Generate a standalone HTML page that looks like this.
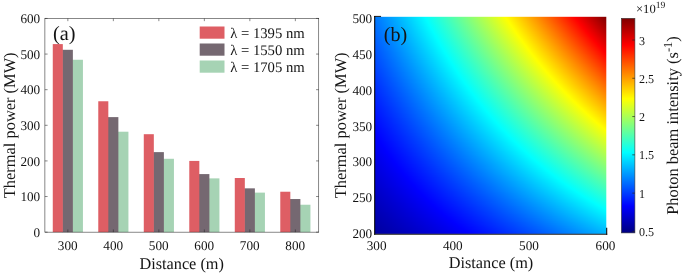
<!DOCTYPE html>
<html><head><meta charset="utf-8"><title>fig</title>
<style>html,body{margin:0;padding:0;background:#fff}svg{display:block}text{font-family:"Liberation Serif",serif;fill:#141414;text-rendering:geometricPrecision}#left,#right{will-change:transform}</style></head><body>
<svg width="685" height="275" viewBox="0 0 685 275">
<rect width="685" height="275" fill="#fff"/>
<g id="left">
<rect x="72.28" y="59.77" width="10.65" height="172.38" fill="#a6d3b4"/>
<rect x="62.22" y="49.79" width="10.65" height="182.36" fill="#756871"/>
<rect x="52.77" y="44.09" width="10.05" height="188.06" fill="#de5e64"/>
<rect x="117.78" y="131.71" width="10.65" height="100.44" fill="#a6d3b4"/>
<rect x="107.72" y="117.11" width="10.65" height="115.04" fill="#756871"/>
<rect x="98.27" y="101.26" width="10.05" height="130.89" fill="#de5e64"/>
<rect x="163.28" y="158.78" width="10.65" height="73.37" fill="#a6d3b4"/>
<rect x="153.23" y="152.12" width="10.65" height="80.03" fill="#756871"/>
<rect x="143.78" y="134.20" width="10.05" height="97.95" fill="#de5e64"/>
<rect x="208.78" y="178.37" width="10.65" height="53.78" fill="#a6d3b4"/>
<rect x="198.73" y="174.09" width="10.65" height="58.06" fill="#756871"/>
<rect x="189.28" y="160.92" width="10.05" height="71.23" fill="#de5e64"/>
<rect x="254.28" y="192.62" width="10.65" height="39.53" fill="#a6d3b4"/>
<rect x="244.23" y="188.34" width="10.65" height="43.81" fill="#756871"/>
<rect x="234.78" y="178.01" width="10.05" height="54.14" fill="#de5e64"/>
<rect x="299.78" y="204.73" width="10.65" height="27.42" fill="#a6d3b4"/>
<rect x="289.73" y="199.03" width="10.65" height="33.12" fill="#756871"/>
<rect x="280.28" y="191.73" width="10.05" height="40.42" fill="#de5e64"/>
<rect x="44.90" y="18.45" width="273.85" height="213.70" fill="none" stroke="#262626" stroke-width="0.55"/>
<path d="M67.85 232.15v-2.70M67.85 18.45v2.70M113.35 232.15v-2.70M113.35 18.45v2.70M158.85 232.15v-2.70M158.85 18.45v2.70M204.35 232.15v-2.70M204.35 18.45v2.70M249.85 232.15v-2.70M249.85 18.45v2.70M295.35 232.15v-2.70M295.35 18.45v2.70M44.90 232.15h2.70M318.75 232.15h-2.70M44.90 196.53h2.70M318.75 196.53h-2.70M44.90 160.92h2.70M318.75 160.92h-2.70M44.90 125.30h2.70M318.75 125.30h-2.70M44.90 89.68h2.70M318.75 89.68h-2.70M44.90 54.07h2.70M318.75 54.07h-2.70M44.90 18.45h2.70M318.75 18.45h-2.70" stroke="#262626" stroke-width="0.55" fill="none"/>
<text x="40.2" y="236.85" font-size="13.2" text-anchor="end">0</text>
<text x="40.2" y="201.23" font-size="13.2" text-anchor="end">100</text>
<text x="40.2" y="165.62" font-size="13.2" text-anchor="end">200</text>
<text x="40.2" y="130.00" font-size="13.2" text-anchor="end">300</text>
<text x="40.2" y="94.38" font-size="13.2" text-anchor="end">400</text>
<text x="40.2" y="58.77" font-size="13.2" text-anchor="end">500</text>
<text x="40.2" y="23.15" font-size="13.2" text-anchor="end">600</text>
<text x="67.75" y="249.9" font-size="13.2" text-anchor="middle">300</text>
<text x="113.25" y="249.9" font-size="13.2" text-anchor="middle">400</text>
<text x="158.75" y="249.9" font-size="13.2" text-anchor="middle">500</text>
<text x="204.25" y="249.9" font-size="13.2" text-anchor="middle">600</text>
<text x="249.75" y="249.9" font-size="13.2" text-anchor="middle">700</text>
<text x="295.25" y="249.9" font-size="13.2" text-anchor="middle">800</text>
<text x="181.65" y="268.5" font-size="16.3" text-anchor="middle">Distance (m)</text>
<text transform="translate(14.7 125.3) rotate(-90)" font-size="16.42" text-anchor="middle">Thermal power (MW)</text>
<text x="53" y="39.8" font-size="20.3">(a)</text>
<rect x="199.7" y="26.50" width="24.8" height="12.2" fill="#de5e64"/>
<text x="230.2" y="37.70" font-size="14.7">λ = 1395 nm</text>
<rect x="199.7" y="43.50" width="24.8" height="12.2" fill="#756871"/>
<text x="230.2" y="54.70" font-size="14.7">λ = 1550 nm</text>
<rect x="199.7" y="60.50" width="24.8" height="12.2" fill="#a6d3b4"/>
<text x="230.2" y="71.70" font-size="14.7">λ = 1705 nm</text>
</g>
<g id="right">
<defs>
<linearGradient id="g0"><stop offset="0" stop-color="#07f"/><stop offset=".05" stop-color="#0094ff"/><stop offset=".1" stop-color="#00b3ff"/><stop offset=".15" stop-color="#00d2ff"/><stop offset=".2" stop-color="#00f3ff"/><stop offset=".218" stop-color="#0ff"/><stop offset=".25" stop-color="#16ffe9"/><stop offset=".3" stop-color="#38ffc7"/><stop offset=".35" stop-color="#5cffa3"/><stop offset=".4" stop-color="#80ff7f"/><stop offset=".45" stop-color="#a6ff59"/><stop offset=".5" stop-color="#cf3"/><stop offset=".55" stop-color="#f3ff0c"/><stop offset=".565" stop-color="#ff0"/><stop offset=".6" stop-color="#ffe200"/><stop offset=".65" stop-color="#ffb900"/><stop offset=".7" stop-color="#ff8f00"/><stop offset=".75" stop-color="#ff6400"/><stop offset=".8" stop-color="#ff3800"/><stop offset=".85" stop-color="#ff0c00"/><stop offset=".863" stop-color="#f00"/><stop offset=".9" stop-color="#d00"/><stop offset=".95" stop-color="#ae0000"/><stop offset="1" stop-color="#800000"/></linearGradient>
<linearGradient id="g1"><stop offset="0" stop-color="#0076ff"/><stop offset=".05" stop-color="#0094ff"/><stop offset=".1" stop-color="#00b2ff"/><stop offset=".15" stop-color="#00d2ff"/><stop offset=".2" stop-color="#00f2ff"/><stop offset=".219" stop-color="#0ff"/><stop offset=".25" stop-color="#15ffea"/><stop offset=".3" stop-color="#37ffc8"/><stop offset=".35" stop-color="#5bffa4"/><stop offset=".4" stop-color="#7fff80"/><stop offset=".45" stop-color="#a4ff5b"/><stop offset=".5" stop-color="#cbff34"/><stop offset=".55" stop-color="#f2ff0d"/><stop offset=".566" stop-color="#ff0"/><stop offset=".6" stop-color="#ffe400"/><stop offset=".65" stop-color="#fb0"/><stop offset=".7" stop-color="#ff9100"/><stop offset=".75" stop-color="#f60"/><stop offset=".8" stop-color="#ff3a00"/><stop offset=".85" stop-color="#ff0d00"/><stop offset=".865" stop-color="#f00"/><stop offset=".9" stop-color="#df0000"/><stop offset=".95" stop-color="#b00000"/><stop offset="1" stop-color="#810000"/></linearGradient>
<linearGradient id="g2"><stop offset="0" stop-color="#0075ff"/><stop offset=".05" stop-color="#0093ff"/><stop offset=".1" stop-color="#00b1ff"/><stop offset=".15" stop-color="#00d0ff"/><stop offset=".2" stop-color="#00f1ff"/><stop offset=".221" stop-color="#0ff"/><stop offset=".25" stop-color="#13ffec"/><stop offset=".3" stop-color="#36ffc9"/><stop offset=".35" stop-color="#59ffa6"/><stop offset=".4" stop-color="#7dff82"/><stop offset=".45" stop-color="#a2ff5d"/><stop offset=".5" stop-color="#c9ff36"/><stop offset=".55" stop-color="#f0ff0f"/><stop offset=".569" stop-color="#ff0"/><stop offset=".6" stop-color="#ffe600"/><stop offset=".65" stop-color="#ffbd00"/><stop offset=".7" stop-color="#ff9300"/><stop offset=".75" stop-color="#ff6900"/><stop offset=".8" stop-color="#ff3d00"/><stop offset=".85" stop-color="#ff1000"/><stop offset=".868" stop-color="#f00"/><stop offset=".9" stop-color="#e20000"/><stop offset=".95" stop-color="#b40000"/><stop offset="1" stop-color="#840000"/></linearGradient>
<linearGradient id="g3"><stop offset="0" stop-color="#0074ff"/><stop offset=".05" stop-color="#0091ff"/><stop offset=".1" stop-color="#00b0ff"/><stop offset=".15" stop-color="#00cfff"/><stop offset=".2" stop-color="#00efff"/><stop offset=".224" stop-color="#0ff"/><stop offset=".25" stop-color="#12ffed"/><stop offset=".3" stop-color="#34ffcb"/><stop offset=".35" stop-color="#57ffa8"/><stop offset=".4" stop-color="#7bff84"/><stop offset=".45" stop-color="#a0ff5f"/><stop offset=".5" stop-color="#c7ff38"/><stop offset=".55" stop-color="#ef1"/><stop offset=".572" stop-color="#ff0"/><stop offset=".6" stop-color="#ffe900"/><stop offset=".65" stop-color="#ffc000"/><stop offset=".7" stop-color="#ff9600"/><stop offset=".75" stop-color="#ff6b00"/><stop offset=".8" stop-color="#ff4000"/><stop offset=".85" stop-color="#ff1300"/><stop offset=".871" stop-color="#f00"/><stop offset=".9" stop-color="#e50000"/><stop offset=".95" stop-color="#b70000"/><stop offset="1" stop-color="#800"/></linearGradient>
<linearGradient id="g4"><stop offset="0" stop-color="#0073ff"/><stop offset=".05" stop-color="#0090ff"/><stop offset=".1" stop-color="#00afff"/><stop offset=".15" stop-color="#00ceff"/><stop offset=".2" stop-color="#0ef"/><stop offset=".226" stop-color="#0ff"/><stop offset=".25" stop-color="#10ffef"/><stop offset=".3" stop-color="#32ffcd"/><stop offset=".35" stop-color="#5fa"/><stop offset=".4" stop-color="#79ff86"/><stop offset=".45" stop-color="#9fff60"/><stop offset=".5" stop-color="#c4ff3b"/><stop offset=".55" stop-color="#ebff14"/><stop offset=".575" stop-color="#ff0"/><stop offset=".6" stop-color="#ffeb00"/><stop offset=".65" stop-color="#ffc200"/><stop offset=".7" stop-color="#f90"/><stop offset=".75" stop-color="#ff6e00"/><stop offset=".8" stop-color="#ff4300"/><stop offset=".85" stop-color="#ff1600"/><stop offset=".875" stop-color="#f00"/><stop offset=".9" stop-color="#e80000"/><stop offset=".95" stop-color="#ba0000"/><stop offset="1" stop-color="#8b0000"/></linearGradient>
<linearGradient id="g5"><stop offset="0" stop-color="#0072ff"/><stop offset=".05" stop-color="#008fff"/><stop offset=".1" stop-color="#00adff"/><stop offset=".15" stop-color="#0cf"/><stop offset=".2" stop-color="#00ecff"/><stop offset=".228" stop-color="#0ff"/><stop offset=".25" stop-color="#0ffff0"/><stop offset=".3" stop-color="#31ffce"/><stop offset=".35" stop-color="#54ffab"/><stop offset=".4" stop-color="#78ff87"/><stop offset=".45" stop-color="#9dff62"/><stop offset=".5" stop-color="#c2ff3d"/><stop offset=".55" stop-color="#e9ff16"/><stop offset=".578" stop-color="#ff0"/><stop offset=".6" stop-color="#ffed00"/><stop offset=".65" stop-color="#ffc500"/><stop offset=".7" stop-color="#ff9b00"/><stop offset=".75" stop-color="#ff7100"/><stop offset=".8" stop-color="#ff4500"/><stop offset=".85" stop-color="#ff1900"/><stop offset=".878" stop-color="#f00"/><stop offset=".9" stop-color="#eb0000"/><stop offset=".95" stop-color="#bd0000"/><stop offset="1" stop-color="#8f0000"/></linearGradient>
<linearGradient id="g6"><stop offset="0" stop-color="#0071ff"/><stop offset=".05" stop-color="#008eff"/><stop offset=".1" stop-color="#00acff"/><stop offset=".15" stop-color="#00cbff"/><stop offset=".2" stop-color="#00ebff"/><stop offset=".23" stop-color="#0ff"/><stop offset=".25" stop-color="#0dfff2"/><stop offset=".3" stop-color="#2fffd0"/><stop offset=".35" stop-color="#52ffad"/><stop offset=".4" stop-color="#76ff89"/><stop offset=".45" stop-color="#9bff64"/><stop offset=".5" stop-color="#c0ff3f"/><stop offset=".55" stop-color="#e7ff18"/><stop offset=".581" stop-color="#ff0"/><stop offset=".6" stop-color="#fff000"/><stop offset=".65" stop-color="#ffc700"/><stop offset=".7" stop-color="#ff9e00"/><stop offset=".75" stop-color="#ff7300"/><stop offset=".8" stop-color="#ff4800"/><stop offset=".85" stop-color="#ff1c00"/><stop offset=".882" stop-color="#f00"/><stop offset=".9" stop-color="#e00"/><stop offset=".95" stop-color="#c10000"/><stop offset="1" stop-color="#920000"/></linearGradient>
<linearGradient id="g7"><stop offset="0" stop-color="#0070ff"/><stop offset=".05" stop-color="#008dff"/><stop offset=".1" stop-color="#00abff"/><stop offset=".15" stop-color="#00caff"/><stop offset=".2" stop-color="#00eaff"/><stop offset=".233" stop-color="#0ff"/><stop offset=".25" stop-color="#0cfff3"/><stop offset=".3" stop-color="#2dffd2"/><stop offset=".35" stop-color="#50ffaf"/><stop offset=".4" stop-color="#74ff8b"/><stop offset=".45" stop-color="#9f6"/><stop offset=".5" stop-color="#beff41"/><stop offset=".55" stop-color="#e5ff1a"/><stop offset=".583" stop-color="#ff0"/><stop offset=".6" stop-color="#fff200"/><stop offset=".65" stop-color="#ffca00"/><stop offset=".7" stop-color="#ffa000"/><stop offset=".75" stop-color="#ff7600"/><stop offset=".8" stop-color="#ff4b00"/><stop offset=".85" stop-color="#ff1f00"/><stop offset=".885" stop-color="#f00"/><stop offset=".9" stop-color="#f20000"/><stop offset=".95" stop-color="#c40000"/><stop offset="1" stop-color="#960000"/></linearGradient>
<linearGradient id="g8"><stop offset="0" stop-color="#006fff"/><stop offset=".05" stop-color="#008cff"/><stop offset=".1" stop-color="#0af"/><stop offset=".15" stop-color="#00c8ff"/><stop offset=".2" stop-color="#00e8ff"/><stop offset=".235" stop-color="#0ff"/><stop offset=".25" stop-color="#0afff5"/><stop offset=".3" stop-color="#2cffd3"/><stop offset=".35" stop-color="#4effb1"/><stop offset=".4" stop-color="#72ff8d"/><stop offset=".45" stop-color="#97ff68"/><stop offset=".5" stop-color="#bcff43"/><stop offset=".55" stop-color="#e2ff1d"/><stop offset=".586" stop-color="#ff0"/><stop offset=".6" stop-color="#fff400"/><stop offset=".65" stop-color="#fc0"/><stop offset=".7" stop-color="#ffa300"/><stop offset=".75" stop-color="#ff7900"/><stop offset=".8" stop-color="#ff4e00"/><stop offset=".85" stop-color="#f20"/><stop offset=".889" stop-color="#f00"/><stop offset=".9" stop-color="#f50000"/><stop offset=".95" stop-color="#c70000"/><stop offset="1" stop-color="#900"/></linearGradient>
<linearGradient id="g9"><stop offset="0" stop-color="#006eff"/><stop offset=".05" stop-color="#008bff"/><stop offset=".1" stop-color="#00a8ff"/><stop offset=".15" stop-color="#00c7ff"/><stop offset=".2" stop-color="#00e7ff"/><stop offset=".237" stop-color="#0ff"/><stop offset=".25" stop-color="#08fff7"/><stop offset=".3" stop-color="#2affd5"/><stop offset=".35" stop-color="#4dffb2"/><stop offset=".4" stop-color="#70ff8f"/><stop offset=".45" stop-color="#95ff6a"/><stop offset=".5" stop-color="#baff45"/><stop offset=".55" stop-color="#e0ff1f"/><stop offset=".589" stop-color="#ff0"/><stop offset=".6" stop-color="#fff700"/><stop offset=".65" stop-color="#ffce00"/><stop offset=".7" stop-color="#ffa600"/><stop offset=".75" stop-color="#ff7c00"/><stop offset=".8" stop-color="#ff5100"/><stop offset=".85" stop-color="#ff2500"/><stop offset=".892" stop-color="#f00"/><stop offset=".9" stop-color="#f80000"/><stop offset=".95" stop-color="#cb0000"/><stop offset="1" stop-color="#9c0000"/></linearGradient>
<linearGradient id="g10"><stop offset="0" stop-color="#006dff"/><stop offset=".05" stop-color="#008aff"/><stop offset=".1" stop-color="#00a7ff"/><stop offset=".15" stop-color="#00c6ff"/><stop offset=".2" stop-color="#00e5ff"/><stop offset=".239" stop-color="#0ff"/><stop offset=".25" stop-color="#07fff8"/><stop offset=".3" stop-color="#28ffd7"/><stop offset=".35" stop-color="#4bffb4"/><stop offset=".4" stop-color="#6eff91"/><stop offset=".45" stop-color="#93ff6c"/><stop offset=".5" stop-color="#b8ff47"/><stop offset=".55" stop-color="#deff21"/><stop offset=".592" stop-color="#ff0"/><stop offset=".6" stop-color="#fff900"/><stop offset=".65" stop-color="#ffd100"/><stop offset=".7" stop-color="#ffa800"/><stop offset=".75" stop-color="#ff7e00"/><stop offset=".8" stop-color="#ff5400"/><stop offset=".85" stop-color="#ff2800"/><stop offset=".896" stop-color="#f00"/><stop offset=".9" stop-color="#fb0000"/><stop offset=".95" stop-color="#ce0000"/><stop offset="1" stop-color="#a00000"/></linearGradient>
<linearGradient id="g11"><stop offset="0" stop-color="#006cff"/><stop offset=".05" stop-color="#08f"/><stop offset=".1" stop-color="#00a6ff"/><stop offset=".15" stop-color="#00c4ff"/><stop offset=".2" stop-color="#00e4ff"/><stop offset=".242" stop-color="#0ff"/><stop offset=".25" stop-color="#05fffa"/><stop offset=".3" stop-color="#27ffd8"/><stop offset=".35" stop-color="#49ffb6"/><stop offset=".4" stop-color="#6cff93"/><stop offset=".45" stop-color="#91ff6e"/><stop offset=".5" stop-color="#b6ff49"/><stop offset=".55" stop-color="#dcff23"/><stop offset=".595" stop-color="#ff0"/><stop offset=".6" stop-color="#fffb00"/><stop offset=".65" stop-color="#ffd300"/><stop offset=".7" stop-color="#ffab00"/><stop offset=".75" stop-color="#ff8100"/><stop offset=".8" stop-color="#ff5700"/><stop offset=".85" stop-color="#ff2b00"/><stop offset=".899" stop-color="#f00"/><stop offset=".9" stop-color="#fe0000"/><stop offset=".95" stop-color="#d10000"/><stop offset="1" stop-color="#a30000"/></linearGradient>
<linearGradient id="g12"><stop offset="0" stop-color="#006bff"/><stop offset=".05" stop-color="#0087ff"/><stop offset=".1" stop-color="#00a5ff"/><stop offset=".15" stop-color="#00c3ff"/><stop offset=".2" stop-color="#00e3ff"/><stop offset=".244" stop-color="#0ff"/><stop offset=".25" stop-color="#04fffb"/><stop offset=".3" stop-color="#25ffda"/><stop offset=".35" stop-color="#47ffb8"/><stop offset=".4" stop-color="#6bff94"/><stop offset=".45" stop-color="#8fff70"/><stop offset=".5" stop-color="#b4ff4b"/><stop offset=".55" stop-color="#daff25"/><stop offset=".598" stop-color="#ff0"/><stop offset=".6" stop-color="#fffe00"/><stop offset=".65" stop-color="#ffd600"/><stop offset=".7" stop-color="#ffad00"/><stop offset=".75" stop-color="#ff8400"/><stop offset=".8" stop-color="#ff5a00"/><stop offset=".85" stop-color="#ff2e00"/><stop offset=".9" stop-color="#ff0200"/><stop offset=".903" stop-color="#f00"/><stop offset=".95" stop-color="#d40000"/><stop offset="1" stop-color="#a70000"/></linearGradient>
<linearGradient id="g13"><stop offset="0" stop-color="#006aff"/><stop offset=".05" stop-color="#0086ff"/><stop offset=".1" stop-color="#00a3ff"/><stop offset=".15" stop-color="#00c2ff"/><stop offset=".2" stop-color="#00e1ff"/><stop offset=".246" stop-color="#0ff"/><stop offset=".25" stop-color="#02fffd"/><stop offset=".3" stop-color="#24ffdb"/><stop offset=".35" stop-color="#46ffb9"/><stop offset=".4" stop-color="#69ff96"/><stop offset=".45" stop-color="#8dff72"/><stop offset=".5" stop-color="#b2ff4d"/><stop offset=".55" stop-color="#d7ff28"/><stop offset=".6" stop-color="#feff01"/><stop offset=".601" stop-color="#ff0"/><stop offset=".65" stop-color="#ffd800"/><stop offset=".7" stop-color="#ffb000"/><stop offset=".75" stop-color="#ff8700"/><stop offset=".8" stop-color="#ff5c00"/><stop offset=".85" stop-color="#ff3100"/><stop offset=".9" stop-color="#ff0500"/><stop offset=".906" stop-color="#f00"/><stop offset=".95" stop-color="#d80000"/><stop offset="1" stop-color="#a00"/></linearGradient>
<linearGradient id="g14"><stop offset="0" stop-color="#0069ff"/><stop offset=".05" stop-color="#0085ff"/><stop offset=".1" stop-color="#00a2ff"/><stop offset=".15" stop-color="#00c0ff"/><stop offset=".2" stop-color="#00e0ff"/><stop offset=".249" stop-color="#0ff"/><stop offset=".25" stop-color="#01fffe"/><stop offset=".3" stop-color="#2fd"/><stop offset=".35" stop-color="#4fb"/><stop offset=".4" stop-color="#67ff98"/><stop offset=".45" stop-color="#8bff74"/><stop offset=".5" stop-color="#b0ff4f"/><stop offset=".55" stop-color="#d5ff2a"/><stop offset=".6" stop-color="#fcff03"/><stop offset=".604" stop-color="#ff0"/><stop offset=".65" stop-color="#ffdb00"/><stop offset=".7" stop-color="#ffb200"/><stop offset=".75" stop-color="#ff8900"/><stop offset=".8" stop-color="#ff5f00"/><stop offset=".85" stop-color="#ff3400"/><stop offset=".9" stop-color="#ff0900"/><stop offset=".91" stop-color="#f00"/><stop offset=".95" stop-color="#db0000"/><stop offset="1" stop-color="#ae0000"/></linearGradient>
<linearGradient id="g15"><stop offset="0" stop-color="#0068ff"/><stop offset=".05" stop-color="#0084ff"/><stop offset=".1" stop-color="#00a1ff"/><stop offset=".15" stop-color="#00bfff"/><stop offset=".2" stop-color="#00deff"/><stop offset=".25" stop-color="#00feff"/><stop offset=".251" stop-color="#0ff"/><stop offset=".3" stop-color="#20ffdf"/><stop offset=".35" stop-color="#42ffbd"/><stop offset=".4" stop-color="#65ff9a"/><stop offset=".45" stop-color="#89ff76"/><stop offset=".5" stop-color="#adff52"/><stop offset=".55" stop-color="#d3ff2c"/><stop offset=".6" stop-color="#f9ff06"/><stop offset=".607" stop-color="#ff0"/><stop offset=".65" stop-color="#fd0"/><stop offset=".7" stop-color="#ffb500"/><stop offset=".75" stop-color="#ff8c00"/><stop offset=".8" stop-color="#ff6200"/><stop offset=".85" stop-color="#ff3700"/><stop offset=".9" stop-color="#ff0c00"/><stop offset=".913" stop-color="#f00"/><stop offset=".95" stop-color="#de0000"/><stop offset="1" stop-color="#b10000"/></linearGradient>
<linearGradient id="g16"><stop offset="0" stop-color="#0067ff"/><stop offset=".05" stop-color="#0083ff"/><stop offset=".1" stop-color="#00a0ff"/><stop offset=".15" stop-color="#00beff"/><stop offset=".2" stop-color="#0df"/><stop offset=".25" stop-color="#00fdff"/><stop offset=".253" stop-color="#0ff"/><stop offset=".3" stop-color="#1fffe0"/><stop offset=".35" stop-color="#40ffbf"/><stop offset=".4" stop-color="#63ff9c"/><stop offset=".45" stop-color="#87ff78"/><stop offset=".5" stop-color="#abff54"/><stop offset=".55" stop-color="#d1ff2e"/><stop offset=".6" stop-color="#f7ff08"/><stop offset=".61" stop-color="#ff0"/><stop offset=".65" stop-color="#ffe000"/><stop offset=".7" stop-color="#ffb800"/><stop offset=".75" stop-color="#ff8f00"/><stop offset=".8" stop-color="#ff6500"/><stop offset=".85" stop-color="#ff3a00"/><stop offset=".9" stop-color="#ff0f00"/><stop offset=".917" stop-color="#f00"/><stop offset=".95" stop-color="#e20000"/><stop offset="1" stop-color="#b40000"/></linearGradient>
<linearGradient id="g17"><stop offset="0" stop-color="#06f"/><stop offset=".05" stop-color="#0082ff"/><stop offset=".1" stop-color="#009fff"/><stop offset=".15" stop-color="#00bdff"/><stop offset=".2" stop-color="#00dbff"/><stop offset=".25" stop-color="#00fbff"/><stop offset=".256" stop-color="#0ff"/><stop offset=".3" stop-color="#1dffe2"/><stop offset=".35" stop-color="#3fffc0"/><stop offset=".4" stop-color="#61ff9e"/><stop offset=".45" stop-color="#85ff7a"/><stop offset=".5" stop-color="#a9ff56"/><stop offset=".55" stop-color="#cfff30"/><stop offset=".6" stop-color="#f5ff0a"/><stop offset=".613" stop-color="#ff0"/><stop offset=".65" stop-color="#ffe200"/><stop offset=".7" stop-color="#ffba00"/><stop offset=".75" stop-color="#ff9100"/><stop offset=".8" stop-color="#ff6800"/><stop offset=".85" stop-color="#ff3d00"/><stop offset=".9" stop-color="#ff1200"/><stop offset=".92" stop-color="#f00"/><stop offset=".95" stop-color="#e50000"/><stop offset="1" stop-color="#b80000"/></linearGradient>
<linearGradient id="g18"><stop offset="0" stop-color="#0065ff"/><stop offset=".05" stop-color="#0081ff"/><stop offset=".1" stop-color="#009dff"/><stop offset=".15" stop-color="#0bf"/><stop offset=".2" stop-color="#00daff"/><stop offset=".25" stop-color="#00faff"/><stop offset=".258" stop-color="#0ff"/><stop offset=".3" stop-color="#1bffe4"/><stop offset=".35" stop-color="#3dffc2"/><stop offset=".4" stop-color="#60ff9f"/><stop offset=".45" stop-color="#83ff7c"/><stop offset=".5" stop-color="#a7ff58"/><stop offset=".55" stop-color="#cf3"/><stop offset=".6" stop-color="#f2ff0d"/><stop offset=".616" stop-color="#ff0"/><stop offset=".65" stop-color="#ffe500"/><stop offset=".7" stop-color="#ffbd00"/><stop offset=".75" stop-color="#ff9400"/><stop offset=".8" stop-color="#ff6b00"/><stop offset=".85" stop-color="#ff4000"/><stop offset=".9" stop-color="#ff1500"/><stop offset=".924" stop-color="#f00"/><stop offset=".95" stop-color="#e80000"/><stop offset="1" stop-color="#b00"/></linearGradient>
<linearGradient id="g19"><stop offset="0" stop-color="#0064ff"/><stop offset=".05" stop-color="#007fff"/><stop offset=".1" stop-color="#009cff"/><stop offset=".15" stop-color="#00baff"/><stop offset=".2" stop-color="#00d9ff"/><stop offset=".25" stop-color="#00f8ff"/><stop offset=".261" stop-color="#0ff"/><stop offset=".3" stop-color="#1affe5"/><stop offset=".35" stop-color="#3bffc4"/><stop offset=".4" stop-color="#5effa1"/><stop offset=".45" stop-color="#81ff7e"/><stop offset=".5" stop-color="#a5ff5a"/><stop offset=".55" stop-color="#caff35"/><stop offset=".6" stop-color="#f0ff0f"/><stop offset=".619" stop-color="#ff0"/><stop offset=".65" stop-color="#ffe700"/><stop offset=".7" stop-color="#ffbf00"/><stop offset=".75" stop-color="#ff9700"/><stop offset=".8" stop-color="#ff6d00"/><stop offset=".85" stop-color="#ff4300"/><stop offset=".9" stop-color="#ff1800"/><stop offset=".928" stop-color="#f00"/><stop offset=".95" stop-color="#eb0000"/><stop offset="1" stop-color="#bf0000"/></linearGradient>
<linearGradient id="g20"><stop offset="0" stop-color="#0063ff"/><stop offset=".05" stop-color="#007eff"/><stop offset=".1" stop-color="#009bff"/><stop offset=".15" stop-color="#00b9ff"/><stop offset=".2" stop-color="#00d7ff"/><stop offset=".25" stop-color="#00f7ff"/><stop offset=".263" stop-color="#0ff"/><stop offset=".3" stop-color="#18ffe7"/><stop offset=".35" stop-color="#3affc5"/><stop offset=".4" stop-color="#5cffa3"/><stop offset=".45" stop-color="#7fff80"/><stop offset=".5" stop-color="#a3ff5c"/><stop offset=".55" stop-color="#c8ff37"/><stop offset=".6" stop-color="#ef1"/><stop offset=".622" stop-color="#ff0"/><stop offset=".65" stop-color="#ffea00"/><stop offset=".7" stop-color="#ffc200"/><stop offset=".75" stop-color="#ff9a00"/><stop offset=".8" stop-color="#ff7000"/><stop offset=".85" stop-color="#ff4600"/><stop offset=".9" stop-color="#ff1b00"/><stop offset=".931" stop-color="#f00"/><stop offset=".95" stop-color="#ef0000"/><stop offset="1" stop-color="#c20000"/></linearGradient>
<linearGradient id="g21"><stop offset="0" stop-color="#0061ff"/><stop offset=".05" stop-color="#007dff"/><stop offset=".1" stop-color="#009aff"/><stop offset=".15" stop-color="#00b7ff"/><stop offset=".2" stop-color="#00d6ff"/><stop offset=".25" stop-color="#00f5ff"/><stop offset=".265" stop-color="#0ff"/><stop offset=".3" stop-color="#17ffe8"/><stop offset=".35" stop-color="#38ffc7"/><stop offset=".4" stop-color="#5affa5"/><stop offset=".45" stop-color="#7dff82"/><stop offset=".5" stop-color="#a1ff5e"/><stop offset=".55" stop-color="#c6ff39"/><stop offset=".6" stop-color="#ebff14"/><stop offset=".625" stop-color="#ff0"/><stop offset=".65" stop-color="#ffec00"/><stop offset=".7" stop-color="#ffc500"/><stop offset=".75" stop-color="#ff9c00"/><stop offset=".8" stop-color="#ff7300"/><stop offset=".85" stop-color="#ff4900"/><stop offset=".9" stop-color="#ff1f00"/><stop offset=".935" stop-color="#f00"/><stop offset=".95" stop-color="#f20000"/><stop offset="1" stop-color="#c60000"/></linearGradient>
<linearGradient id="g22"><stop offset="0" stop-color="#0060ff"/><stop offset=".05" stop-color="#007cff"/><stop offset=".1" stop-color="#09f"/><stop offset=".15" stop-color="#00b6ff"/><stop offset=".2" stop-color="#00d4ff"/><stop offset=".25" stop-color="#00f4ff"/><stop offset=".268" stop-color="#0ff"/><stop offset=".3" stop-color="#15ffea"/><stop offset=".35" stop-color="#36ffc9"/><stop offset=".4" stop-color="#58ffa7"/><stop offset=".45" stop-color="#7bff84"/><stop offset=".5" stop-color="#9fff60"/><stop offset=".55" stop-color="#c4ff3b"/><stop offset=".6" stop-color="#e9ff16"/><stop offset=".629" stop-color="#ff0"/><stop offset=".65" stop-color="#fe0"/><stop offset=".7" stop-color="#ffc700"/><stop offset=".75" stop-color="#ff9f00"/><stop offset=".8" stop-color="#ff7600"/><stop offset=".85" stop-color="#ff4c00"/><stop offset=".9" stop-color="#f20"/><stop offset=".939" stop-color="#f00"/><stop offset=".95" stop-color="#f50000"/><stop offset="1" stop-color="#c90000"/></linearGradient>
<linearGradient id="g23"><stop offset="0" stop-color="#005fff"/><stop offset=".05" stop-color="#007bff"/><stop offset=".1" stop-color="#0097ff"/><stop offset=".15" stop-color="#00b5ff"/><stop offset=".2" stop-color="#00d3ff"/><stop offset=".25" stop-color="#00f2ff"/><stop offset=".27" stop-color="#0ff"/><stop offset=".3" stop-color="#13ffec"/><stop offset=".35" stop-color="#34ffcb"/><stop offset=".4" stop-color="#56ffa9"/><stop offset=".45" stop-color="#79ff86"/><stop offset=".5" stop-color="#9dff62"/><stop offset=".55" stop-color="#c1ff3e"/><stop offset=".6" stop-color="#e7ff18"/><stop offset=".632" stop-color="#ff0"/><stop offset=".65" stop-color="#fff100"/><stop offset=".7" stop-color="#ffca00"/><stop offset=".75" stop-color="#ffa200"/><stop offset=".8" stop-color="#ff7900"/><stop offset=".85" stop-color="#ff4f00"/><stop offset=".9" stop-color="#ff2500"/><stop offset=".943" stop-color="#f00"/><stop offset=".95" stop-color="#f80000"/><stop offset="1" stop-color="#c00"/></linearGradient>
<linearGradient id="g24"><stop offset="0" stop-color="#005eff"/><stop offset=".05" stop-color="#007aff"/><stop offset=".1" stop-color="#0096ff"/><stop offset=".15" stop-color="#00b3ff"/><stop offset=".2" stop-color="#00d2ff"/><stop offset=".25" stop-color="#00f1ff"/><stop offset=".273" stop-color="#0ff"/><stop offset=".3" stop-color="#12ffed"/><stop offset=".35" stop-color="#3fc"/><stop offset=".4" stop-color="#54ffab"/><stop offset=".45" stop-color="#7f8"/><stop offset=".5" stop-color="#9bff64"/><stop offset=".55" stop-color="#bfff40"/><stop offset=".6" stop-color="#e5ff1a"/><stop offset=".635" stop-color="#ff0"/><stop offset=".65" stop-color="#fff300"/><stop offset=".7" stop-color="#fc0"/><stop offset=".75" stop-color="#ffa400"/><stop offset=".8" stop-color="#ff7c00"/><stop offset=".85" stop-color="#ff5200"/><stop offset=".9" stop-color="#ff2800"/><stop offset=".946" stop-color="#f00"/><stop offset=".95" stop-color="#fc0000"/><stop offset="1" stop-color="#d00000"/></linearGradient>
<linearGradient id="g25"><stop offset="0" stop-color="#005dff"/><stop offset=".05" stop-color="#0079ff"/><stop offset=".1" stop-color="#0095ff"/><stop offset=".15" stop-color="#00b2ff"/><stop offset=".2" stop-color="#00d0ff"/><stop offset=".25" stop-color="#00efff"/><stop offset=".275" stop-color="#0ff"/><stop offset=".3" stop-color="#10ffef"/><stop offset=".35" stop-color="#31ffce"/><stop offset=".4" stop-color="#53ffac"/><stop offset=".45" stop-color="#75ff8a"/><stop offset=".5" stop-color="#9f6"/><stop offset=".55" stop-color="#bdff42"/><stop offset=".6" stop-color="#e2ff1d"/><stop offset=".638" stop-color="#ff0"/><stop offset=".65" stop-color="#fff600"/><stop offset=".7" stop-color="#ffcf00"/><stop offset=".75" stop-color="#ffa700"/><stop offset=".8" stop-color="#ff7f00"/><stop offset=".85" stop-color="#f50"/><stop offset=".9" stop-color="#ff2b00"/><stop offset=".95" stop-color="#f00"/><stop offset="1" stop-color="#d30000"/></linearGradient>
<linearGradient id="g26"><stop offset="0" stop-color="#005cff"/><stop offset=".05" stop-color="#0078ff"/><stop offset=".1" stop-color="#0094ff"/><stop offset=".15" stop-color="#00b1ff"/><stop offset=".2" stop-color="#00cfff"/><stop offset=".25" stop-color="#0ef"/><stop offset=".278" stop-color="#0ff"/><stop offset=".3" stop-color="#0efff1"/><stop offset=".35" stop-color="#2fffd0"/><stop offset=".4" stop-color="#51ffae"/><stop offset=".45" stop-color="#73ff8c"/><stop offset=".5" stop-color="#97ff68"/><stop offset=".55" stop-color="#bf4"/><stop offset=".6" stop-color="#e0ff1f"/><stop offset=".641" stop-color="#ff0"/><stop offset=".65" stop-color="#fff800"/><stop offset=".7" stop-color="#ffd100"/><stop offset=".75" stop-color="#fa0"/><stop offset=".8" stop-color="#ff8100"/><stop offset=".85" stop-color="#ff5800"/><stop offset=".9" stop-color="#ff2e00"/><stop offset=".95" stop-color="#ff0300"/><stop offset=".954" stop-color="#f00"/><stop offset="1" stop-color="#d70000"/></linearGradient>
<linearGradient id="g27"><stop offset="0" stop-color="#005bff"/><stop offset=".05" stop-color="#0076ff"/><stop offset=".1" stop-color="#0092ff"/><stop offset=".15" stop-color="#00afff"/><stop offset=".2" stop-color="#00cdff"/><stop offset=".25" stop-color="#00ecff"/><stop offset=".28" stop-color="#0ff"/><stop offset=".3" stop-color="#0dfff2"/><stop offset=".35" stop-color="#2dffd2"/><stop offset=".4" stop-color="#4fffb0"/><stop offset=".45" stop-color="#71ff8e"/><stop offset=".5" stop-color="#95ff6a"/><stop offset=".55" stop-color="#b9ff46"/><stop offset=".6" stop-color="#deff21"/><stop offset=".644" stop-color="#ff0"/><stop offset=".65" stop-color="#fffb00"/><stop offset=".7" stop-color="#ffd400"/><stop offset=".75" stop-color="#ffad00"/><stop offset=".8" stop-color="#ff8400"/><stop offset=".85" stop-color="#ff5b00"/><stop offset=".9" stop-color="#ff3100"/><stop offset=".95" stop-color="#ff0700"/><stop offset=".958" stop-color="#f00"/><stop offset="1" stop-color="#da0000"/></linearGradient>
<linearGradient id="g28"><stop offset="0" stop-color="#005aff"/><stop offset=".05" stop-color="#0075ff"/><stop offset=".1" stop-color="#0091ff"/><stop offset=".15" stop-color="#00aeff"/><stop offset=".2" stop-color="#0cf"/><stop offset=".25" stop-color="#00ebff"/><stop offset=".282" stop-color="#0ff"/><stop offset=".3" stop-color="#0bfff4"/><stop offset=".35" stop-color="#2cffd3"/><stop offset=".4" stop-color="#4dffb2"/><stop offset=".45" stop-color="#6fff90"/><stop offset=".5" stop-color="#92ff6d"/><stop offset=".55" stop-color="#b6ff49"/><stop offset=".6" stop-color="#dbff24"/><stop offset=".648" stop-color="#ff0"/><stop offset=".65" stop-color="#fffd00"/><stop offset=".7" stop-color="#ffd700"/><stop offset=".75" stop-color="#ffaf00"/><stop offset=".8" stop-color="#ff8700"/><stop offset=".85" stop-color="#ff5e00"/><stop offset=".9" stop-color="#ff3400"/><stop offset=".95" stop-color="#ff0a00"/><stop offset=".961" stop-color="#f00"/><stop offset="1" stop-color="#d00"/></linearGradient>
<linearGradient id="g29"><stop offset="0" stop-color="#0059ff"/><stop offset=".05" stop-color="#0074ff"/><stop offset=".1" stop-color="#0090ff"/><stop offset=".15" stop-color="#00adff"/><stop offset=".2" stop-color="#00caff"/><stop offset=".25" stop-color="#00e9ff"/><stop offset=".285" stop-color="#0ff"/><stop offset=".3" stop-color="#0afff5"/><stop offset=".35" stop-color="#2affd5"/><stop offset=".4" stop-color="#4bffb4"/><stop offset=".45" stop-color="#6dff92"/><stop offset=".5" stop-color="#90ff6f"/><stop offset=".55" stop-color="#b4ff4b"/><stop offset=".6" stop-color="#d9ff26"/><stop offset=".65" stop-color="#feff01"/><stop offset=".651" stop-color="#ff0"/><stop offset=".7" stop-color="#ffd900"/><stop offset=".75" stop-color="#ffb200"/><stop offset=".8" stop-color="#ff8a00"/><stop offset=".85" stop-color="#ff6100"/><stop offset=".9" stop-color="#ff3700"/><stop offset=".95" stop-color="#ff0d00"/><stop offset=".965" stop-color="#f00"/><stop offset="1" stop-color="#e10000"/></linearGradient>
<linearGradient id="g30"><stop offset="0" stop-color="#0058ff"/><stop offset=".05" stop-color="#0073ff"/><stop offset=".1" stop-color="#008fff"/><stop offset=".15" stop-color="#00abff"/><stop offset=".2" stop-color="#00c9ff"/><stop offset=".25" stop-color="#00e8ff"/><stop offset=".287" stop-color="#0ff"/><stop offset=".3" stop-color="#08fff7"/><stop offset=".35" stop-color="#28ffd7"/><stop offset=".4" stop-color="#49ffb6"/><stop offset=".45" stop-color="#6bff94"/><stop offset=".5" stop-color="#8eff71"/><stop offset=".55" stop-color="#b2ff4d"/><stop offset=".6" stop-color="#d7ff28"/><stop offset=".65" stop-color="#fcff03"/><stop offset=".654" stop-color="#ff0"/><stop offset=".7" stop-color="#ffdc00"/><stop offset=".75" stop-color="#ffb500"/><stop offset=".8" stop-color="#ff8d00"/><stop offset=".85" stop-color="#ff6400"/><stop offset=".9" stop-color="#ff3b00"/><stop offset=".95" stop-color="#ff1000"/><stop offset=".969" stop-color="#f00"/><stop offset="1" stop-color="#e40000"/></linearGradient>
<linearGradient id="g31"><stop offset="0" stop-color="#0057ff"/><stop offset=".05" stop-color="#0072ff"/><stop offset=".1" stop-color="#008eff"/><stop offset=".15" stop-color="#0af"/><stop offset=".2" stop-color="#00c8ff"/><stop offset=".25" stop-color="#00e6ff"/><stop offset=".29" stop-color="#0ff"/><stop offset=".3" stop-color="#06fff9"/><stop offset=".35" stop-color="#26ffd9"/><stop offset=".4" stop-color="#48ffb7"/><stop offset=".45" stop-color="#69ff96"/><stop offset=".5" stop-color="#8cff73"/><stop offset=".55" stop-color="#b0ff4f"/><stop offset=".6" stop-color="#d4ff2b"/><stop offset=".65" stop-color="#faff05"/><stop offset=".657" stop-color="#ff0"/><stop offset=".7" stop-color="#ffde00"/><stop offset=".75" stop-color="#ffb700"/><stop offset=".8" stop-color="#ff9000"/><stop offset=".85" stop-color="#ff6700"/><stop offset=".9" stop-color="#ff3e00"/><stop offset=".95" stop-color="#ff1400"/><stop offset=".973" stop-color="#f00"/><stop offset="1" stop-color="#e80000"/></linearGradient>
<linearGradient id="g32"><stop offset="0" stop-color="#0056ff"/><stop offset=".05" stop-color="#0071ff"/><stop offset=".1" stop-color="#008cff"/><stop offset=".15" stop-color="#00a9ff"/><stop offset=".2" stop-color="#00c6ff"/><stop offset=".25" stop-color="#00e5ff"/><stop offset=".293" stop-color="#0ff"/><stop offset=".3" stop-color="#05fffa"/><stop offset=".35" stop-color="#25ffda"/><stop offset=".4" stop-color="#46ffb9"/><stop offset=".45" stop-color="#67ff98"/><stop offset=".5" stop-color="#8aff75"/><stop offset=".55" stop-color="#aeff51"/><stop offset=".6" stop-color="#d2ff2d"/><stop offset=".65" stop-color="#f7ff08"/><stop offset=".66" stop-color="#ff0"/><stop offset=".7" stop-color="#ffe100"/><stop offset=".75" stop-color="#ffba00"/><stop offset=".8" stop-color="#ff9200"/><stop offset=".85" stop-color="#ff6a00"/><stop offset=".9" stop-color="#ff4100"/><stop offset=".95" stop-color="#ff1700"/><stop offset=".977" stop-color="#f00"/><stop offset="1" stop-color="#eb0000"/></linearGradient>
<linearGradient id="g33"><stop offset="0" stop-color="#05f"/><stop offset=".05" stop-color="#0070ff"/><stop offset=".1" stop-color="#008bff"/><stop offset=".15" stop-color="#00a8ff"/><stop offset=".2" stop-color="#00c5ff"/><stop offset=".25" stop-color="#00e3ff"/><stop offset=".295" stop-color="#0ff"/><stop offset=".3" stop-color="#03fffc"/><stop offset=".35" stop-color="#23ffdc"/><stop offset=".4" stop-color="#4fb"/><stop offset=".45" stop-color="#6f9"/><stop offset=".5" stop-color="#8f7"/><stop offset=".55" stop-color="#abff54"/><stop offset=".6" stop-color="#d0ff2f"/><stop offset=".65" stop-color="#f5ff0a"/><stop offset=".664" stop-color="#ff0"/><stop offset=".7" stop-color="#ffe300"/><stop offset=".75" stop-color="#ffbd00"/><stop offset=".8" stop-color="#ff9500"/><stop offset=".85" stop-color="#ff6d00"/><stop offset=".9" stop-color="#f40"/><stop offset=".95" stop-color="#ff1a00"/><stop offset=".981" stop-color="#f00"/><stop offset="1" stop-color="#e00"/></linearGradient>
<linearGradient id="g34"><stop offset="0" stop-color="#0054ff"/><stop offset=".05" stop-color="#006fff"/><stop offset=".1" stop-color="#008aff"/><stop offset=".15" stop-color="#00a6ff"/><stop offset=".2" stop-color="#00c3ff"/><stop offset=".25" stop-color="#00e1ff"/><stop offset=".298" stop-color="#0ff"/><stop offset=".3" stop-color="#01fffe"/><stop offset=".35" stop-color="#21ffde"/><stop offset=".4" stop-color="#42ffbd"/><stop offset=".45" stop-color="#64ff9b"/><stop offset=".5" stop-color="#86ff79"/><stop offset=".55" stop-color="#a9ff56"/><stop offset=".6" stop-color="#cdff32"/><stop offset=".65" stop-color="#f2ff0d"/><stop offset=".667" stop-color="#ff0"/><stop offset=".7" stop-color="#ffe600"/><stop offset=".75" stop-color="#ffbf00"/><stop offset=".8" stop-color="#ff9800"/><stop offset=".85" stop-color="#ff7000"/><stop offset=".9" stop-color="#ff4700"/><stop offset=".95" stop-color="#ff1d00"/><stop offset=".985" stop-color="#f00"/><stop offset="1" stop-color="#f20000"/></linearGradient>
<linearGradient id="g35"><stop offset="0" stop-color="#0053ff"/><stop offset=".05" stop-color="#006dff"/><stop offset=".1" stop-color="#0089ff"/><stop offset=".15" stop-color="#00a5ff"/><stop offset=".2" stop-color="#00c2ff"/><stop offset=".25" stop-color="#00e0ff"/><stop offset=".3" stop-color="#0ff"/><stop offset=".35" stop-color="#20ffdf"/><stop offset=".4" stop-color="#40ffbf"/><stop offset=".45" stop-color="#62ff9d"/><stop offset=".5" stop-color="#84ff7b"/><stop offset=".55" stop-color="#a7ff58"/><stop offset=".6" stop-color="#cbff34"/><stop offset=".65" stop-color="#f0ff0f"/><stop offset=".67" stop-color="#ff0"/><stop offset=".7" stop-color="#ffe900"/><stop offset=".75" stop-color="#ffc200"/><stop offset=".8" stop-color="#ff9b00"/><stop offset=".85" stop-color="#ff7300"/><stop offset=".9" stop-color="#ff4a00"/><stop offset=".95" stop-color="#ff2100"/><stop offset=".989" stop-color="#f00"/><stop offset="1" stop-color="#f50000"/></linearGradient>
<linearGradient id="g36"><stop offset="0" stop-color="#0052ff"/><stop offset=".05" stop-color="#006cff"/><stop offset=".1" stop-color="#0087ff"/><stop offset=".15" stop-color="#00a4ff"/><stop offset=".2" stop-color="#00c1ff"/><stop offset=".25" stop-color="#00deff"/><stop offset=".3" stop-color="#00fdff"/><stop offset=".303" stop-color="#0ff"/><stop offset=".35" stop-color="#1effe1"/><stop offset=".4" stop-color="#3effc1"/><stop offset=".45" stop-color="#60ff9f"/><stop offset=".5" stop-color="#82ff7d"/><stop offset=".55" stop-color="#a5ff5a"/><stop offset=".6" stop-color="#c9ff36"/><stop offset=".65" stop-color="#edff12"/><stop offset=".674" stop-color="#ff0"/><stop offset=".7" stop-color="#ffeb00"/><stop offset=".75" stop-color="#ffc500"/><stop offset=".8" stop-color="#ff9e00"/><stop offset=".85" stop-color="#ff7600"/><stop offset=".9" stop-color="#ff4d00"/><stop offset=".95" stop-color="#ff2400"/><stop offset=".993" stop-color="#f00"/><stop offset="1" stop-color="#f90000"/></linearGradient>
<linearGradient id="g37"><stop offset="0" stop-color="#0051ff"/><stop offset=".05" stop-color="#006bff"/><stop offset=".1" stop-color="#0086ff"/><stop offset=".15" stop-color="#00a2ff"/><stop offset=".2" stop-color="#00bfff"/><stop offset=".25" stop-color="#0df"/><stop offset=".3" stop-color="#00fcff"/><stop offset=".305" stop-color="#0ff"/><stop offset=".35" stop-color="#1cffe3"/><stop offset=".4" stop-color="#3cffc3"/><stop offset=".45" stop-color="#5effa1"/><stop offset=".5" stop-color="#80ff7f"/><stop offset=".55" stop-color="#a3ff5c"/><stop offset=".6" stop-color="#c6ff39"/><stop offset=".65" stop-color="#ebff14"/><stop offset=".677" stop-color="#ff0"/><stop offset=".7" stop-color="#fe0"/><stop offset=".75" stop-color="#ffc800"/><stop offset=".8" stop-color="#ffa100"/><stop offset=".85" stop-color="#ff7900"/><stop offset=".9" stop-color="#ff5000"/><stop offset=".95" stop-color="#ff2700"/><stop offset=".997" stop-color="#f00"/><stop offset="1" stop-color="#fc0000"/></linearGradient>
<linearGradient id="g38"><stop offset="0" stop-color="#0050ff"/><stop offset=".05" stop-color="#006aff"/><stop offset=".1" stop-color="#0085ff"/><stop offset=".15" stop-color="#00a1ff"/><stop offset=".2" stop-color="#00beff"/><stop offset=".25" stop-color="#00dbff"/><stop offset=".3" stop-color="#00faff"/><stop offset=".308" stop-color="#0ff"/><stop offset=".35" stop-color="#1affe5"/><stop offset=".4" stop-color="#3bffc4"/><stop offset=".45" stop-color="#5cffa3"/><stop offset=".5" stop-color="#7eff81"/><stop offset=".55" stop-color="#a0ff5f"/><stop offset=".6" stop-color="#c4ff3b"/><stop offset=".65" stop-color="#e8ff17"/><stop offset=".68" stop-color="#ff0"/><stop offset=".7" stop-color="#fff000"/><stop offset=".75" stop-color="#ffca00"/><stop offset=".8" stop-color="#ffa300"/><stop offset=".85" stop-color="#ff7c00"/><stop offset=".9" stop-color="#ff5400"/><stop offset=".95" stop-color="#ff2a00"/><stop offset="1" stop-color="#f00"/></linearGradient>
<linearGradient id="g39"><stop offset="0" stop-color="#004fff"/><stop offset=".05" stop-color="#0069ff"/><stop offset=".1" stop-color="#0084ff"/><stop offset=".15" stop-color="#00a0ff"/><stop offset=".2" stop-color="#00bcff"/><stop offset=".25" stop-color="#00daff"/><stop offset=".3" stop-color="#00f8ff"/><stop offset=".311" stop-color="#0ff"/><stop offset=".35" stop-color="#19ffe6"/><stop offset=".4" stop-color="#39ffc6"/><stop offset=".45" stop-color="#5affa5"/><stop offset=".5" stop-color="#7cff83"/><stop offset=".55" stop-color="#9eff61"/><stop offset=".6" stop-color="#c2ff3d"/><stop offset=".65" stop-color="#e6ff19"/><stop offset=".684" stop-color="#ff0"/><stop offset=".7" stop-color="#fff300"/><stop offset=".75" stop-color="#ffcd00"/><stop offset=".8" stop-color="#ffa600"/><stop offset=".85" stop-color="#ff7f00"/><stop offset=".9" stop-color="#ff5700"/><stop offset=".95" stop-color="#ff2e00"/><stop offset="1" stop-color="#ff0400"/></linearGradient>
<linearGradient id="g40"><stop offset="0" stop-color="#004eff"/><stop offset=".05" stop-color="#0068ff"/><stop offset=".1" stop-color="#0083ff"/><stop offset=".15" stop-color="#009eff"/><stop offset=".2" stop-color="#0bf"/><stop offset=".25" stop-color="#00d8ff"/><stop offset=".3" stop-color="#00f7ff"/><stop offset=".313" stop-color="#0ff"/><stop offset=".35" stop-color="#17ffe8"/><stop offset=".4" stop-color="#37ffc8"/><stop offset=".45" stop-color="#58ffa7"/><stop offset=".5" stop-color="#7aff85"/><stop offset=".55" stop-color="#9cff63"/><stop offset=".6" stop-color="#bfff40"/><stop offset=".65" stop-color="#e4ff1b"/><stop offset=".687" stop-color="#ff0"/><stop offset=".7" stop-color="#fff500"/><stop offset=".75" stop-color="#ffd000"/><stop offset=".8" stop-color="#ffa900"/><stop offset=".85" stop-color="#ff8200"/><stop offset=".9" stop-color="#ff5a00"/><stop offset=".95" stop-color="#ff3100"/><stop offset="1" stop-color="#ff0700"/></linearGradient>
<linearGradient id="g41"><stop offset="0" stop-color="#004dff"/><stop offset=".05" stop-color="#0067ff"/><stop offset=".1" stop-color="#0081ff"/><stop offset=".15" stop-color="#009dff"/><stop offset=".2" stop-color="#00baff"/><stop offset=".25" stop-color="#00d7ff"/><stop offset=".3" stop-color="#00f5ff"/><stop offset=".316" stop-color="#0ff"/><stop offset=".35" stop-color="#15ffea"/><stop offset=".4" stop-color="#35ffca"/><stop offset=".45" stop-color="#56ffa9"/><stop offset=".5" stop-color="#78ff87"/><stop offset=".55" stop-color="#9aff65"/><stop offset=".6" stop-color="#bdff42"/><stop offset=".65" stop-color="#e1ff1e"/><stop offset=".691" stop-color="#ff0"/><stop offset=".7" stop-color="#fff800"/><stop offset=".75" stop-color="#ffd200"/><stop offset=".8" stop-color="#ffac00"/><stop offset=".85" stop-color="#ff8500"/><stop offset=".9" stop-color="#ff5d00"/><stop offset=".95" stop-color="#ff3400"/><stop offset="1" stop-color="#ff0b00"/></linearGradient>
<linearGradient id="g42"><stop offset="0" stop-color="#004cff"/><stop offset=".05" stop-color="#06f"/><stop offset=".1" stop-color="#0080ff"/><stop offset=".15" stop-color="#009cff"/><stop offset=".2" stop-color="#00b8ff"/><stop offset=".25" stop-color="#00d5ff"/><stop offset=".3" stop-color="#00f4ff"/><stop offset=".319" stop-color="#0ff"/><stop offset=".35" stop-color="#14ffeb"/><stop offset=".4" stop-color="#3fc"/><stop offset=".45" stop-color="#54ffab"/><stop offset=".5" stop-color="#75ff8a"/><stop offset=".55" stop-color="#98ff67"/><stop offset=".6" stop-color="#bf4"/><stop offset=".65" stop-color="#dfff20"/><stop offset=".694" stop-color="#ff0"/><stop offset=".7" stop-color="#fffb00"/><stop offset=".75" stop-color="#ffd500"/><stop offset=".8" stop-color="#ffaf00"/><stop offset=".85" stop-color="#f80"/><stop offset=".9" stop-color="#ff6000"/><stop offset=".95" stop-color="#ff3700"/><stop offset="1" stop-color="#ff0e00"/></linearGradient>
<linearGradient id="g43"><stop offset="0" stop-color="#004bff"/><stop offset=".05" stop-color="#0064ff"/><stop offset=".1" stop-color="#007fff"/><stop offset=".15" stop-color="#009aff"/><stop offset=".2" stop-color="#00b7ff"/><stop offset=".25" stop-color="#00d4ff"/><stop offset=".3" stop-color="#00f2ff"/><stop offset=".321" stop-color="#0ff"/><stop offset=".35" stop-color="#12ffed"/><stop offset=".4" stop-color="#31ffce"/><stop offset=".45" stop-color="#52ffad"/><stop offset=".5" stop-color="#73ff8c"/><stop offset=".55" stop-color="#96ff69"/><stop offset=".6" stop-color="#b9ff46"/><stop offset=".65" stop-color="#dcff23"/><stop offset=".697" stop-color="#ff0"/><stop offset=".7" stop-color="#fffd00"/><stop offset=".75" stop-color="#ffd800"/><stop offset=".8" stop-color="#ffb200"/><stop offset=".85" stop-color="#ff8b00"/><stop offset=".9" stop-color="#ff6300"/><stop offset=".95" stop-color="#ff3b00"/><stop offset="1" stop-color="#f10"/></linearGradient>
<linearGradient id="g44"><stop offset="0" stop-color="#004aff"/><stop offset=".05" stop-color="#0063ff"/><stop offset=".1" stop-color="#007eff"/><stop offset=".15" stop-color="#09f"/><stop offset=".2" stop-color="#00b5ff"/><stop offset=".25" stop-color="#00d2ff"/><stop offset=".3" stop-color="#00f0ff"/><stop offset=".324" stop-color="#0ff"/><stop offset=".35" stop-color="#10ffef"/><stop offset=".4" stop-color="#30ffcf"/><stop offset=".45" stop-color="#50ffaf"/><stop offset=".5" stop-color="#71ff8e"/><stop offset=".55" stop-color="#93ff6c"/><stop offset=".6" stop-color="#b6ff49"/><stop offset=".65" stop-color="#daff25"/><stop offset=".7" stop-color="#feff01"/><stop offset=".701" stop-color="#ff0"/><stop offset=".75" stop-color="#ffda00"/><stop offset=".8" stop-color="#ffb400"/><stop offset=".85" stop-color="#ff8e00"/><stop offset=".9" stop-color="#f60"/><stop offset=".95" stop-color="#ff3e00"/><stop offset="1" stop-color="#ff1500"/></linearGradient>
<linearGradient id="g45"><stop offset="0" stop-color="#0049ff"/><stop offset=".05" stop-color="#0062ff"/><stop offset=".1" stop-color="#007dff"/><stop offset=".15" stop-color="#0098ff"/><stop offset=".2" stop-color="#00b4ff"/><stop offset=".25" stop-color="#00d1ff"/><stop offset=".3" stop-color="#00efff"/><stop offset=".327" stop-color="#0ff"/><stop offset=".35" stop-color="#0efff1"/><stop offset=".4" stop-color="#2effd1"/><stop offset=".45" stop-color="#4effb1"/><stop offset=".5" stop-color="#6fff90"/><stop offset=".55" stop-color="#91ff6e"/><stop offset=".6" stop-color="#b4ff4b"/><stop offset=".65" stop-color="#d7ff28"/><stop offset=".7" stop-color="#fcff03"/><stop offset=".704" stop-color="#ff0"/><stop offset=".75" stop-color="#fd0"/><stop offset=".8" stop-color="#ffb700"/><stop offset=".85" stop-color="#ff9100"/><stop offset=".9" stop-color="#ff6900"/><stop offset=".95" stop-color="#ff4100"/><stop offset="1" stop-color="#ff1800"/></linearGradient>
<linearGradient id="g46"><stop offset="0" stop-color="#0048ff"/><stop offset=".05" stop-color="#0061ff"/><stop offset=".1" stop-color="#007bff"/><stop offset=".15" stop-color="#0097ff"/><stop offset=".2" stop-color="#00b3ff"/><stop offset=".25" stop-color="#00cfff"/><stop offset=".3" stop-color="#00edff"/><stop offset=".33" stop-color="#0ff"/><stop offset=".35" stop-color="#0dfff2"/><stop offset=".4" stop-color="#2cffd3"/><stop offset=".45" stop-color="#4cffb3"/><stop offset=".5" stop-color="#6dff92"/><stop offset=".55" stop-color="#8fff70"/><stop offset=".6" stop-color="#b2ff4d"/><stop offset=".65" stop-color="#d5ff2a"/><stop offset=".7" stop-color="#f9ff06"/><stop offset=".708" stop-color="#ff0"/><stop offset=".75" stop-color="#ffe000"/><stop offset=".8" stop-color="#ffba00"/><stop offset=".85" stop-color="#ff9400"/><stop offset=".9" stop-color="#ff6c00"/><stop offset=".95" stop-color="#f40"/><stop offset="1" stop-color="#ff1c00"/></linearGradient>
<linearGradient id="g47"><stop offset="0" stop-color="#0047ff"/><stop offset=".05" stop-color="#0060ff"/><stop offset=".1" stop-color="#007aff"/><stop offset=".15" stop-color="#0095ff"/><stop offset=".2" stop-color="#00b1ff"/><stop offset=".25" stop-color="#00ceff"/><stop offset=".3" stop-color="#00ebff"/><stop offset=".332" stop-color="#0ff"/><stop offset=".35" stop-color="#0bfff4"/><stop offset=".4" stop-color="#2affd5"/><stop offset=".45" stop-color="#4affb5"/><stop offset=".5" stop-color="#6bff94"/><stop offset=".55" stop-color="#8dff72"/><stop offset=".6" stop-color="#afff50"/><stop offset=".65" stop-color="#d3ff2c"/><stop offset=".7" stop-color="#f7ff08"/><stop offset=".711" stop-color="#ff0"/><stop offset=".75" stop-color="#ffe300"/><stop offset=".8" stop-color="#ffbd00"/><stop offset=".85" stop-color="#ff9700"/><stop offset=".9" stop-color="#ff6f00"/><stop offset=".95" stop-color="#ff4800"/><stop offset="1" stop-color="#ff1f00"/></linearGradient>
<linearGradient id="g48"><stop offset="0" stop-color="#0046ff"/><stop offset=".05" stop-color="#005fff"/><stop offset=".1" stop-color="#0079ff"/><stop offset=".15" stop-color="#0094ff"/><stop offset=".2" stop-color="#00b0ff"/><stop offset=".25" stop-color="#0cf"/><stop offset=".3" stop-color="#00eaff"/><stop offset=".335" stop-color="#0ff"/><stop offset=".35" stop-color="#09fff6"/><stop offset=".4" stop-color="#28ffd7"/><stop offset=".45" stop-color="#48ffb7"/><stop offset=".5" stop-color="#69ff96"/><stop offset=".55" stop-color="#8bff74"/><stop offset=".6" stop-color="#adff52"/><stop offset=".65" stop-color="#d0ff2f"/><stop offset=".7" stop-color="#f4ff0b"/><stop offset=".715" stop-color="#ff0"/><stop offset=".75" stop-color="#ffe500"/><stop offset=".8" stop-color="#ffc000"/><stop offset=".85" stop-color="#ff9a00"/><stop offset=".9" stop-color="#ff7300"/><stop offset=".95" stop-color="#ff4b00"/><stop offset="1" stop-color="#f20"/></linearGradient>
<linearGradient id="g49"><stop offset="0" stop-color="#0045ff"/><stop offset=".05" stop-color="#005eff"/><stop offset=".1" stop-color="#0078ff"/><stop offset=".15" stop-color="#0093ff"/><stop offset=".2" stop-color="#00aeff"/><stop offset=".25" stop-color="#00cbff"/><stop offset=".3" stop-color="#00e8ff"/><stop offset=".338" stop-color="#0ff"/><stop offset=".35" stop-color="#07fff8"/><stop offset=".4" stop-color="#27ffd8"/><stop offset=".45" stop-color="#46ffb9"/><stop offset=".5" stop-color="#67ff98"/><stop offset=".55" stop-color="#8f7"/><stop offset=".6" stop-color="#abff54"/><stop offset=".65" stop-color="#ceff31"/><stop offset=".7" stop-color="#f2ff0d"/><stop offset=".719" stop-color="#ff0"/><stop offset=".75" stop-color="#ffe800"/><stop offset=".8" stop-color="#ffc300"/><stop offset=".85" stop-color="#ff9c00"/><stop offset=".9" stop-color="#ff7600"/><stop offset=".95" stop-color="#ff4e00"/><stop offset="1" stop-color="#ff2600"/></linearGradient>
<linearGradient id="g50"><stop offset="0" stop-color="#04f"/><stop offset=".05" stop-color="#005dff"/><stop offset=".1" stop-color="#07f"/><stop offset=".15" stop-color="#0091ff"/><stop offset=".2" stop-color="#00adff"/><stop offset=".25" stop-color="#00c9ff"/><stop offset=".3" stop-color="#00e7ff"/><stop offset=".341" stop-color="#0ff"/><stop offset=".35" stop-color="#06fff9"/><stop offset=".4" stop-color="#25ffda"/><stop offset=".45" stop-color="#4fb"/><stop offset=".5" stop-color="#65ff9a"/><stop offset=".55" stop-color="#86ff79"/><stop offset=".6" stop-color="#a8ff57"/><stop offset=".65" stop-color="#cbff34"/><stop offset=".7" stop-color="#efff10"/><stop offset=".722" stop-color="#ff0"/><stop offset=".75" stop-color="#ffeb00"/><stop offset=".8" stop-color="#ffc500"/><stop offset=".85" stop-color="#ff9f00"/><stop offset=".9" stop-color="#ff7900"/><stop offset=".95" stop-color="#ff5100"/><stop offset="1" stop-color="#ff2900"/></linearGradient>
<linearGradient id="g51"><stop offset="0" stop-color="#0043ff"/><stop offset=".05" stop-color="#005cff"/><stop offset=".1" stop-color="#0075ff"/><stop offset=".15" stop-color="#0090ff"/><stop offset=".2" stop-color="#00abff"/><stop offset=".25" stop-color="#00c8ff"/><stop offset=".3" stop-color="#00e5ff"/><stop offset=".343" stop-color="#0ff"/><stop offset=".35" stop-color="#04fffb"/><stop offset=".4" stop-color="#23ffdc"/><stop offset=".45" stop-color="#42ffbd"/><stop offset=".5" stop-color="#63ff9c"/><stop offset=".55" stop-color="#84ff7b"/><stop offset=".6" stop-color="#a6ff59"/><stop offset=".65" stop-color="#c9ff36"/><stop offset=".7" stop-color="#ecff13"/><stop offset=".726" stop-color="#ff0"/><stop offset=".75" stop-color="#ffed00"/><stop offset=".8" stop-color="#ffc800"/><stop offset=".85" stop-color="#ffa200"/><stop offset=".9" stop-color="#ff7c00"/><stop offset=".95" stop-color="#f50"/><stop offset="1" stop-color="#ff2c00"/></linearGradient>
<linearGradient id="g52"><stop offset="0" stop-color="#0042ff"/><stop offset=".05" stop-color="#005aff"/><stop offset=".1" stop-color="#0074ff"/><stop offset=".15" stop-color="#008fff"/><stop offset=".2" stop-color="#0af"/><stop offset=".25" stop-color="#00c6ff"/><stop offset=".3" stop-color="#00e3ff"/><stop offset=".346" stop-color="#0ff"/><stop offset=".35" stop-color="#02fffd"/><stop offset=".4" stop-color="#21ffde"/><stop offset=".45" stop-color="#41ffbe"/><stop offset=".5" stop-color="#61ff9e"/><stop offset=".55" stop-color="#82ff7d"/><stop offset=".6" stop-color="#a4ff5b"/><stop offset=".65" stop-color="#c6ff39"/><stop offset=".7" stop-color="#eaff15"/><stop offset=".729" stop-color="#ff0"/><stop offset=".75" stop-color="#fff000"/><stop offset=".8" stop-color="#ffcb00"/><stop offset=".85" stop-color="#ffa500"/><stop offset=".9" stop-color="#ff7f00"/><stop offset=".95" stop-color="#ff5800"/><stop offset="1" stop-color="#ff3000"/></linearGradient>
<linearGradient id="g53"><stop offset="0" stop-color="#0041ff"/><stop offset=".05" stop-color="#0059ff"/><stop offset=".1" stop-color="#0073ff"/><stop offset=".15" stop-color="#008dff"/><stop offset=".2" stop-color="#00a9ff"/><stop offset=".25" stop-color="#00c5ff"/><stop offset=".3" stop-color="#00e2ff"/><stop offset=".349" stop-color="#0ff"/><stop offset=".35" stop-color="#01fffe"/><stop offset=".4" stop-color="#1fffe0"/><stop offset=".45" stop-color="#3fffc0"/><stop offset=".5" stop-color="#5fffa0"/><stop offset=".55" stop-color="#80ff7f"/><stop offset=".6" stop-color="#a2ff5d"/><stop offset=".65" stop-color="#c4ff3b"/><stop offset=".7" stop-color="#e7ff18"/><stop offset=".733" stop-color="#ff0"/><stop offset=".75" stop-color="#fff300"/><stop offset=".8" stop-color="#ffce00"/><stop offset=".85" stop-color="#ffa800"/><stop offset=".9" stop-color="#ff8200"/><stop offset=".95" stop-color="#ff5b00"/><stop offset="1" stop-color="#f30"/></linearGradient>
<linearGradient id="g54"><stop offset="0" stop-color="#0040ff"/><stop offset=".05" stop-color="#0058ff"/><stop offset=".1" stop-color="#0072ff"/><stop offset=".15" stop-color="#008cff"/><stop offset=".2" stop-color="#00a7ff"/><stop offset=".25" stop-color="#00c3ff"/><stop offset=".3" stop-color="#00e0ff"/><stop offset=".35" stop-color="#00feff"/><stop offset=".352" stop-color="#0ff"/><stop offset=".4" stop-color="#1dffe2"/><stop offset=".45" stop-color="#3dffc2"/><stop offset=".5" stop-color="#5dffa2"/><stop offset=".55" stop-color="#7eff81"/><stop offset=".6" stop-color="#9fff60"/><stop offset=".65" stop-color="#c2ff3d"/><stop offset=".7" stop-color="#e5ff1a"/><stop offset=".737" stop-color="#ff0"/><stop offset=".75" stop-color="#fff500"/><stop offset=".8" stop-color="#ffd100"/><stop offset=".85" stop-color="#ffab00"/><stop offset=".9" stop-color="#ff8500"/><stop offset=".95" stop-color="#ff5e00"/><stop offset="1" stop-color="#ff3700"/></linearGradient>
<linearGradient id="g55"><stop offset="0" stop-color="#003fff"/><stop offset=".05" stop-color="#0057ff"/><stop offset=".1" stop-color="#0071ff"/><stop offset=".15" stop-color="#008bff"/><stop offset=".2" stop-color="#00a6ff"/><stop offset=".25" stop-color="#00c2ff"/><stop offset=".3" stop-color="#00dfff"/><stop offset=".35" stop-color="#00fcff"/><stop offset=".355" stop-color="#0ff"/><stop offset=".4" stop-color="#1cffe3"/><stop offset=".45" stop-color="#3bffc4"/><stop offset=".5" stop-color="#5bffa4"/><stop offset=".55" stop-color="#7bff84"/><stop offset=".6" stop-color="#9dff62"/><stop offset=".65" stop-color="#bfff40"/><stop offset=".7" stop-color="#e2ff1d"/><stop offset=".74" stop-color="#ff0"/><stop offset=".75" stop-color="#fff800"/><stop offset=".8" stop-color="#ffd300"/><stop offset=".85" stop-color="#ffae00"/><stop offset=".9" stop-color="#f80"/><stop offset=".95" stop-color="#ff6100"/><stop offset="1" stop-color="#ff3a00"/></linearGradient>
<linearGradient id="g56"><stop offset="0" stop-color="#003eff"/><stop offset=".05" stop-color="#0056ff"/><stop offset=".1" stop-color="#006fff"/><stop offset=".15" stop-color="#0089ff"/><stop offset=".2" stop-color="#00a5ff"/><stop offset=".25" stop-color="#00c0ff"/><stop offset=".3" stop-color="#0df"/><stop offset=".35" stop-color="#00faff"/><stop offset=".358" stop-color="#0ff"/><stop offset=".4" stop-color="#1affe5"/><stop offset=".45" stop-color="#39ffc6"/><stop offset=".5" stop-color="#59ffa6"/><stop offset=".55" stop-color="#79ff86"/><stop offset=".6" stop-color="#9bff64"/><stop offset=".65" stop-color="#bdff42"/><stop offset=".7" stop-color="#e0ff1f"/><stop offset=".744" stop-color="#ff0"/><stop offset=".75" stop-color="#fffb00"/><stop offset=".8" stop-color="#ffd600"/><stop offset=".85" stop-color="#ffb100"/><stop offset=".9" stop-color="#ff8b00"/><stop offset=".95" stop-color="#ff6500"/><stop offset="1" stop-color="#ff3d00"/></linearGradient>
<linearGradient id="g57"><stop offset="0" stop-color="#003cff"/><stop offset=".05" stop-color="#05f"/><stop offset=".1" stop-color="#006eff"/><stop offset=".15" stop-color="#08f"/><stop offset=".2" stop-color="#00a3ff"/><stop offset=".25" stop-color="#00bfff"/><stop offset=".3" stop-color="#00dbff"/><stop offset=".35" stop-color="#00f9ff"/><stop offset=".36" stop-color="#0ff"/><stop offset=".4" stop-color="#18ffe7"/><stop offset=".45" stop-color="#37ffc8"/><stop offset=".5" stop-color="#57ffa8"/><stop offset=".55" stop-color="#7f8"/><stop offset=".6" stop-color="#98ff67"/><stop offset=".65" stop-color="#baff45"/><stop offset=".7" stop-color="#df2"/><stop offset=".748" stop-color="#ff0"/><stop offset=".75" stop-color="#fffd00"/><stop offset=".8" stop-color="#ffd900"/><stop offset=".85" stop-color="#ffb400"/><stop offset=".9" stop-color="#ff8e00"/><stop offset=".95" stop-color="#ff6800"/><stop offset="1" stop-color="#ff4100"/></linearGradient>
<linearGradient id="g58"><stop offset="0" stop-color="#003bff"/><stop offset=".05" stop-color="#0054ff"/><stop offset=".1" stop-color="#006dff"/><stop offset=".15" stop-color="#0087ff"/><stop offset=".2" stop-color="#00a2ff"/><stop offset=".25" stop-color="#00bdff"/><stop offset=".3" stop-color="#00daff"/><stop offset=".35" stop-color="#00f7ff"/><stop offset=".363" stop-color="#0ff"/><stop offset=".4" stop-color="#16ffe9"/><stop offset=".45" stop-color="#35ffca"/><stop offset=".5" stop-color="#5fa"/><stop offset=".55" stop-color="#75ff8a"/><stop offset=".6" stop-color="#96ff69"/><stop offset=".65" stop-color="#b8ff47"/><stop offset=".7" stop-color="#dbff24"/><stop offset=".75" stop-color="#feff01"/><stop offset=".751" stop-color="#ff0"/><stop offset=".8" stop-color="#ffdc00"/><stop offset=".85" stop-color="#ffb700"/><stop offset=".9" stop-color="#ff9100"/><stop offset=".95" stop-color="#ff6b00"/><stop offset="1" stop-color="#f40"/></linearGradient>
<linearGradient id="g59"><stop offset="0" stop-color="#003aff"/><stop offset=".05" stop-color="#0053ff"/><stop offset=".1" stop-color="#006cff"/><stop offset=".15" stop-color="#0086ff"/><stop offset=".2" stop-color="#00a0ff"/><stop offset=".25" stop-color="#00bcff"/><stop offset=".3" stop-color="#00d8ff"/><stop offset=".35" stop-color="#00f5ff"/><stop offset=".366" stop-color="#0ff"/><stop offset=".4" stop-color="#14ffeb"/><stop offset=".45" stop-color="#3fc"/><stop offset=".5" stop-color="#52ffad"/><stop offset=".55" stop-color="#73ff8c"/><stop offset=".6" stop-color="#94ff6b"/><stop offset=".65" stop-color="#b6ff49"/><stop offset=".7" stop-color="#d8ff27"/><stop offset=".75" stop-color="#fbff04"/><stop offset=".755" stop-color="#ff0"/><stop offset=".8" stop-color="#ffdf00"/><stop offset=".85" stop-color="#ffba00"/><stop offset=".9" stop-color="#ff9500"/><stop offset=".95" stop-color="#ff6e00"/><stop offset="1" stop-color="#ff4700"/></linearGradient>
<linearGradient id="g60"><stop offset="0" stop-color="#0039ff"/><stop offset=".05" stop-color="#0052ff"/><stop offset=".1" stop-color="#006bff"/><stop offset=".15" stop-color="#0084ff"/><stop offset=".2" stop-color="#009fff"/><stop offset=".25" stop-color="#00baff"/><stop offset=".3" stop-color="#00d7ff"/><stop offset=".35" stop-color="#00f4ff"/><stop offset=".369" stop-color="#0ff"/><stop offset=".4" stop-color="#12ffed"/><stop offset=".45" stop-color="#31ffce"/><stop offset=".5" stop-color="#50ffaf"/><stop offset=".55" stop-color="#71ff8e"/><stop offset=".6" stop-color="#91ff6e"/><stop offset=".65" stop-color="#b3ff4c"/><stop offset=".7" stop-color="#d5ff2a"/><stop offset=".75" stop-color="#f9ff06"/><stop offset=".759" stop-color="#ff0"/><stop offset=".8" stop-color="#ffe200"/><stop offset=".85" stop-color="#ffbd00"/><stop offset=".9" stop-color="#ff9800"/><stop offset=".95" stop-color="#ff7200"/><stop offset="1" stop-color="#ff4b00"/></linearGradient>
<linearGradient id="g61"><stop offset="0" stop-color="#0038ff"/><stop offset=".05" stop-color="#0050ff"/><stop offset=".1" stop-color="#0069ff"/><stop offset=".15" stop-color="#0083ff"/><stop offset=".2" stop-color="#009eff"/><stop offset=".25" stop-color="#00b9ff"/><stop offset=".3" stop-color="#00d5ff"/><stop offset=".35" stop-color="#00f2ff"/><stop offset=".372" stop-color="#0ff"/><stop offset=".4" stop-color="#1fe"/><stop offset=".45" stop-color="#2fffd0"/><stop offset=".5" stop-color="#4effb1"/><stop offset=".55" stop-color="#6eff91"/><stop offset=".6" stop-color="#8fff70"/><stop offset=".65" stop-color="#b1ff4e"/><stop offset=".7" stop-color="#d3ff2c"/><stop offset=".75" stop-color="#f6ff09"/><stop offset=".763" stop-color="#ff0"/><stop offset=".8" stop-color="#ffe400"/><stop offset=".85" stop-color="#ffc000"/><stop offset=".9" stop-color="#ff9b00"/><stop offset=".95" stop-color="#ff7500"/><stop offset="1" stop-color="#ff4e00"/></linearGradient>
<linearGradient id="g62"><stop offset="0" stop-color="#0037ff"/><stop offset=".05" stop-color="#004fff"/><stop offset=".1" stop-color="#0068ff"/><stop offset=".15" stop-color="#0082ff"/><stop offset=".2" stop-color="#009cff"/><stop offset=".25" stop-color="#00b7ff"/><stop offset=".3" stop-color="#00d3ff"/><stop offset=".35" stop-color="#00f0ff"/><stop offset=".375" stop-color="#0ff"/><stop offset=".4" stop-color="#0ffff0"/><stop offset=".45" stop-color="#2dffd2"/><stop offset=".5" stop-color="#4cffb3"/><stop offset=".55" stop-color="#6cff93"/><stop offset=".6" stop-color="#8dff72"/><stop offset=".65" stop-color="#aeff51"/><stop offset=".7" stop-color="#d0ff2f"/><stop offset=".75" stop-color="#f3ff0c"/><stop offset=".767" stop-color="#ff0"/><stop offset=".8" stop-color="#ffe700"/><stop offset=".85" stop-color="#ffc300"/><stop offset=".9" stop-color="#ff9e00"/><stop offset=".95" stop-color="#ff7800"/><stop offset="1" stop-color="#ff5200"/></linearGradient>
<linearGradient id="g63"><stop offset="0" stop-color="#0036ff"/><stop offset=".05" stop-color="#004eff"/><stop offset=".1" stop-color="#0067ff"/><stop offset=".15" stop-color="#0080ff"/><stop offset=".2" stop-color="#009bff"/><stop offset=".25" stop-color="#00b6ff"/><stop offset=".3" stop-color="#00d2ff"/><stop offset=".35" stop-color="#0ef"/><stop offset=".378" stop-color="#0ff"/><stop offset=".4" stop-color="#0dfff2"/><stop offset=".45" stop-color="#2bffd4"/><stop offset=".5" stop-color="#4affb5"/><stop offset=".55" stop-color="#6aff95"/><stop offset=".6" stop-color="#8bff74"/><stop offset=".65" stop-color="#acff53"/><stop offset=".7" stop-color="#ceff31"/><stop offset=".75" stop-color="#f1ff0e"/><stop offset=".77" stop-color="#ff0"/><stop offset=".8" stop-color="#ffea00"/><stop offset=".85" stop-color="#ffc600"/><stop offset=".9" stop-color="#ffa100"/><stop offset=".95" stop-color="#ff7b00"/><stop offset="1" stop-color="#f50"/></linearGradient>
<linearGradient id="g64"><stop offset="0" stop-color="#0035ff"/><stop offset=".05" stop-color="#004dff"/><stop offset=".1" stop-color="#06f"/><stop offset=".15" stop-color="#007fff"/><stop offset=".2" stop-color="#09f"/><stop offset=".25" stop-color="#00b4ff"/><stop offset=".3" stop-color="#00d0ff"/><stop offset=".35" stop-color="#00edff"/><stop offset=".381" stop-color="#0ff"/><stop offset=".4" stop-color="#0bfff4"/><stop offset=".45" stop-color="#29ffd6"/><stop offset=".5" stop-color="#48ffb7"/><stop offset=".55" stop-color="#68ff97"/><stop offset=".6" stop-color="#8f7"/><stop offset=".65" stop-color="#a9ff56"/><stop offset=".7" stop-color="#cbff34"/><stop offset=".75" stop-color="#ef1"/><stop offset=".774" stop-color="#ff0"/><stop offset=".8" stop-color="#ffed00"/><stop offset=".85" stop-color="#ffc900"/><stop offset=".9" stop-color="#ffa400"/><stop offset=".95" stop-color="#ff7e00"/><stop offset="1" stop-color="#ff5800"/></linearGradient>
<linearGradient id="g65"><stop offset="0" stop-color="#0034ff"/><stop offset=".05" stop-color="#004cff"/><stop offset=".1" stop-color="#0065ff"/><stop offset=".15" stop-color="#007eff"/><stop offset=".2" stop-color="#0098ff"/><stop offset=".25" stop-color="#00b3ff"/><stop offset=".3" stop-color="#00cfff"/><stop offset=".35" stop-color="#00ebff"/><stop offset=".384" stop-color="#0ff"/><stop offset=".4" stop-color="#09fff6"/><stop offset=".45" stop-color="#27ffd8"/><stop offset=".5" stop-color="#46ffb9"/><stop offset=".55" stop-color="#6f9"/><stop offset=".6" stop-color="#86ff79"/><stop offset=".65" stop-color="#a7ff58"/><stop offset=".7" stop-color="#c9ff36"/><stop offset=".75" stop-color="#ebff14"/><stop offset=".778" stop-color="#ff0"/><stop offset=".8" stop-color="#fff000"/><stop offset=".85" stop-color="#fc0"/><stop offset=".9" stop-color="#ffa700"/><stop offset=".95" stop-color="#ff8200"/><stop offset="1" stop-color="#ff5c00"/></linearGradient>
<linearGradient id="g66"><stop offset="0" stop-color="#03f"/><stop offset=".05" stop-color="#004bff"/><stop offset=".1" stop-color="#0063ff"/><stop offset=".15" stop-color="#007dff"/><stop offset=".2" stop-color="#0097ff"/><stop offset=".25" stop-color="#00b1ff"/><stop offset=".3" stop-color="#00cdff"/><stop offset=".35" stop-color="#00e9ff"/><stop offset=".387" stop-color="#0ff"/><stop offset=".4" stop-color="#08fff7"/><stop offset=".45" stop-color="#25ffda"/><stop offset=".5" stop-color="#4fb"/><stop offset=".55" stop-color="#64ff9b"/><stop offset=".6" stop-color="#84ff7b"/><stop offset=".65" stop-color="#a5ff5a"/><stop offset=".7" stop-color="#c6ff39"/><stop offset=".75" stop-color="#e9ff16"/><stop offset=".782" stop-color="#ff0"/><stop offset=".8" stop-color="#fff200"/><stop offset=".85" stop-color="#ffcf00"/><stop offset=".9" stop-color="#fa0"/><stop offset=".95" stop-color="#ff8500"/><stop offset="1" stop-color="#ff5f00"/></linearGradient>
<linearGradient id="g67"><stop offset="0" stop-color="#0032ff"/><stop offset=".05" stop-color="#004aff"/><stop offset=".1" stop-color="#0062ff"/><stop offset=".15" stop-color="#007bff"/><stop offset=".2" stop-color="#0095ff"/><stop offset=".25" stop-color="#00b0ff"/><stop offset=".3" stop-color="#00cbff"/><stop offset=".35" stop-color="#00e8ff"/><stop offset=".39" stop-color="#0ff"/><stop offset=".4" stop-color="#06fff9"/><stop offset=".45" stop-color="#24ffdb"/><stop offset=".5" stop-color="#42ffbd"/><stop offset=".55" stop-color="#61ff9e"/><stop offset=".6" stop-color="#81ff7e"/><stop offset=".65" stop-color="#a2ff5d"/><stop offset=".7" stop-color="#c4ff3b"/><stop offset=".75" stop-color="#e6ff19"/><stop offset=".786" stop-color="#ff0"/><stop offset=".8" stop-color="#fff500"/><stop offset=".85" stop-color="#ffd100"/><stop offset=".9" stop-color="#ffad00"/><stop offset=".95" stop-color="#f80"/><stop offset="1" stop-color="#ff6200"/></linearGradient>
<linearGradient id="g68"><stop offset="0" stop-color="#0031ff"/><stop offset=".05" stop-color="#0049ff"/><stop offset=".1" stop-color="#0061ff"/><stop offset=".15" stop-color="#007aff"/><stop offset=".2" stop-color="#0094ff"/><stop offset=".25" stop-color="#00aeff"/><stop offset=".3" stop-color="#00caff"/><stop offset=".35" stop-color="#00e6ff"/><stop offset=".393" stop-color="#0ff"/><stop offset=".4" stop-color="#04fffb"/><stop offset=".45" stop-color="#2fd"/><stop offset=".5" stop-color="#40ffbf"/><stop offset=".55" stop-color="#5fffa0"/><stop offset=".6" stop-color="#7fff80"/><stop offset=".65" stop-color="#a0ff5f"/><stop offset=".7" stop-color="#c1ff3e"/><stop offset=".75" stop-color="#e3ff1c"/><stop offset=".79" stop-color="#ff0"/><stop offset=".8" stop-color="#fff800"/><stop offset=".85" stop-color="#ffd400"/><stop offset=".9" stop-color="#ffb000"/><stop offset=".95" stop-color="#ff8b00"/><stop offset="1" stop-color="#f60"/></linearGradient>
<linearGradient id="g69"><stop offset="0" stop-color="#0030ff"/><stop offset=".05" stop-color="#0048ff"/><stop offset=".1" stop-color="#0060ff"/><stop offset=".15" stop-color="#0079ff"/><stop offset=".2" stop-color="#0092ff"/><stop offset=".25" stop-color="#00adff"/><stop offset=".3" stop-color="#00c8ff"/><stop offset=".35" stop-color="#00e4ff"/><stop offset=".396" stop-color="#0ff"/><stop offset=".4" stop-color="#02fffd"/><stop offset=".45" stop-color="#20ffdf"/><stop offset=".5" stop-color="#3effc1"/><stop offset=".55" stop-color="#5dffa2"/><stop offset=".6" stop-color="#7dff82"/><stop offset=".65" stop-color="#9dff62"/><stop offset=".7" stop-color="#bfff40"/><stop offset=".75" stop-color="#e1ff1e"/><stop offset=".794" stop-color="#ff0"/><stop offset=".8" stop-color="#fffb00"/><stop offset=".85" stop-color="#ffd700"/><stop offset=".9" stop-color="#ffb300"/><stop offset=".95" stop-color="#ff8f00"/><stop offset="1" stop-color="#ff6900"/></linearGradient>
<linearGradient id="g70"><stop offset="0" stop-color="#002fff"/><stop offset=".05" stop-color="#0046ff"/><stop offset=".1" stop-color="#005fff"/><stop offset=".15" stop-color="#07f"/><stop offset=".2" stop-color="#0091ff"/><stop offset=".25" stop-color="#00abff"/><stop offset=".3" stop-color="#00c7ff"/><stop offset=".35" stop-color="#00e3ff"/><stop offset=".4" stop-color="#0ff"/><stop offset=".45" stop-color="#1effe1"/><stop offset=".5" stop-color="#3cffc3"/><stop offset=".55" stop-color="#5bffa4"/><stop offset=".6" stop-color="#7bff84"/><stop offset=".65" stop-color="#9bff64"/><stop offset=".7" stop-color="#bcff43"/><stop offset=".75" stop-color="#deff21"/><stop offset=".798" stop-color="#ff0"/><stop offset=".8" stop-color="#fffe00"/><stop offset=".85" stop-color="#ffda00"/><stop offset=".9" stop-color="#ffb600"/><stop offset=".95" stop-color="#ff9200"/><stop offset="1" stop-color="#ff6c00"/></linearGradient>
<linearGradient id="g71"><stop offset="0" stop-color="#002eff"/><stop offset=".05" stop-color="#0045ff"/><stop offset=".1" stop-color="#005dff"/><stop offset=".15" stop-color="#0076ff"/><stop offset=".2" stop-color="#0090ff"/><stop offset=".25" stop-color="#0af"/><stop offset=".3" stop-color="#00c5ff"/><stop offset=".35" stop-color="#00e1ff"/><stop offset=".4" stop-color="#00fdff"/><stop offset=".403" stop-color="#0ff"/><stop offset=".45" stop-color="#1cffe3"/><stop offset=".5" stop-color="#3affc5"/><stop offset=".55" stop-color="#59ffa6"/><stop offset=".6" stop-color="#78ff87"/><stop offset=".65" stop-color="#9f6"/><stop offset=".7" stop-color="#baff45"/><stop offset=".75" stop-color="#dbff24"/><stop offset=".8" stop-color="#feff01"/><stop offset=".802" stop-color="#ff0"/><stop offset=".85" stop-color="#fd0"/><stop offset=".9" stop-color="#ffb900"/><stop offset=".95" stop-color="#ff9500"/><stop offset="1" stop-color="#ff7000"/></linearGradient>
<linearGradient id="g72"><stop offset="0" stop-color="#002dff"/><stop offset=".05" stop-color="#04f"/><stop offset=".1" stop-color="#005cff"/><stop offset=".15" stop-color="#0075ff"/><stop offset=".2" stop-color="#008eff"/><stop offset=".25" stop-color="#00a8ff"/><stop offset=".3" stop-color="#00c3ff"/><stop offset=".35" stop-color="#00dfff"/><stop offset=".4" stop-color="#00fcff"/><stop offset=".406" stop-color="#0ff"/><stop offset=".45" stop-color="#1affe5"/><stop offset=".5" stop-color="#38ffc7"/><stop offset=".55" stop-color="#57ffa8"/><stop offset=".6" stop-color="#76ff89"/><stop offset=".65" stop-color="#96ff69"/><stop offset=".7" stop-color="#b7ff48"/><stop offset=".75" stop-color="#d9ff26"/><stop offset=".8" stop-color="#fbff04"/><stop offset=".806" stop-color="#ff0"/><stop offset=".85" stop-color="#ffe000"/><stop offset=".9" stop-color="#ffbc00"/><stop offset=".95" stop-color="#ff9800"/><stop offset="1" stop-color="#ff7300"/></linearGradient>
<linearGradient id="g73"><stop offset="0" stop-color="#002cff"/><stop offset=".05" stop-color="#0043ff"/><stop offset=".1" stop-color="#005bff"/><stop offset=".15" stop-color="#0073ff"/><stop offset=".2" stop-color="#008dff"/><stop offset=".25" stop-color="#00a7ff"/><stop offset=".3" stop-color="#00c2ff"/><stop offset=".35" stop-color="#0df"/><stop offset=".4" stop-color="#00faff"/><stop offset=".409" stop-color="#0ff"/><stop offset=".45" stop-color="#18ffe7"/><stop offset=".5" stop-color="#36ffc9"/><stop offset=".55" stop-color="#54ffab"/><stop offset=".6" stop-color="#74ff8b"/><stop offset=".65" stop-color="#94ff6b"/><stop offset=".7" stop-color="#b4ff4b"/><stop offset=".75" stop-color="#d6ff29"/><stop offset=".8" stop-color="#f8ff07"/><stop offset=".81" stop-color="#ff0"/><stop offset=".85" stop-color="#ffe300"/><stop offset=".9" stop-color="#ffc000"/><stop offset=".95" stop-color="#ff9b00"/><stop offset="1" stop-color="#ff7600"/></linearGradient>
<linearGradient id="g74"><stop offset="0" stop-color="#002bff"/><stop offset=".05" stop-color="#0042ff"/><stop offset=".1" stop-color="#005aff"/><stop offset=".15" stop-color="#0072ff"/><stop offset=".2" stop-color="#008bff"/><stop offset=".25" stop-color="#00a5ff"/><stop offset=".3" stop-color="#00c0ff"/><stop offset=".35" stop-color="#00dcff"/><stop offset=".4" stop-color="#00f8ff"/><stop offset=".412" stop-color="#0ff"/><stop offset=".45" stop-color="#16ffe9"/><stop offset=".5" stop-color="#34ffcb"/><stop offset=".55" stop-color="#52ffad"/><stop offset=".6" stop-color="#71ff8e"/><stop offset=".65" stop-color="#91ff6e"/><stop offset=".7" stop-color="#b2ff4d"/><stop offset=".75" stop-color="#d3ff2c"/><stop offset=".8" stop-color="#f5ff0a"/><stop offset=".814" stop-color="#ff0"/><stop offset=".85" stop-color="#ffe600"/><stop offset=".9" stop-color="#ffc300"/><stop offset=".95" stop-color="#ff9f00"/><stop offset="1" stop-color="#ff7a00"/></linearGradient>
<linearGradient id="g75"><stop offset="0" stop-color="#002aff"/><stop offset=".05" stop-color="#0041ff"/><stop offset=".1" stop-color="#0059ff"/><stop offset=".15" stop-color="#0071ff"/><stop offset=".2" stop-color="#008aff"/><stop offset=".25" stop-color="#00a4ff"/><stop offset=".3" stop-color="#00bfff"/><stop offset=".35" stop-color="#00daff"/><stop offset=".4" stop-color="#00f6ff"/><stop offset=".415" stop-color="#0ff"/><stop offset=".45" stop-color="#14ffeb"/><stop offset=".5" stop-color="#32ffcd"/><stop offset=".55" stop-color="#50ffaf"/><stop offset=".6" stop-color="#6fff90"/><stop offset=".65" stop-color="#8fff70"/><stop offset=".7" stop-color="#afff50"/><stop offset=".75" stop-color="#d1ff2e"/><stop offset=".8" stop-color="#f2ff0d"/><stop offset=".818" stop-color="#ff0"/><stop offset=".85" stop-color="#ffe900"/><stop offset=".9" stop-color="#ffc600"/><stop offset=".95" stop-color="#ffa200"/><stop offset="1" stop-color="#ff7d00"/></linearGradient>
<linearGradient id="g76"><stop offset="0" stop-color="#0029ff"/><stop offset=".05" stop-color="#0040ff"/><stop offset=".1" stop-color="#0057ff"/><stop offset=".15" stop-color="#0070ff"/><stop offset=".2" stop-color="#0089ff"/><stop offset=".25" stop-color="#00a2ff"/><stop offset=".3" stop-color="#00bdff"/><stop offset=".35" stop-color="#00d8ff"/><stop offset=".4" stop-color="#00f4ff"/><stop offset=".419" stop-color="#0ff"/><stop offset=".45" stop-color="#12ffed"/><stop offset=".5" stop-color="#30ffcf"/><stop offset=".55" stop-color="#4effb1"/><stop offset=".6" stop-color="#6dff92"/><stop offset=".65" stop-color="#8dff72"/><stop offset=".7" stop-color="#adff52"/><stop offset=".75" stop-color="#ceff31"/><stop offset=".8" stop-color="#f0ff0f"/><stop offset=".822" stop-color="#ff0"/><stop offset=".85" stop-color="#ffec00"/><stop offset=".9" stop-color="#ffc900"/><stop offset=".95" stop-color="#ffa500"/><stop offset="1" stop-color="#ff8100"/></linearGradient>
<linearGradient id="g77"><stop offset="0" stop-color="#0028ff"/><stop offset=".05" stop-color="#003fff"/><stop offset=".1" stop-color="#0056ff"/><stop offset=".15" stop-color="#006eff"/><stop offset=".2" stop-color="#0087ff"/><stop offset=".25" stop-color="#00a1ff"/><stop offset=".3" stop-color="#0bf"/><stop offset=".35" stop-color="#00d7ff"/><stop offset=".4" stop-color="#00f3ff"/><stop offset=".422" stop-color="#0ff"/><stop offset=".45" stop-color="#10ffef"/><stop offset=".5" stop-color="#2effd1"/><stop offset=".55" stop-color="#4cffb3"/><stop offset=".6" stop-color="#6bff94"/><stop offset=".65" stop-color="#8aff75"/><stop offset=".7" stop-color="#af5"/><stop offset=".75" stop-color="#cbff34"/><stop offset=".8" stop-color="#edff12"/><stop offset=".826" stop-color="#ff0"/><stop offset=".85" stop-color="#ffef00"/><stop offset=".9" stop-color="#fc0"/><stop offset=".95" stop-color="#ffa800"/><stop offset="1" stop-color="#ff8400"/></linearGradient>
<linearGradient id="g78"><stop offset="0" stop-color="#0027ff"/><stop offset=".05" stop-color="#003eff"/><stop offset=".1" stop-color="#05f"/><stop offset=".15" stop-color="#006dff"/><stop offset=".2" stop-color="#0086ff"/><stop offset=".25" stop-color="#009fff"/><stop offset=".3" stop-color="#00baff"/><stop offset=".35" stop-color="#00d5ff"/><stop offset=".4" stop-color="#00f1ff"/><stop offset=".425" stop-color="#0ff"/><stop offset=".45" stop-color="#0efff1"/><stop offset=".5" stop-color="#2cffd3"/><stop offset=".55" stop-color="#4affb5"/><stop offset=".6" stop-color="#68ff97"/><stop offset=".65" stop-color="#8f7"/><stop offset=".7" stop-color="#a8ff57"/><stop offset=".75" stop-color="#c9ff36"/><stop offset=".8" stop-color="#eaff15"/><stop offset=".831" stop-color="#ff0"/><stop offset=".85" stop-color="#fff200"/><stop offset=".9" stop-color="#ffcf00"/><stop offset=".95" stop-color="#ffab00"/><stop offset="1" stop-color="#ff8700"/></linearGradient>
<linearGradient id="g79"><stop offset="0" stop-color="#0026ff"/><stop offset=".05" stop-color="#003dff"/><stop offset=".1" stop-color="#0054ff"/><stop offset=".15" stop-color="#006cff"/><stop offset=".2" stop-color="#0084ff"/><stop offset=".25" stop-color="#009eff"/><stop offset=".3" stop-color="#00b8ff"/><stop offset=".35" stop-color="#00d3ff"/><stop offset=".4" stop-color="#00efff"/><stop offset=".428" stop-color="#0ff"/><stop offset=".45" stop-color="#0cfff3"/><stop offset=".5" stop-color="#2affd5"/><stop offset=".55" stop-color="#47ffb8"/><stop offset=".6" stop-color="#6f9"/><stop offset=".65" stop-color="#85ff7a"/><stop offset=".7" stop-color="#a5ff5a"/><stop offset=".75" stop-color="#c6ff39"/><stop offset=".8" stop-color="#e7ff18"/><stop offset=".835" stop-color="#ff0"/><stop offset=".85" stop-color="#fff500"/><stop offset=".9" stop-color="#ffd200"/><stop offset=".95" stop-color="#ffaf00"/><stop offset="1" stop-color="#ff8b00"/></linearGradient>
<linearGradient id="g80"><stop offset="0" stop-color="#0025ff"/><stop offset=".05" stop-color="#003bff"/><stop offset=".1" stop-color="#0053ff"/><stop offset=".15" stop-color="#006aff"/><stop offset=".2" stop-color="#0083ff"/><stop offset=".25" stop-color="#009dff"/><stop offset=".3" stop-color="#00b7ff"/><stop offset=".35" stop-color="#00d2ff"/><stop offset=".4" stop-color="#00edff"/><stop offset=".432" stop-color="#0ff"/><stop offset=".45" stop-color="#0bfff4"/><stop offset=".5" stop-color="#28ffd7"/><stop offset=".55" stop-color="#45ffba"/><stop offset=".6" stop-color="#64ff9b"/><stop offset=".65" stop-color="#83ff7c"/><stop offset=".7" stop-color="#a3ff5c"/><stop offset=".75" stop-color="#c3ff3c"/><stop offset=".8" stop-color="#e5ff1a"/><stop offset=".839" stop-color="#ff0"/><stop offset=".85" stop-color="#fff800"/><stop offset=".9" stop-color="#ffd500"/><stop offset=".95" stop-color="#ffb200"/><stop offset="1" stop-color="#ff8e00"/></linearGradient>
<linearGradient id="g81"><stop offset="0" stop-color="#0024ff"/><stop offset=".05" stop-color="#003aff"/><stop offset=".1" stop-color="#0051ff"/><stop offset=".15" stop-color="#0069ff"/><stop offset=".2" stop-color="#0082ff"/><stop offset=".25" stop-color="#009bff"/><stop offset=".3" stop-color="#00b5ff"/><stop offset=".35" stop-color="#00d0ff"/><stop offset=".4" stop-color="#00ebff"/><stop offset=".435" stop-color="#0ff"/><stop offset=".45" stop-color="#09fff6"/><stop offset=".5" stop-color="#26ffd9"/><stop offset=".55" stop-color="#43ffbc"/><stop offset=".6" stop-color="#62ff9d"/><stop offset=".65" stop-color="#81ff7e"/><stop offset=".7" stop-color="#a0ff5f"/><stop offset=".75" stop-color="#c1ff3e"/><stop offset=".8" stop-color="#e2ff1d"/><stop offset=".843" stop-color="#ff0"/><stop offset=".85" stop-color="#fffa00"/><stop offset=".9" stop-color="#ffd800"/><stop offset=".95" stop-color="#ffb500"/><stop offset="1" stop-color="#ff9100"/></linearGradient>
<linearGradient id="g82"><stop offset="0" stop-color="#0023ff"/><stop offset=".05" stop-color="#0039ff"/><stop offset=".1" stop-color="#0050ff"/><stop offset=".15" stop-color="#0068ff"/><stop offset=".2" stop-color="#0080ff"/><stop offset=".25" stop-color="#009aff"/><stop offset=".3" stop-color="#00b3ff"/><stop offset=".35" stop-color="#00ceff"/><stop offset=".4" stop-color="#00eaff"/><stop offset=".438" stop-color="#0ff"/><stop offset=".45" stop-color="#07fff8"/><stop offset=".5" stop-color="#23ffdc"/><stop offset=".55" stop-color="#41ffbe"/><stop offset=".6" stop-color="#5fffa0"/><stop offset=".65" stop-color="#7eff81"/><stop offset=".7" stop-color="#9eff61"/><stop offset=".75" stop-color="#beff41"/><stop offset=".8" stop-color="#dfff20"/><stop offset=".848" stop-color="#ff0"/><stop offset=".85" stop-color="#fffd00"/><stop offset=".9" stop-color="#ffdb00"/><stop offset=".95" stop-color="#ffb800"/><stop offset="1" stop-color="#ff9500"/></linearGradient>
<linearGradient id="g83"><stop offset="0" stop-color="#02f"/><stop offset=".05" stop-color="#0038ff"/><stop offset=".1" stop-color="#004fff"/><stop offset=".15" stop-color="#0067ff"/><stop offset=".2" stop-color="#007fff"/><stop offset=".25" stop-color="#0098ff"/><stop offset=".3" stop-color="#00b2ff"/><stop offset=".35" stop-color="#0cf"/><stop offset=".4" stop-color="#00e8ff"/><stop offset=".442" stop-color="#0ff"/><stop offset=".45" stop-color="#05fffa"/><stop offset=".5" stop-color="#21ffde"/><stop offset=".55" stop-color="#3fffc0"/><stop offset=".6" stop-color="#5dffa2"/><stop offset=".65" stop-color="#7cff83"/><stop offset=".7" stop-color="#9bff64"/><stop offset=".75" stop-color="#bf4"/><stop offset=".8" stop-color="#dcff23"/><stop offset=".85" stop-color="#feff01"/><stop offset=".852" stop-color="#ff0"/><stop offset=".9" stop-color="#ffde00"/><stop offset=".95" stop-color="#fb0"/><stop offset="1" stop-color="#ff9800"/></linearGradient>
<linearGradient id="g84"><stop offset="0" stop-color="#0021ff"/><stop offset=".05" stop-color="#0037ff"/><stop offset=".1" stop-color="#004eff"/><stop offset=".15" stop-color="#0065ff"/><stop offset=".2" stop-color="#007eff"/><stop offset=".25" stop-color="#0097ff"/><stop offset=".3" stop-color="#00b0ff"/><stop offset=".35" stop-color="#00cbff"/><stop offset=".4" stop-color="#00e6ff"/><stop offset=".445" stop-color="#0ff"/><stop offset=".45" stop-color="#03fffc"/><stop offset=".5" stop-color="#1fffe0"/><stop offset=".55" stop-color="#3dffc2"/><stop offset=".6" stop-color="#5bffa4"/><stop offset=".65" stop-color="#79ff86"/><stop offset=".7" stop-color="#9f6"/><stop offset=".75" stop-color="#b9ff46"/><stop offset=".8" stop-color="#d9ff26"/><stop offset=".85" stop-color="#fbff04"/><stop offset=".856" stop-color="#ff0"/><stop offset=".9" stop-color="#ffe100"/><stop offset=".95" stop-color="#ffbf00"/><stop offset="1" stop-color="#ff9b00"/></linearGradient>
<linearGradient id="g85"><stop offset="0" stop-color="#0020ff"/><stop offset=".05" stop-color="#0036ff"/><stop offset=".1" stop-color="#004dff"/><stop offset=".15" stop-color="#0064ff"/><stop offset=".2" stop-color="#007cff"/><stop offset=".25" stop-color="#0095ff"/><stop offset=".3" stop-color="#00afff"/><stop offset=".35" stop-color="#00c9ff"/><stop offset=".4" stop-color="#00e4ff"/><stop offset=".448" stop-color="#0ff"/><stop offset=".45" stop-color="#01fffe"/><stop offset=".5" stop-color="#1dffe2"/><stop offset=".55" stop-color="#3bffc4"/><stop offset=".6" stop-color="#58ffa7"/><stop offset=".65" stop-color="#7f8"/><stop offset=".7" stop-color="#96ff69"/><stop offset=".75" stop-color="#b6ff49"/><stop offset=".8" stop-color="#d7ff28"/><stop offset=".85" stop-color="#f8ff07"/><stop offset=".861" stop-color="#ff0"/><stop offset=".9" stop-color="#ffe400"/><stop offset=".95" stop-color="#ffc200"/><stop offset="1" stop-color="#ff9f00"/></linearGradient>
<linearGradient id="g86"><stop offset="0" stop-color="#001fff"/><stop offset=".05" stop-color="#0035ff"/><stop offset=".1" stop-color="#004bff"/><stop offset=".15" stop-color="#0063ff"/><stop offset=".2" stop-color="#007bff"/><stop offset=".25" stop-color="#0094ff"/><stop offset=".3" stop-color="#00adff"/><stop offset=".35" stop-color="#00c7ff"/><stop offset=".4" stop-color="#00e2ff"/><stop offset=".45" stop-color="#00feff"/><stop offset=".452" stop-color="#0ff"/><stop offset=".5" stop-color="#1bffe4"/><stop offset=".55" stop-color="#38ffc7"/><stop offset=".6" stop-color="#56ffa9"/><stop offset=".65" stop-color="#75ff8a"/><stop offset=".7" stop-color="#94ff6b"/><stop offset=".75" stop-color="#b3ff4c"/><stop offset=".8" stop-color="#d4ff2b"/><stop offset=".85" stop-color="#f5ff0a"/><stop offset=".865" stop-color="#ff0"/><stop offset=".9" stop-color="#ffe700"/><stop offset=".95" stop-color="#ffc500"/><stop offset="1" stop-color="#ffa200"/></linearGradient>
<linearGradient id="g87"><stop offset="0" stop-color="#001eff"/><stop offset=".05" stop-color="#0034ff"/><stop offset=".1" stop-color="#004aff"/><stop offset=".15" stop-color="#0061ff"/><stop offset=".2" stop-color="#0079ff"/><stop offset=".25" stop-color="#0092ff"/><stop offset=".3" stop-color="#00acff"/><stop offset=".35" stop-color="#00c6ff"/><stop offset=".4" stop-color="#00e1ff"/><stop offset=".45" stop-color="#00fcff"/><stop offset=".455" stop-color="#0ff"/><stop offset=".5" stop-color="#19ffe6"/><stop offset=".55" stop-color="#36ffc9"/><stop offset=".6" stop-color="#54ffab"/><stop offset=".65" stop-color="#72ff8d"/><stop offset=".7" stop-color="#91ff6e"/><stop offset=".75" stop-color="#b1ff4e"/><stop offset=".8" stop-color="#d1ff2e"/><stop offset=".85" stop-color="#f2ff0d"/><stop offset=".869" stop-color="#ff0"/><stop offset=".9" stop-color="#ffea00"/><stop offset=".95" stop-color="#ffc800"/><stop offset="1" stop-color="#ffa500"/></linearGradient>
<linearGradient id="g88"><stop offset="0" stop-color="#001dff"/><stop offset=".05" stop-color="#03f"/><stop offset=".1" stop-color="#0049ff"/><stop offset=".15" stop-color="#0060ff"/><stop offset=".2" stop-color="#0078ff"/><stop offset=".25" stop-color="#0091ff"/><stop offset=".3" stop-color="#0af"/><stop offset=".35" stop-color="#00c4ff"/><stop offset=".4" stop-color="#00dfff"/><stop offset=".45" stop-color="#00faff"/><stop offset=".459" stop-color="#0ff"/><stop offset=".5" stop-color="#17ffe8"/><stop offset=".55" stop-color="#34ffcb"/><stop offset=".6" stop-color="#52ffad"/><stop offset=".65" stop-color="#70ff8f"/><stop offset=".7" stop-color="#8fff70"/><stop offset=".75" stop-color="#aeff51"/><stop offset=".8" stop-color="#ceff31"/><stop offset=".85" stop-color="#efff10"/><stop offset=".874" stop-color="#ff0"/><stop offset=".9" stop-color="#ffed00"/><stop offset=".95" stop-color="#ffcb00"/><stop offset="1" stop-color="#ffa900"/></linearGradient>
<linearGradient id="g89"><stop offset="0" stop-color="#001cff"/><stop offset=".05" stop-color="#0032ff"/><stop offset=".1" stop-color="#0048ff"/><stop offset=".15" stop-color="#005fff"/><stop offset=".2" stop-color="#07f"/><stop offset=".25" stop-color="#008fff"/><stop offset=".3" stop-color="#00a8ff"/><stop offset=".35" stop-color="#00c2ff"/><stop offset=".4" stop-color="#0df"/><stop offset=".45" stop-color="#00f8ff"/><stop offset=".462" stop-color="#0ff"/><stop offset=".5" stop-color="#15ffea"/><stop offset=".55" stop-color="#32ffcd"/><stop offset=".6" stop-color="#4fffb0"/><stop offset=".65" stop-color="#6dff92"/><stop offset=".7" stop-color="#8cff73"/><stop offset=".75" stop-color="#acff53"/><stop offset=".8" stop-color="#cf3"/><stop offset=".85" stop-color="#ecff13"/><stop offset=".878" stop-color="#ff0"/><stop offset=".9" stop-color="#fff000"/><stop offset=".95" stop-color="#ffce00"/><stop offset="1" stop-color="#ffac00"/></linearGradient>
<linearGradient id="g90"><stop offset="0" stop-color="#001bff"/><stop offset=".05" stop-color="#0030ff"/><stop offset=".1" stop-color="#0047ff"/><stop offset=".15" stop-color="#005eff"/><stop offset=".2" stop-color="#0075ff"/><stop offset=".25" stop-color="#008eff"/><stop offset=".3" stop-color="#00a7ff"/><stop offset=".35" stop-color="#00c1ff"/><stop offset=".4" stop-color="#00dbff"/><stop offset=".45" stop-color="#00f6ff"/><stop offset=".466" stop-color="#0ff"/><stop offset=".5" stop-color="#13ffec"/><stop offset=".55" stop-color="#30ffcf"/><stop offset=".6" stop-color="#4dffb2"/><stop offset=".65" stop-color="#6bff94"/><stop offset=".7" stop-color="#8aff75"/><stop offset=".75" stop-color="#a9ff56"/><stop offset=".8" stop-color="#c9ff36"/><stop offset=".85" stop-color="#e9ff16"/><stop offset=".883" stop-color="#ff0"/><stop offset=".9" stop-color="#fff300"/><stop offset=".95" stop-color="#ffd200"/><stop offset="1" stop-color="#ffaf00"/></linearGradient>
<linearGradient id="g91"><stop offset="0" stop-color="#001aff"/><stop offset=".05" stop-color="#002fff"/><stop offset=".1" stop-color="#0045ff"/><stop offset=".15" stop-color="#005cff"/><stop offset=".2" stop-color="#0074ff"/><stop offset=".25" stop-color="#008cff"/><stop offset=".3" stop-color="#00a5ff"/><stop offset=".35" stop-color="#00bfff"/><stop offset=".4" stop-color="#00d9ff"/><stop offset=".45" stop-color="#00f4ff"/><stop offset=".469" stop-color="#0ff"/><stop offset=".5" stop-color="#1fe"/><stop offset=".55" stop-color="#2effd1"/><stop offset=".6" stop-color="#4bffb4"/><stop offset=".65" stop-color="#69ff96"/><stop offset=".7" stop-color="#87ff78"/><stop offset=".75" stop-color="#a6ff59"/><stop offset=".8" stop-color="#c6ff39"/><stop offset=".85" stop-color="#e6ff19"/><stop offset=".887" stop-color="#ff0"/><stop offset=".9" stop-color="#fff700"/><stop offset=".95" stop-color="#ffd500"/><stop offset="1" stop-color="#ffb300"/></linearGradient>
<linearGradient id="g92"><stop offset="0" stop-color="#0019ff"/><stop offset=".05" stop-color="#002eff"/><stop offset=".1" stop-color="#04f"/><stop offset=".15" stop-color="#005bff"/><stop offset=".2" stop-color="#0073ff"/><stop offset=".25" stop-color="#008bff"/><stop offset=".3" stop-color="#00a4ff"/><stop offset=".35" stop-color="#00bdff"/><stop offset=".4" stop-color="#00d8ff"/><stop offset=".45" stop-color="#00f3ff"/><stop offset=".473" stop-color="#0ff"/><stop offset=".5" stop-color="#0ffff0"/><stop offset=".55" stop-color="#2cffd3"/><stop offset=".6" stop-color="#49ffb6"/><stop offset=".65" stop-color="#6f9"/><stop offset=".7" stop-color="#85ff7a"/><stop offset=".75" stop-color="#a4ff5b"/><stop offset=".8" stop-color="#c3ff3c"/><stop offset=".85" stop-color="#e4ff1b"/><stop offset=".892" stop-color="#ff0"/><stop offset=".9" stop-color="#fffa00"/><stop offset=".95" stop-color="#ffd800"/><stop offset="1" stop-color="#ffb600"/></linearGradient>
<linearGradient id="g93"><stop offset="0" stop-color="#0018ff"/><stop offset=".05" stop-color="#002dff"/><stop offset=".1" stop-color="#0043ff"/><stop offset=".15" stop-color="#005aff"/><stop offset=".2" stop-color="#0071ff"/><stop offset=".25" stop-color="#0089ff"/><stop offset=".3" stop-color="#00a2ff"/><stop offset=".35" stop-color="#00bcff"/><stop offset=".4" stop-color="#00d6ff"/><stop offset=".45" stop-color="#00f1ff"/><stop offset=".476" stop-color="#0ff"/><stop offset=".5" stop-color="#0dfff2"/><stop offset=".55" stop-color="#29ffd6"/><stop offset=".6" stop-color="#46ffb9"/><stop offset=".65" stop-color="#64ff9b"/><stop offset=".7" stop-color="#82ff7d"/><stop offset=".75" stop-color="#a1ff5e"/><stop offset=".8" stop-color="#c0ff3f"/><stop offset=".85" stop-color="#e1ff1e"/><stop offset=".896" stop-color="#ff0"/><stop offset=".9" stop-color="#fffd00"/><stop offset=".95" stop-color="#ffdb00"/><stop offset="1" stop-color="#ffb900"/></linearGradient>
<linearGradient id="g94"><stop offset="0" stop-color="#0017ff"/><stop offset=".05" stop-color="#002cff"/><stop offset=".1" stop-color="#0042ff"/><stop offset=".15" stop-color="#0058ff"/><stop offset=".2" stop-color="#0070ff"/><stop offset=".25" stop-color="#08f"/><stop offset=".3" stop-color="#00a0ff"/><stop offset=".35" stop-color="#00baff"/><stop offset=".4" stop-color="#00d4ff"/><stop offset=".45" stop-color="#00efff"/><stop offset=".48" stop-color="#0ff"/><stop offset=".5" stop-color="#0bfff4"/><stop offset=".55" stop-color="#27ffd8"/><stop offset=".6" stop-color="#4fb"/><stop offset=".65" stop-color="#61ff9e"/><stop offset=".7" stop-color="#80ff7f"/><stop offset=".75" stop-color="#9eff61"/><stop offset=".8" stop-color="#beff41"/><stop offset=".85" stop-color="#deff21"/><stop offset=".9" stop-color="#feff01"/><stop offset=".901" stop-color="#ff0"/><stop offset=".95" stop-color="#ffde00"/><stop offset="1" stop-color="#ffbc00"/></linearGradient>
<linearGradient id="g95"><stop offset="0" stop-color="#0016ff"/><stop offset=".05" stop-color="#002bff"/><stop offset=".1" stop-color="#0041ff"/><stop offset=".15" stop-color="#0057ff"/><stop offset=".2" stop-color="#006eff"/><stop offset=".25" stop-color="#0086ff"/><stop offset=".3" stop-color="#009fff"/><stop offset=".35" stop-color="#00b8ff"/><stop offset=".4" stop-color="#00d2ff"/><stop offset=".45" stop-color="#00edff"/><stop offset=".483" stop-color="#0ff"/><stop offset=".5" stop-color="#09fff6"/><stop offset=".55" stop-color="#25ffda"/><stop offset=".6" stop-color="#42ffbd"/><stop offset=".65" stop-color="#5fffa0"/><stop offset=".7" stop-color="#7dff82"/><stop offset=".75" stop-color="#9cff63"/><stop offset=".8" stop-color="#bf4"/><stop offset=".85" stop-color="#dbff24"/><stop offset=".9" stop-color="#fbff04"/><stop offset=".906" stop-color="#ff0"/><stop offset=".95" stop-color="#ffe200"/><stop offset="1" stop-color="#ffc000"/></linearGradient>
<linearGradient id="g96"><stop offset="0" stop-color="#0015ff"/><stop offset=".05" stop-color="#002aff"/><stop offset=".1" stop-color="#0040ff"/><stop offset=".15" stop-color="#0056ff"/><stop offset=".2" stop-color="#006dff"/><stop offset=".25" stop-color="#0085ff"/><stop offset=".3" stop-color="#009dff"/><stop offset=".35" stop-color="#00b7ff"/><stop offset=".4" stop-color="#00d0ff"/><stop offset=".45" stop-color="#00ebff"/><stop offset=".487" stop-color="#0ff"/><stop offset=".5" stop-color="#07fff8"/><stop offset=".55" stop-color="#23ffdc"/><stop offset=".6" stop-color="#40ffbf"/><stop offset=".65" stop-color="#5dffa2"/><stop offset=".7" stop-color="#7bff84"/><stop offset=".75" stop-color="#9f6"/><stop offset=".8" stop-color="#b8ff47"/><stop offset=".85" stop-color="#d8ff27"/><stop offset=".9" stop-color="#f8ff07"/><stop offset=".91" stop-color="#ff0"/><stop offset=".95" stop-color="#ffe500"/><stop offset="1" stop-color="#ffc300"/></linearGradient>
<linearGradient id="g97"><stop offset="0" stop-color="#0014ff"/><stop offset=".05" stop-color="#0029ff"/><stop offset=".1" stop-color="#003eff"/><stop offset=".15" stop-color="#05f"/><stop offset=".2" stop-color="#006cff"/><stop offset=".25" stop-color="#0083ff"/><stop offset=".3" stop-color="#009cff"/><stop offset=".35" stop-color="#00b5ff"/><stop offset=".4" stop-color="#00cfff"/><stop offset=".45" stop-color="#00e9ff"/><stop offset=".491" stop-color="#0ff"/><stop offset=".5" stop-color="#05fffa"/><stop offset=".55" stop-color="#21ffde"/><stop offset=".6" stop-color="#3dffc2"/><stop offset=".65" stop-color="#5affa5"/><stop offset=".7" stop-color="#78ff87"/><stop offset=".75" stop-color="#96ff69"/><stop offset=".8" stop-color="#b5ff4a"/><stop offset=".85" stop-color="#d5ff2a"/><stop offset=".9" stop-color="#f5ff0a"/><stop offset=".915" stop-color="#ff0"/><stop offset=".95" stop-color="#ffe800"/><stop offset="1" stop-color="#ffc600"/></linearGradient>
<linearGradient id="g98"><stop offset="0" stop-color="#0013ff"/><stop offset=".05" stop-color="#0028ff"/><stop offset=".1" stop-color="#003dff"/><stop offset=".15" stop-color="#0053ff"/><stop offset=".2" stop-color="#006aff"/><stop offset=".25" stop-color="#0082ff"/><stop offset=".3" stop-color="#009aff"/><stop offset=".35" stop-color="#00b3ff"/><stop offset=".4" stop-color="#00cdff"/><stop offset=".45" stop-color="#00e7ff"/><stop offset=".494" stop-color="#0ff"/><stop offset=".5" stop-color="#03fffc"/><stop offset=".55" stop-color="#1fffe0"/><stop offset=".6" stop-color="#3bffc4"/><stop offset=".65" stop-color="#58ffa7"/><stop offset=".7" stop-color="#76ff89"/><stop offset=".75" stop-color="#94ff6b"/><stop offset=".8" stop-color="#b3ff4c"/><stop offset=".85" stop-color="#d2ff2d"/><stop offset=".9" stop-color="#f2ff0d"/><stop offset=".92" stop-color="#ff0"/><stop offset=".95" stop-color="#ffeb00"/><stop offset="1" stop-color="#ffca00"/></linearGradient>
<linearGradient id="g99"><stop offset="0" stop-color="#0012ff"/><stop offset=".05" stop-color="#0027ff"/><stop offset=".1" stop-color="#003cff"/><stop offset=".15" stop-color="#0052ff"/><stop offset=".2" stop-color="#0069ff"/><stop offset=".25" stop-color="#0080ff"/><stop offset=".3" stop-color="#09f"/><stop offset=".35" stop-color="#00b1ff"/><stop offset=".4" stop-color="#00cbff"/><stop offset=".45" stop-color="#00e5ff"/><stop offset=".498" stop-color="#0ff"/><stop offset=".5" stop-color="#01fffe"/><stop offset=".55" stop-color="#1dffe2"/><stop offset=".6" stop-color="#39ffc6"/><stop offset=".65" stop-color="#56ffa9"/><stop offset=".7" stop-color="#73ff8c"/><stop offset=".75" stop-color="#91ff6e"/><stop offset=".8" stop-color="#b0ff4f"/><stop offset=".85" stop-color="#cfff30"/><stop offset=".9" stop-color="#efff10"/><stop offset=".924" stop-color="#ff0"/><stop offset=".95" stop-color="#fe0"/><stop offset="1" stop-color="#ffcd00"/></linearGradient>
<linearGradient id="g100"><stop offset="0" stop-color="#01f"/><stop offset=".05" stop-color="#0026ff"/><stop offset=".1" stop-color="#003bff"/><stop offset=".15" stop-color="#0051ff"/><stop offset=".2" stop-color="#0068ff"/><stop offset=".25" stop-color="#007fff"/><stop offset=".3" stop-color="#0097ff"/><stop offset=".35" stop-color="#00b0ff"/><stop offset=".4" stop-color="#00c9ff"/><stop offset=".45" stop-color="#00e3ff"/><stop offset=".5" stop-color="#00feff"/><stop offset=".502" stop-color="#0ff"/><stop offset=".55" stop-color="#1affe5"/><stop offset=".6" stop-color="#37ffc8"/><stop offset=".65" stop-color="#53ffac"/><stop offset=".7" stop-color="#71ff8e"/><stop offset=".75" stop-color="#8fff70"/><stop offset=".8" stop-color="#adff52"/><stop offset=".85" stop-color="#cf3"/><stop offset=".9" stop-color="#ecff13"/><stop offset=".929" stop-color="#ff0"/><stop offset=".95" stop-color="#fff100"/><stop offset="1" stop-color="#ffd000"/></linearGradient>
<linearGradient id="g101"><stop offset="0" stop-color="#0010ff"/><stop offset=".05" stop-color="#0024ff"/><stop offset=".1" stop-color="#003aff"/><stop offset=".15" stop-color="#0050ff"/><stop offset=".2" stop-color="#06f"/><stop offset=".25" stop-color="#007dff"/><stop offset=".3" stop-color="#0095ff"/><stop offset=".35" stop-color="#00aeff"/><stop offset=".4" stop-color="#00c7ff"/><stop offset=".45" stop-color="#00e1ff"/><stop offset=".5" stop-color="#00fcff"/><stop offset=".505" stop-color="#0ff"/><stop offset=".55" stop-color="#18ffe7"/><stop offset=".6" stop-color="#34ffcb"/><stop offset=".65" stop-color="#51ffae"/><stop offset=".7" stop-color="#6eff91"/><stop offset=".75" stop-color="#8cff73"/><stop offset=".8" stop-color="#af5"/><stop offset=".85" stop-color="#c9ff36"/><stop offset=".9" stop-color="#e9ff16"/><stop offset=".934" stop-color="#ff0"/><stop offset=".95" stop-color="#fff500"/><stop offset="1" stop-color="#ffd400"/></linearGradient>
<linearGradient id="g102"><stop offset="0" stop-color="#000fff"/><stop offset=".05" stop-color="#0023ff"/><stop offset=".1" stop-color="#0038ff"/><stop offset=".15" stop-color="#004eff"/><stop offset=".2" stop-color="#0065ff"/><stop offset=".25" stop-color="#007cff"/><stop offset=".3" stop-color="#0094ff"/><stop offset=".35" stop-color="#00acff"/><stop offset=".4" stop-color="#00c6ff"/><stop offset=".45" stop-color="#00e0ff"/><stop offset=".5" stop-color="#00faff"/><stop offset=".509" stop-color="#0ff"/><stop offset=".55" stop-color="#16ffe9"/><stop offset=".6" stop-color="#32ffcd"/><stop offset=".65" stop-color="#4effb1"/><stop offset=".7" stop-color="#6cff93"/><stop offset=".75" stop-color="#89ff76"/><stop offset=".8" stop-color="#a8ff57"/><stop offset=".85" stop-color="#c7ff38"/><stop offset=".9" stop-color="#e6ff19"/><stop offset=".939" stop-color="#ff0"/><stop offset=".95" stop-color="#fff800"/><stop offset="1" stop-color="#ffd700"/></linearGradient>
<linearGradient id="g103"><stop offset="0" stop-color="#000eff"/><stop offset=".05" stop-color="#02f"/><stop offset=".1" stop-color="#0037ff"/><stop offset=".15" stop-color="#004dff"/><stop offset=".2" stop-color="#0063ff"/><stop offset=".25" stop-color="#007bff"/><stop offset=".3" stop-color="#0092ff"/><stop offset=".35" stop-color="#00abff"/><stop offset=".4" stop-color="#00c4ff"/><stop offset=".45" stop-color="#00deff"/><stop offset=".5" stop-color="#00f8ff"/><stop offset=".513" stop-color="#0ff"/><stop offset=".55" stop-color="#14ffeb"/><stop offset=".6" stop-color="#30ffcf"/><stop offset=".65" stop-color="#4cffb3"/><stop offset=".7" stop-color="#69ff96"/><stop offset=".75" stop-color="#87ff78"/><stop offset=".8" stop-color="#a5ff5a"/><stop offset=".85" stop-color="#c4ff3b"/><stop offset=".9" stop-color="#e3ff1c"/><stop offset=".944" stop-color="#ff0"/><stop offset=".95" stop-color="#fffb00"/><stop offset="1" stop-color="#ffda00"/></linearGradient>
<linearGradient id="g104"><stop offset="0" stop-color="#000dff"/><stop offset=".05" stop-color="#0021ff"/><stop offset=".1" stop-color="#0036ff"/><stop offset=".15" stop-color="#004cff"/><stop offset=".2" stop-color="#0062ff"/><stop offset=".25" stop-color="#0079ff"/><stop offset=".3" stop-color="#0091ff"/><stop offset=".35" stop-color="#00a9ff"/><stop offset=".4" stop-color="#00c2ff"/><stop offset=".45" stop-color="#00dcff"/><stop offset=".5" stop-color="#00f6ff"/><stop offset=".517" stop-color="#0ff"/><stop offset=".55" stop-color="#12ffed"/><stop offset=".6" stop-color="#2effd1"/><stop offset=".65" stop-color="#4affb5"/><stop offset=".7" stop-color="#67ff98"/><stop offset=".75" stop-color="#84ff7b"/><stop offset=".8" stop-color="#a2ff5d"/><stop offset=".85" stop-color="#c1ff3e"/><stop offset=".9" stop-color="#e0ff1f"/><stop offset=".949" stop-color="#ff0"/><stop offset=".95" stop-color="#fffe00"/><stop offset="1" stop-color="#ffde00"/></linearGradient>
<linearGradient id="g105"><stop offset="0" stop-color="#000cff"/><stop offset=".05" stop-color="#0020ff"/><stop offset=".1" stop-color="#0035ff"/><stop offset=".15" stop-color="#004aff"/><stop offset=".2" stop-color="#0061ff"/><stop offset=".25" stop-color="#0078ff"/><stop offset=".3" stop-color="#008fff"/><stop offset=".35" stop-color="#00a7ff"/><stop offset=".4" stop-color="#00c0ff"/><stop offset=".45" stop-color="#00daff"/><stop offset=".5" stop-color="#00f4ff"/><stop offset=".521" stop-color="#0ff"/><stop offset=".55" stop-color="#10ffef"/><stop offset=".6" stop-color="#2bffd4"/><stop offset=".65" stop-color="#47ffb8"/><stop offset=".7" stop-color="#64ff9b"/><stop offset=".75" stop-color="#81ff7e"/><stop offset=".8" stop-color="#9fff60"/><stop offset=".85" stop-color="#beff41"/><stop offset=".9" stop-color="#df2"/><stop offset=".95" stop-color="#fdff02"/><stop offset=".953" stop-color="#ff0"/><stop offset="1" stop-color="#ffe100"/></linearGradient>
<linearGradient id="g106"><stop offset="0" stop-color="#000bff"/><stop offset=".05" stop-color="#001fff"/><stop offset=".1" stop-color="#0034ff"/><stop offset=".15" stop-color="#0049ff"/><stop offset=".2" stop-color="#005fff"/><stop offset=".25" stop-color="#0076ff"/><stop offset=".3" stop-color="#008eff"/><stop offset=".35" stop-color="#00a6ff"/><stop offset=".4" stop-color="#00beff"/><stop offset=".45" stop-color="#00d8ff"/><stop offset=".5" stop-color="#00f2ff"/><stop offset=".525" stop-color="#0ff"/><stop offset=".55" stop-color="#0efff1"/><stop offset=".6" stop-color="#29ffd6"/><stop offset=".65" stop-color="#45ffba"/><stop offset=".7" stop-color="#62ff9d"/><stop offset=".75" stop-color="#7fff80"/><stop offset=".8" stop-color="#9dff62"/><stop offset=".85" stop-color="#bf4"/><stop offset=".9" stop-color="#daff25"/><stop offset=".95" stop-color="#faff05"/><stop offset=".958" stop-color="#ff0"/><stop offset="1" stop-color="#ffe400"/></linearGradient>
<linearGradient id="g107"><stop offset="0" stop-color="#000aff"/><stop offset=".05" stop-color="#001eff"/><stop offset=".1" stop-color="#03f"/><stop offset=".15" stop-color="#0048ff"/><stop offset=".2" stop-color="#005eff"/><stop offset=".25" stop-color="#0075ff"/><stop offset=".3" stop-color="#008cff"/><stop offset=".35" stop-color="#00a4ff"/><stop offset=".4" stop-color="#00bdff"/><stop offset=".45" stop-color="#00d6ff"/><stop offset=".5" stop-color="#00f0ff"/><stop offset=".528" stop-color="#0ff"/><stop offset=".55" stop-color="#0cfff3"/><stop offset=".6" stop-color="#27ffd8"/><stop offset=".65" stop-color="#43ffbc"/><stop offset=".7" stop-color="#5fffa0"/><stop offset=".75" stop-color="#7cff83"/><stop offset=".8" stop-color="#9aff65"/><stop offset=".85" stop-color="#b8ff47"/><stop offset=".9" stop-color="#d7ff28"/><stop offset=".95" stop-color="#f6ff09"/><stop offset=".963" stop-color="#ff0"/><stop offset="1" stop-color="#ffe700"/></linearGradient>
<linearGradient id="g108"><stop offset="0" stop-color="#0009ff"/><stop offset=".05" stop-color="#001dff"/><stop offset=".1" stop-color="#0031ff"/><stop offset=".15" stop-color="#0047ff"/><stop offset=".2" stop-color="#005dff"/><stop offset=".25" stop-color="#0073ff"/><stop offset=".3" stop-color="#008aff"/><stop offset=".35" stop-color="#00a2ff"/><stop offset=".4" stop-color="#0bf"/><stop offset=".45" stop-color="#00d4ff"/><stop offset=".5" stop-color="#0ef"/><stop offset=".532" stop-color="#0ff"/><stop offset=".55" stop-color="#09fff6"/><stop offset=".6" stop-color="#25ffda"/><stop offset=".65" stop-color="#40ffbf"/><stop offset=".7" stop-color="#5dffa2"/><stop offset=".75" stop-color="#7aff85"/><stop offset=".8" stop-color="#97ff68"/><stop offset=".85" stop-color="#b5ff4a"/><stop offset=".9" stop-color="#d4ff2b"/><stop offset=".95" stop-color="#f3ff0c"/><stop offset=".968" stop-color="#ff0"/><stop offset="1" stop-color="#ffeb00"/></linearGradient>
<linearGradient id="g109"><stop offset="0" stop-color="#0008ff"/><stop offset=".05" stop-color="#001cff"/><stop offset=".1" stop-color="#0030ff"/><stop offset=".15" stop-color="#0045ff"/><stop offset=".2" stop-color="#005bff"/><stop offset=".25" stop-color="#0072ff"/><stop offset=".3" stop-color="#0089ff"/><stop offset=".35" stop-color="#00a1ff"/><stop offset=".4" stop-color="#00b9ff"/><stop offset=".45" stop-color="#00d2ff"/><stop offset=".5" stop-color="#00ecff"/><stop offset=".536" stop-color="#0ff"/><stop offset=".55" stop-color="#07fff8"/><stop offset=".6" stop-color="#2fd"/><stop offset=".65" stop-color="#3effc1"/><stop offset=".7" stop-color="#5affa5"/><stop offset=".75" stop-color="#7f8"/><stop offset=".8" stop-color="#94ff6b"/><stop offset=".85" stop-color="#b2ff4d"/><stop offset=".9" stop-color="#d1ff2e"/><stop offset=".95" stop-color="#f0ff0f"/><stop offset=".973" stop-color="#ff0"/><stop offset="1" stop-color="#fe0"/></linearGradient>
<linearGradient id="g110"><stop offset="0" stop-color="#0007ff"/><stop offset=".05" stop-color="#001bff"/><stop offset=".1" stop-color="#002fff"/><stop offset=".15" stop-color="#04f"/><stop offset=".2" stop-color="#005aff"/><stop offset=".25" stop-color="#0070ff"/><stop offset=".3" stop-color="#0087ff"/><stop offset=".35" stop-color="#009fff"/><stop offset=".4" stop-color="#00b7ff"/><stop offset=".45" stop-color="#00d0ff"/><stop offset=".5" stop-color="#00eaff"/><stop offset=".54" stop-color="#0ff"/><stop offset=".55" stop-color="#05fffa"/><stop offset=".6" stop-color="#20ffdf"/><stop offset=".65" stop-color="#3cffc3"/><stop offset=".7" stop-color="#58ffa7"/><stop offset=".75" stop-color="#74ff8b"/><stop offset=".8" stop-color="#92ff6d"/><stop offset=".85" stop-color="#afff50"/><stop offset=".9" stop-color="#ceff31"/><stop offset=".95" stop-color="#edff12"/><stop offset=".979" stop-color="#ff0"/><stop offset="1" stop-color="#fff100"/></linearGradient>
<linearGradient id="g111"><stop offset="0" stop-color="#0006ff"/><stop offset=".05" stop-color="#001aff"/><stop offset=".1" stop-color="#002eff"/><stop offset=".15" stop-color="#0043ff"/><stop offset=".2" stop-color="#0058ff"/><stop offset=".25" stop-color="#006fff"/><stop offset=".3" stop-color="#0086ff"/><stop offset=".35" stop-color="#009dff"/><stop offset=".4" stop-color="#00b6ff"/><stop offset=".45" stop-color="#00ceff"/><stop offset=".5" stop-color="#00e8ff"/><stop offset=".544" stop-color="#0ff"/><stop offset=".55" stop-color="#03fffc"/><stop offset=".6" stop-color="#1effe1"/><stop offset=".65" stop-color="#39ffc6"/><stop offset=".7" stop-color="#5fa"/><stop offset=".75" stop-color="#72ff8d"/><stop offset=".8" stop-color="#8fff70"/><stop offset=".85" stop-color="#adff52"/><stop offset=".9" stop-color="#cbff34"/><stop offset=".95" stop-color="#eaff15"/><stop offset=".984" stop-color="#ff0"/><stop offset="1" stop-color="#fff500"/></linearGradient>
<linearGradient id="g112"><stop offset="0" stop-color="#0005ff"/><stop offset=".05" stop-color="#0018ff"/><stop offset=".1" stop-color="#002dff"/><stop offset=".15" stop-color="#0042ff"/><stop offset=".2" stop-color="#0057ff"/><stop offset=".25" stop-color="#006dff"/><stop offset=".3" stop-color="#0084ff"/><stop offset=".35" stop-color="#009cff"/><stop offset=".4" stop-color="#00b4ff"/><stop offset=".45" stop-color="#00cdff"/><stop offset=".5" stop-color="#00e6ff"/><stop offset=".548" stop-color="#0ff"/><stop offset=".55" stop-color="#01fffe"/><stop offset=".6" stop-color="#1cffe3"/><stop offset=".65" stop-color="#37ffc8"/><stop offset=".7" stop-color="#53ffac"/><stop offset=".75" stop-color="#6fff90"/><stop offset=".8" stop-color="#8cff73"/><stop offset=".85" stop-color="#af5"/><stop offset=".9" stop-color="#c8ff37"/><stop offset=".95" stop-color="#e7ff18"/><stop offset=".989" stop-color="#ff0"/><stop offset="1" stop-color="#fff800"/></linearGradient>
<linearGradient id="g113"><stop offset="0" stop-color="#0004ff"/><stop offset=".05" stop-color="#0017ff"/><stop offset=".1" stop-color="#002cff"/><stop offset=".15" stop-color="#0040ff"/><stop offset=".2" stop-color="#0056ff"/><stop offset=".25" stop-color="#006cff"/><stop offset=".3" stop-color="#0083ff"/><stop offset=".35" stop-color="#009aff"/><stop offset=".4" stop-color="#00b2ff"/><stop offset=".45" stop-color="#00cbff"/><stop offset=".5" stop-color="#00e4ff"/><stop offset=".55" stop-color="#00feff"/><stop offset=".552" stop-color="#0ff"/><stop offset=".6" stop-color="#19ffe6"/><stop offset=".65" stop-color="#34ffcb"/><stop offset=".7" stop-color="#50ffaf"/><stop offset=".75" stop-color="#6cff93"/><stop offset=".8" stop-color="#89ff76"/><stop offset=".85" stop-color="#a7ff58"/><stop offset=".9" stop-color="#c5ff3a"/><stop offset=".95" stop-color="#e4ff1b"/><stop offset=".994" stop-color="#ff0"/><stop offset="1" stop-color="#fffb00"/></linearGradient>
<linearGradient id="g114"><stop offset="0" stop-color="#0003ff"/><stop offset=".05" stop-color="#0016ff"/><stop offset=".1" stop-color="#002aff"/><stop offset=".15" stop-color="#003fff"/><stop offset=".2" stop-color="#0054ff"/><stop offset=".25" stop-color="#006aff"/><stop offset=".3" stop-color="#0081ff"/><stop offset=".35" stop-color="#0098ff"/><stop offset=".4" stop-color="#00b0ff"/><stop offset=".45" stop-color="#00c9ff"/><stop offset=".5" stop-color="#00e2ff"/><stop offset=".55" stop-color="#00fcff"/><stop offset=".556" stop-color="#0ff"/><stop offset=".6" stop-color="#17ffe8"/><stop offset=".65" stop-color="#32ffcd"/><stop offset=".7" stop-color="#4effb1"/><stop offset=".75" stop-color="#6aff95"/><stop offset=".8" stop-color="#87ff78"/><stop offset=".85" stop-color="#a4ff5b"/><stop offset=".9" stop-color="#c2ff3d"/><stop offset=".95" stop-color="#e0ff1f"/><stop offset=".999" stop-color="#ff0"/><stop offset="1" stop-color="#ff0"/></linearGradient>
<linearGradient id="g115"><stop offset="0" stop-color="#0002ff"/><stop offset=".05" stop-color="#0015ff"/><stop offset=".1" stop-color="#0029ff"/><stop offset=".15" stop-color="#003eff"/><stop offset=".2" stop-color="#0053ff"/><stop offset=".25" stop-color="#0069ff"/><stop offset=".3" stop-color="#007fff"/><stop offset=".35" stop-color="#0097ff"/><stop offset=".4" stop-color="#00aeff"/><stop offset=".45" stop-color="#00c7ff"/><stop offset=".5" stop-color="#00e0ff"/><stop offset=".55" stop-color="#00faff"/><stop offset=".56" stop-color="#0ff"/><stop offset=".6" stop-color="#15ffea"/><stop offset=".65" stop-color="#30ffcf"/><stop offset=".7" stop-color="#4bffb4"/><stop offset=".75" stop-color="#67ff98"/><stop offset=".8" stop-color="#84ff7b"/><stop offset=".85" stop-color="#a1ff5e"/><stop offset=".9" stop-color="#bfff40"/><stop offset=".95" stop-color="#df2"/><stop offset="1" stop-color="#fcff03"/></linearGradient>
<linearGradient id="g116"><stop offset="0" stop-color="#0001ff"/><stop offset=".05" stop-color="#0014ff"/><stop offset=".1" stop-color="#0028ff"/><stop offset=".15" stop-color="#003dff"/><stop offset=".2" stop-color="#0052ff"/><stop offset=".25" stop-color="#0067ff"/><stop offset=".3" stop-color="#007eff"/><stop offset=".35" stop-color="#0095ff"/><stop offset=".4" stop-color="#00adff"/><stop offset=".45" stop-color="#00c5ff"/><stop offset=".5" stop-color="#00deff"/><stop offset=".55" stop-color="#00f7ff"/><stop offset=".565" stop-color="#0ff"/><stop offset=".6" stop-color="#13ffec"/><stop offset=".65" stop-color="#2dffd2"/><stop offset=".7" stop-color="#49ffb6"/><stop offset=".75" stop-color="#65ff9a"/><stop offset=".8" stop-color="#81ff7e"/><stop offset=".85" stop-color="#9eff61"/><stop offset=".9" stop-color="#bcff43"/><stop offset=".95" stop-color="#daff25"/><stop offset="1" stop-color="#f9ff06"/></linearGradient>
<linearGradient id="g117"><stop offset="0" stop-color="#00f"/><stop offset=".05" stop-color="#0013ff"/><stop offset=".1" stop-color="#0027ff"/><stop offset=".15" stop-color="#003bff"/><stop offset=".2" stop-color="#0050ff"/><stop offset=".25" stop-color="#06f"/><stop offset=".3" stop-color="#007cff"/><stop offset=".35" stop-color="#0093ff"/><stop offset=".4" stop-color="#00abff"/><stop offset=".45" stop-color="#00c3ff"/><stop offset=".5" stop-color="#00dcff"/><stop offset=".55" stop-color="#00f5ff"/><stop offset=".569" stop-color="#0ff"/><stop offset=".6" stop-color="#10ffef"/><stop offset=".65" stop-color="#2bffd4"/><stop offset=".7" stop-color="#46ffb9"/><stop offset=".75" stop-color="#62ff9d"/><stop offset=".8" stop-color="#7eff81"/><stop offset=".85" stop-color="#9bff64"/><stop offset=".9" stop-color="#b9ff46"/><stop offset=".95" stop-color="#d7ff28"/><stop offset="1" stop-color="#f6ff09"/></linearGradient>
<linearGradient id="g118"><stop offset="0" stop-color="#0000fe"/><stop offset=".003" stop-color="#00f"/><stop offset=".05" stop-color="#0012ff"/><stop offset=".1" stop-color="#0026ff"/><stop offset=".15" stop-color="#003aff"/><stop offset=".2" stop-color="#004fff"/><stop offset=".25" stop-color="#0065ff"/><stop offset=".3" stop-color="#007bff"/><stop offset=".35" stop-color="#0092ff"/><stop offset=".4" stop-color="#00a9ff"/><stop offset=".45" stop-color="#00c1ff"/><stop offset=".5" stop-color="#00daff"/><stop offset=".55" stop-color="#00f3ff"/><stop offset=".573" stop-color="#0ff"/><stop offset=".6" stop-color="#0efff1"/><stop offset=".65" stop-color="#29ffd6"/><stop offset=".7" stop-color="#4fb"/><stop offset=".75" stop-color="#5fffa0"/><stop offset=".8" stop-color="#7cff83"/><stop offset=".85" stop-color="#98ff67"/><stop offset=".9" stop-color="#b6ff49"/><stop offset=".95" stop-color="#d4ff2b"/><stop offset="1" stop-color="#f2ff0d"/></linearGradient>
<linearGradient id="g119"><stop offset="0" stop-color="#0000fd"/><stop offset=".005" stop-color="#00f"/><stop offset=".05" stop-color="#01f"/><stop offset=".1" stop-color="#0024ff"/><stop offset=".15" stop-color="#0039ff"/><stop offset=".2" stop-color="#004eff"/><stop offset=".25" stop-color="#0063ff"/><stop offset=".3" stop-color="#0079ff"/><stop offset=".35" stop-color="#0090ff"/><stop offset=".4" stop-color="#00a7ff"/><stop offset=".45" stop-color="#00bfff"/><stop offset=".5" stop-color="#00d8ff"/><stop offset=".55" stop-color="#00f1ff"/><stop offset=".577" stop-color="#0ff"/><stop offset=".6" stop-color="#0cfff3"/><stop offset=".65" stop-color="#26ffd9"/><stop offset=".7" stop-color="#41ffbe"/><stop offset=".75" stop-color="#5dffa2"/><stop offset=".8" stop-color="#79ff86"/><stop offset=".85" stop-color="#96ff69"/><stop offset=".9" stop-color="#b3ff4c"/><stop offset=".95" stop-color="#d1ff2e"/><stop offset="1" stop-color="#efff10"/></linearGradient>
<linearGradient id="g120"><stop offset="0" stop-color="#0000fc"/><stop offset=".008" stop-color="#00f"/><stop offset=".05" stop-color="#0010ff"/><stop offset=".1" stop-color="#0023ff"/><stop offset=".15" stop-color="#0037ff"/><stop offset=".2" stop-color="#004cff"/><stop offset=".25" stop-color="#0062ff"/><stop offset=".3" stop-color="#0078ff"/><stop offset=".35" stop-color="#008eff"/><stop offset=".4" stop-color="#00a6ff"/><stop offset=".45" stop-color="#00bdff"/><stop offset=".5" stop-color="#00d6ff"/><stop offset=".55" stop-color="#00efff"/><stop offset=".581" stop-color="#0ff"/><stop offset=".6" stop-color="#0afff5"/><stop offset=".65" stop-color="#24ffdb"/><stop offset=".7" stop-color="#3fffc0"/><stop offset=".75" stop-color="#5affa5"/><stop offset=".8" stop-color="#76ff89"/><stop offset=".85" stop-color="#93ff6c"/><stop offset=".9" stop-color="#b0ff4f"/><stop offset=".95" stop-color="#ceff31"/><stop offset="1" stop-color="#ecff13"/></linearGradient>
<linearGradient id="g121"><stop offset="0" stop-color="#0000fb"/><stop offset=".011" stop-color="#00f"/><stop offset=".05" stop-color="#000fff"/><stop offset=".1" stop-color="#02f"/><stop offset=".15" stop-color="#0036ff"/><stop offset=".2" stop-color="#004bff"/><stop offset=".25" stop-color="#0060ff"/><stop offset=".3" stop-color="#0076ff"/><stop offset=".35" stop-color="#008dff"/><stop offset=".4" stop-color="#00a4ff"/><stop offset=".45" stop-color="#00bcff"/><stop offset=".5" stop-color="#00d4ff"/><stop offset=".55" stop-color="#00edff"/><stop offset=".586" stop-color="#0ff"/><stop offset=".6" stop-color="#07fff8"/><stop offset=".65" stop-color="#2fd"/><stop offset=".7" stop-color="#3cffc3"/><stop offset=".75" stop-color="#58ffa7"/><stop offset=".8" stop-color="#73ff8c"/><stop offset=".85" stop-color="#90ff6f"/><stop offset=".9" stop-color="#adff52"/><stop offset=".95" stop-color="#caff35"/><stop offset="1" stop-color="#e8ff17"/></linearGradient>
<linearGradient id="g122"><stop offset="0" stop-color="#0000fa"/><stop offset=".013" stop-color="#00f"/><stop offset=".05" stop-color="#000eff"/><stop offset=".1" stop-color="#0021ff"/><stop offset=".15" stop-color="#0035ff"/><stop offset=".2" stop-color="#0049ff"/><stop offset=".25" stop-color="#005fff"/><stop offset=".3" stop-color="#0075ff"/><stop offset=".35" stop-color="#008bff"/><stop offset=".4" stop-color="#00a2ff"/><stop offset=".45" stop-color="#00baff"/><stop offset=".5" stop-color="#00d2ff"/><stop offset=".55" stop-color="#00ebff"/><stop offset=".59" stop-color="#0ff"/><stop offset=".6" stop-color="#05fffa"/><stop offset=".65" stop-color="#1fffe0"/><stop offset=".7" stop-color="#3affc5"/><stop offset=".75" stop-color="#5fa"/><stop offset=".8" stop-color="#71ff8e"/><stop offset=".85" stop-color="#8dff72"/><stop offset=".9" stop-color="#af5"/><stop offset=".95" stop-color="#c7ff38"/><stop offset="1" stop-color="#e5ff1a"/></linearGradient>
<linearGradient id="g123"><stop offset="0" stop-color="#0000f9"/><stop offset=".016" stop-color="#00f"/><stop offset=".05" stop-color="#000dff"/><stop offset=".1" stop-color="#0020ff"/><stop offset=".15" stop-color="#0034ff"/><stop offset=".2" stop-color="#0048ff"/><stop offset=".25" stop-color="#005dff"/><stop offset=".3" stop-color="#0073ff"/><stop offset=".35" stop-color="#0089ff"/><stop offset=".4" stop-color="#00a0ff"/><stop offset=".45" stop-color="#00b8ff"/><stop offset=".5" stop-color="#00d0ff"/><stop offset=".55" stop-color="#00e9ff"/><stop offset=".594" stop-color="#0ff"/><stop offset=".6" stop-color="#03fffc"/><stop offset=".65" stop-color="#1dffe2"/><stop offset=".7" stop-color="#37ffc8"/><stop offset=".75" stop-color="#52ffad"/><stop offset=".8" stop-color="#6eff91"/><stop offset=".85" stop-color="#8aff75"/><stop offset=".9" stop-color="#a7ff58"/><stop offset=".95" stop-color="#c4ff3b"/><stop offset="1" stop-color="#e2ff1d"/></linearGradient>
<linearGradient id="g124"><stop offset="0" stop-color="#0000f8"/><stop offset=".019" stop-color="#00f"/><stop offset=".05" stop-color="#000cff"/><stop offset=".1" stop-color="#001fff"/><stop offset=".15" stop-color="#0032ff"/><stop offset=".2" stop-color="#0047ff"/><stop offset=".25" stop-color="#005cff"/><stop offset=".3" stop-color="#0071ff"/><stop offset=".35" stop-color="#08f"/><stop offset=".4" stop-color="#009eff"/><stop offset=".45" stop-color="#00b6ff"/><stop offset=".5" stop-color="#00ceff"/><stop offset=".55" stop-color="#00e7ff"/><stop offset=".599" stop-color="#0ff"/><stop offset=".6" stop-color="#01fffe"/><stop offset=".65" stop-color="#1bffe4"/><stop offset=".7" stop-color="#35ffca"/><stop offset=".75" stop-color="#50ffaf"/><stop offset=".8" stop-color="#6bff94"/><stop offset=".85" stop-color="#87ff78"/><stop offset=".9" stop-color="#a4ff5b"/><stop offset=".95" stop-color="#c1ff3e"/><stop offset="1" stop-color="#dfff20"/></linearGradient>
<linearGradient id="g125"><stop offset="0" stop-color="#0000f7"/><stop offset=".022" stop-color="#00f"/><stop offset=".05" stop-color="#000aff"/><stop offset=".1" stop-color="#001dff"/><stop offset=".15" stop-color="#0031ff"/><stop offset=".2" stop-color="#0045ff"/><stop offset=".25" stop-color="#005aff"/><stop offset=".3" stop-color="#0070ff"/><stop offset=".35" stop-color="#0086ff"/><stop offset=".4" stop-color="#009dff"/><stop offset=".45" stop-color="#00b4ff"/><stop offset=".5" stop-color="#0cf"/><stop offset=".55" stop-color="#00e4ff"/><stop offset=".6" stop-color="#00feff"/><stop offset=".603" stop-color="#0ff"/><stop offset=".65" stop-color="#18ffe7"/><stop offset=".7" stop-color="#32ffcd"/><stop offset=".75" stop-color="#4dffb2"/><stop offset=".8" stop-color="#69ff96"/><stop offset=".85" stop-color="#84ff7b"/><stop offset=".9" stop-color="#a1ff5e"/><stop offset=".95" stop-color="#beff41"/><stop offset="1" stop-color="#dbff24"/></linearGradient>
<linearGradient id="g126"><stop offset="0" stop-color="#0000f6"/><stop offset=".025" stop-color="#00f"/><stop offset=".05" stop-color="#0009ff"/><stop offset=".1" stop-color="#001cff"/><stop offset=".15" stop-color="#0030ff"/><stop offset=".2" stop-color="#04f"/><stop offset=".25" stop-color="#0059ff"/><stop offset=".3" stop-color="#006eff"/><stop offset=".35" stop-color="#0084ff"/><stop offset=".4" stop-color="#009bff"/><stop offset=".45" stop-color="#00b2ff"/><stop offset=".5" stop-color="#00caff"/><stop offset=".55" stop-color="#00e2ff"/><stop offset=".6" stop-color="#00fbff"/><stop offset=".607" stop-color="#0ff"/><stop offset=".65" stop-color="#16ffe9"/><stop offset=".7" stop-color="#30ffcf"/><stop offset=".75" stop-color="#4bffb4"/><stop offset=".8" stop-color="#6f9"/><stop offset=".85" stop-color="#82ff7d"/><stop offset=".9" stop-color="#9eff61"/><stop offset=".95" stop-color="#bf4"/><stop offset="1" stop-color="#d8ff27"/></linearGradient>
<linearGradient id="g127"><stop offset="0" stop-color="#0000f5"/><stop offset=".027" stop-color="#00f"/><stop offset=".05" stop-color="#0008ff"/><stop offset=".1" stop-color="#001bff"/><stop offset=".15" stop-color="#002fff"/><stop offset=".2" stop-color="#0043ff"/><stop offset=".25" stop-color="#0057ff"/><stop offset=".3" stop-color="#006dff"/><stop offset=".35" stop-color="#0083ff"/><stop offset=".4" stop-color="#09f"/><stop offset=".45" stop-color="#00b0ff"/><stop offset=".5" stop-color="#00c8ff"/><stop offset=".55" stop-color="#00e0ff"/><stop offset=".6" stop-color="#00f9ff"/><stop offset=".612" stop-color="#0ff"/><stop offset=".65" stop-color="#13ffec"/><stop offset=".7" stop-color="#2dffd2"/><stop offset=".75" stop-color="#48ffb7"/><stop offset=".8" stop-color="#63ff9c"/><stop offset=".85" stop-color="#7fff80"/><stop offset=".9" stop-color="#9bff64"/><stop offset=".95" stop-color="#b8ff47"/><stop offset="1" stop-color="#d5ff2a"/></linearGradient>
<linearGradient id="g128"><stop offset="0" stop-color="#0000f4"/><stop offset=".03" stop-color="#00f"/><stop offset=".05" stop-color="#0007ff"/><stop offset=".1" stop-color="#001aff"/><stop offset=".15" stop-color="#002dff"/><stop offset=".2" stop-color="#0041ff"/><stop offset=".25" stop-color="#0056ff"/><stop offset=".3" stop-color="#006bff"/><stop offset=".35" stop-color="#0081ff"/><stop offset=".4" stop-color="#0097ff"/><stop offset=".45" stop-color="#00aeff"/><stop offset=".5" stop-color="#00c6ff"/><stop offset=".55" stop-color="#00deff"/><stop offset=".6" stop-color="#00f7ff"/><stop offset=".616" stop-color="#0ff"/><stop offset=".65" stop-color="#1fe"/><stop offset=".7" stop-color="#2bffd4"/><stop offset=".75" stop-color="#45ffba"/><stop offset=".8" stop-color="#60ff9f"/><stop offset=".85" stop-color="#7cff83"/><stop offset=".9" stop-color="#98ff67"/><stop offset=".95" stop-color="#b4ff4b"/><stop offset="1" stop-color="#d2ff2d"/></linearGradient>
<linearGradient id="g129"><stop offset="0" stop-color="#0000f3"/><stop offset=".033" stop-color="#00f"/><stop offset=".05" stop-color="#0006ff"/><stop offset=".1" stop-color="#0019ff"/><stop offset=".15" stop-color="#002cff"/><stop offset=".2" stop-color="#0040ff"/><stop offset=".25" stop-color="#05f"/><stop offset=".3" stop-color="#006aff"/><stop offset=".35" stop-color="#007fff"/><stop offset=".4" stop-color="#0096ff"/><stop offset=".45" stop-color="#00adff"/><stop offset=".5" stop-color="#00c4ff"/><stop offset=".55" stop-color="#00dcff"/><stop offset=".6" stop-color="#00f5ff"/><stop offset=".621" stop-color="#0ff"/><stop offset=".65" stop-color="#0ffff0"/><stop offset=".7" stop-color="#29ffd6"/><stop offset=".75" stop-color="#43ffbc"/><stop offset=".8" stop-color="#5effa1"/><stop offset=".85" stop-color="#79ff86"/><stop offset=".9" stop-color="#95ff6a"/><stop offset=".95" stop-color="#b1ff4e"/><stop offset="1" stop-color="#ceff31"/></linearGradient>
<linearGradient id="g130"><stop offset="0" stop-color="#0000f2"/><stop offset=".036" stop-color="#00f"/><stop offset=".05" stop-color="#0005ff"/><stop offset=".1" stop-color="#0018ff"/><stop offset=".15" stop-color="#002bff"/><stop offset=".2" stop-color="#003fff"/><stop offset=".25" stop-color="#0053ff"/><stop offset=".3" stop-color="#0068ff"/><stop offset=".35" stop-color="#007eff"/><stop offset=".4" stop-color="#0094ff"/><stop offset=".45" stop-color="#00abff"/><stop offset=".5" stop-color="#00c2ff"/><stop offset=".55" stop-color="#00daff"/><stop offset=".6" stop-color="#00f2ff"/><stop offset=".625" stop-color="#0ff"/><stop offset=".65" stop-color="#0cfff3"/><stop offset=".7" stop-color="#26ffd9"/><stop offset=".75" stop-color="#40ffbf"/><stop offset=".8" stop-color="#5bffa4"/><stop offset=".85" stop-color="#76ff89"/><stop offset=".9" stop-color="#92ff6d"/><stop offset=".95" stop-color="#aeff51"/><stop offset="1" stop-color="#cbff34"/></linearGradient>
<linearGradient id="g131"><stop offset="0" stop-color="#0000f1"/><stop offset=".039" stop-color="#00f"/><stop offset=".05" stop-color="#0004ff"/><stop offset=".1" stop-color="#0016ff"/><stop offset=".15" stop-color="#002aff"/><stop offset=".2" stop-color="#003dff"/><stop offset=".25" stop-color="#0052ff"/><stop offset=".3" stop-color="#0067ff"/><stop offset=".35" stop-color="#007cff"/><stop offset=".4" stop-color="#0092ff"/><stop offset=".45" stop-color="#00a9ff"/><stop offset=".5" stop-color="#00c0ff"/><stop offset=".55" stop-color="#00d8ff"/><stop offset=".6" stop-color="#00f0ff"/><stop offset=".63" stop-color="#0ff"/><stop offset=".65" stop-color="#0afff5"/><stop offset=".7" stop-color="#24ffdb"/><stop offset=".75" stop-color="#3effc1"/><stop offset=".8" stop-color="#58ffa7"/><stop offset=".85" stop-color="#73ff8c"/><stop offset=".9" stop-color="#8fff70"/><stop offset=".95" stop-color="#abff54"/><stop offset="1" stop-color="#c8ff37"/></linearGradient>
<linearGradient id="g132"><stop offset="0" stop-color="#0000f0"/><stop offset=".042" stop-color="#00f"/><stop offset=".05" stop-color="#0003ff"/><stop offset=".1" stop-color="#0015ff"/><stop offset=".15" stop-color="#0028ff"/><stop offset=".2" stop-color="#003cff"/><stop offset=".25" stop-color="#0050ff"/><stop offset=".3" stop-color="#0065ff"/><stop offset=".35" stop-color="#007aff"/><stop offset=".4" stop-color="#0090ff"/><stop offset=".45" stop-color="#00a7ff"/><stop offset=".5" stop-color="#00beff"/><stop offset=".55" stop-color="#00d6ff"/><stop offset=".6" stop-color="#0ef"/><stop offset=".634" stop-color="#0ff"/><stop offset=".65" stop-color="#08fff7"/><stop offset=".7" stop-color="#21ffde"/><stop offset=".75" stop-color="#3bffc4"/><stop offset=".8" stop-color="#5fa"/><stop offset=".85" stop-color="#70ff8f"/><stop offset=".9" stop-color="#8cff73"/><stop offset=".95" stop-color="#a8ff57"/><stop offset="1" stop-color="#c5ff3a"/></linearGradient>
<linearGradient id="g133"><stop offset="0" stop-color="#0000ef"/><stop offset=".045" stop-color="#00f"/><stop offset=".05" stop-color="#0002ff"/><stop offset=".1" stop-color="#0014ff"/><stop offset=".15" stop-color="#0027ff"/><stop offset=".2" stop-color="#003bff"/><stop offset=".25" stop-color="#004fff"/><stop offset=".3" stop-color="#0063ff"/><stop offset=".35" stop-color="#0079ff"/><stop offset=".4" stop-color="#008fff"/><stop offset=".45" stop-color="#00a5ff"/><stop offset=".5" stop-color="#00bcff"/><stop offset=".55" stop-color="#00d4ff"/><stop offset=".6" stop-color="#00ecff"/><stop offset=".639" stop-color="#0ff"/><stop offset=".65" stop-color="#05fffa"/><stop offset=".7" stop-color="#1fffe0"/><stop offset=".75" stop-color="#38ffc7"/><stop offset=".8" stop-color="#53ffac"/><stop offset=".85" stop-color="#6eff91"/><stop offset=".9" stop-color="#89ff76"/><stop offset=".95" stop-color="#a5ff5a"/><stop offset="1" stop-color="#c1ff3e"/></linearGradient>
<linearGradient id="g134"><stop offset="0" stop-color="#00e"/><stop offset=".048" stop-color="#00f"/><stop offset=".05" stop-color="#0001ff"/><stop offset=".1" stop-color="#0013ff"/><stop offset=".15" stop-color="#0026ff"/><stop offset=".2" stop-color="#0039ff"/><stop offset=".25" stop-color="#004dff"/><stop offset=".3" stop-color="#0062ff"/><stop offset=".35" stop-color="#07f"/><stop offset=".4" stop-color="#008dff"/><stop offset=".45" stop-color="#00a3ff"/><stop offset=".5" stop-color="#00baff"/><stop offset=".55" stop-color="#00d2ff"/><stop offset=".6" stop-color="#00eaff"/><stop offset=".644" stop-color="#0ff"/><stop offset=".65" stop-color="#03fffc"/><stop offset=".7" stop-color="#1cffe3"/><stop offset=".75" stop-color="#36ffc9"/><stop offset=".8" stop-color="#50ffaf"/><stop offset=".85" stop-color="#6bff94"/><stop offset=".9" stop-color="#86ff79"/><stop offset=".95" stop-color="#a2ff5d"/><stop offset="1" stop-color="#beff41"/></linearGradient>
<linearGradient id="g135"><stop offset="0" stop-color="#0000ed"/><stop offset=".05" stop-color="#00f"/><stop offset=".051" stop-color="#00f"/><stop offset=".1" stop-color="#0012ff"/><stop offset=".15" stop-color="#0025ff"/><stop offset=".2" stop-color="#0038ff"/><stop offset=".25" stop-color="#004cff"/><stop offset=".3" stop-color="#0060ff"/><stop offset=".35" stop-color="#0075ff"/><stop offset=".4" stop-color="#008bff"/><stop offset=".45" stop-color="#00a1ff"/><stop offset=".5" stop-color="#00b8ff"/><stop offset=".55" stop-color="#00cfff"/><stop offset=".6" stop-color="#00e7ff"/><stop offset=".648" stop-color="#0ff"/><stop offset=".65" stop-color="#01fffe"/><stop offset=".7" stop-color="#1affe5"/><stop offset=".75" stop-color="#3fc"/><stop offset=".8" stop-color="#4dffb2"/><stop offset=".85" stop-color="#68ff97"/><stop offset=".9" stop-color="#83ff7c"/><stop offset=".95" stop-color="#9fff60"/><stop offset="1" stop-color="#bf4"/></linearGradient>
<linearGradient id="g136"><stop offset="0" stop-color="#0000ec"/><stop offset=".05" stop-color="#0000fe"/><stop offset=".054" stop-color="#00f"/><stop offset=".1" stop-color="#01f"/><stop offset=".15" stop-color="#0023ff"/><stop offset=".2" stop-color="#0037ff"/><stop offset=".25" stop-color="#004aff"/><stop offset=".3" stop-color="#005fff"/><stop offset=".35" stop-color="#0074ff"/><stop offset=".4" stop-color="#0089ff"/><stop offset=".45" stop-color="#009fff"/><stop offset=".5" stop-color="#00b6ff"/><stop offset=".55" stop-color="#00cdff"/><stop offset=".6" stop-color="#00e5ff"/><stop offset=".65" stop-color="#00fdff"/><stop offset=".653" stop-color="#0ff"/><stop offset=".7" stop-color="#17ffe8"/><stop offset=".75" stop-color="#31ffce"/><stop offset=".8" stop-color="#4bffb4"/><stop offset=".85" stop-color="#65ff9a"/><stop offset=".9" stop-color="#80ff7f"/><stop offset=".95" stop-color="#9cff63"/><stop offset="1" stop-color="#b8ff47"/></linearGradient>
<linearGradient id="g137"><stop offset="0" stop-color="#0000eb"/><stop offset=".05" stop-color="#0000fd"/><stop offset=".057" stop-color="#00f"/><stop offset=".1" stop-color="#0010ff"/><stop offset=".15" stop-color="#02f"/><stop offset=".2" stop-color="#0035ff"/><stop offset=".25" stop-color="#0049ff"/><stop offset=".3" stop-color="#005dff"/><stop offset=".35" stop-color="#0072ff"/><stop offset=".4" stop-color="#08f"/><stop offset=".45" stop-color="#009eff"/><stop offset=".5" stop-color="#00b4ff"/><stop offset=".55" stop-color="#00cbff"/><stop offset=".6" stop-color="#00e3ff"/><stop offset=".65" stop-color="#00fbff"/><stop offset=".658" stop-color="#0ff"/><stop offset=".7" stop-color="#15ffea"/><stop offset=".75" stop-color="#2effd1"/><stop offset=".8" stop-color="#48ffb7"/><stop offset=".85" stop-color="#62ff9d"/><stop offset=".9" stop-color="#7dff82"/><stop offset=".95" stop-color="#98ff67"/><stop offset="1" stop-color="#b4ff4b"/></linearGradient>
<linearGradient id="g138"><stop offset="0" stop-color="#0000ea"/><stop offset=".05" stop-color="#0000fb"/><stop offset=".06" stop-color="#00f"/><stop offset=".1" stop-color="#000eff"/><stop offset=".15" stop-color="#0021ff"/><stop offset=".2" stop-color="#0034ff"/><stop offset=".25" stop-color="#0047ff"/><stop offset=".3" stop-color="#005cff"/><stop offset=".35" stop-color="#0070ff"/><stop offset=".4" stop-color="#0086ff"/><stop offset=".45" stop-color="#009cff"/><stop offset=".5" stop-color="#00b2ff"/><stop offset=".55" stop-color="#00c9ff"/><stop offset=".6" stop-color="#00e1ff"/><stop offset=".65" stop-color="#00f9ff"/><stop offset=".663" stop-color="#0ff"/><stop offset=".7" stop-color="#12ffed"/><stop offset=".75" stop-color="#2cffd3"/><stop offset=".8" stop-color="#45ffba"/><stop offset=".85" stop-color="#5fffa0"/><stop offset=".9" stop-color="#7aff85"/><stop offset=".95" stop-color="#95ff6a"/><stop offset="1" stop-color="#b1ff4e"/></linearGradient>
<linearGradient id="g139"><stop offset="0" stop-color="#0000e9"/><stop offset=".05" stop-color="#0000fa"/><stop offset=".063" stop-color="#00f"/><stop offset=".1" stop-color="#000dff"/><stop offset=".15" stop-color="#0020ff"/><stop offset=".2" stop-color="#03f"/><stop offset=".25" stop-color="#0046ff"/><stop offset=".3" stop-color="#005aff"/><stop offset=".35" stop-color="#006fff"/><stop offset=".4" stop-color="#0084ff"/><stop offset=".45" stop-color="#009aff"/><stop offset=".5" stop-color="#00b0ff"/><stop offset=".55" stop-color="#00c7ff"/><stop offset=".6" stop-color="#00deff"/><stop offset=".65" stop-color="#00f6ff"/><stop offset=".668" stop-color="#0ff"/><stop offset=".7" stop-color="#10ffef"/><stop offset=".75" stop-color="#29ffd6"/><stop offset=".8" stop-color="#42ffbd"/><stop offset=".85" stop-color="#5dffa2"/><stop offset=".9" stop-color="#7f8"/><stop offset=".95" stop-color="#92ff6d"/><stop offset="1" stop-color="#aeff51"/></linearGradient>
<linearGradient id="g140"><stop offset="0" stop-color="#0000e8"/><stop offset=".05" stop-color="#0000f9"/><stop offset=".066" stop-color="#00f"/><stop offset=".1" stop-color="#000cff"/><stop offset=".15" stop-color="#001eff"/><stop offset=".2" stop-color="#0031ff"/><stop offset=".25" stop-color="#0045ff"/><stop offset=".3" stop-color="#0059ff"/><stop offset=".35" stop-color="#006dff"/><stop offset=".4" stop-color="#0082ff"/><stop offset=".45" stop-color="#0098ff"/><stop offset=".5" stop-color="#00aeff"/><stop offset=".55" stop-color="#00c5ff"/><stop offset=".6" stop-color="#00dcff"/><stop offset=".65" stop-color="#00f4ff"/><stop offset=".672" stop-color="#0ff"/><stop offset=".7" stop-color="#0dfff2"/><stop offset=".75" stop-color="#26ffd9"/><stop offset=".8" stop-color="#40ffbf"/><stop offset=".85" stop-color="#5affa5"/><stop offset=".9" stop-color="#74ff8b"/><stop offset=".95" stop-color="#8fff70"/><stop offset="1" stop-color="#abff54"/></linearGradient>
<linearGradient id="g141"><stop offset="0" stop-color="#0000e7"/><stop offset=".05" stop-color="#0000f8"/><stop offset=".069" stop-color="#00f"/><stop offset=".1" stop-color="#000bff"/><stop offset=".15" stop-color="#001dff"/><stop offset=".2" stop-color="#0030ff"/><stop offset=".25" stop-color="#0043ff"/><stop offset=".3" stop-color="#0057ff"/><stop offset=".35" stop-color="#006cff"/><stop offset=".4" stop-color="#0081ff"/><stop offset=".45" stop-color="#0096ff"/><stop offset=".5" stop-color="#00acff"/><stop offset=".55" stop-color="#00c3ff"/><stop offset=".6" stop-color="#00daff"/><stop offset=".65" stop-color="#00f2ff"/><stop offset=".677" stop-color="#0ff"/><stop offset=".7" stop-color="#0bfff4"/><stop offset=".75" stop-color="#24ffdb"/><stop offset=".8" stop-color="#3dffc2"/><stop offset=".85" stop-color="#57ffa8"/><stop offset=".9" stop-color="#71ff8e"/><stop offset=".95" stop-color="#8cff73"/><stop offset="1" stop-color="#a7ff58"/></linearGradient>
<linearGradient id="g142"><stop offset="0" stop-color="#0000e6"/><stop offset=".05" stop-color="#0000f7"/><stop offset=".072" stop-color="#00f"/><stop offset=".1" stop-color="#000aff"/><stop offset=".15" stop-color="#001cff"/><stop offset=".2" stop-color="#002eff"/><stop offset=".25" stop-color="#0042ff"/><stop offset=".3" stop-color="#0056ff"/><stop offset=".35" stop-color="#006aff"/><stop offset=".4" stop-color="#007fff"/><stop offset=".45" stop-color="#0094ff"/><stop offset=".5" stop-color="#0af"/><stop offset=".55" stop-color="#00c1ff"/><stop offset=".6" stop-color="#00d8ff"/><stop offset=".65" stop-color="#00efff"/><stop offset=".682" stop-color="#0ff"/><stop offset=".7" stop-color="#09fff6"/><stop offset=".75" stop-color="#21ffde"/><stop offset=".8" stop-color="#3affc5"/><stop offset=".85" stop-color="#54ffab"/><stop offset=".9" stop-color="#6eff91"/><stop offset=".95" stop-color="#89ff76"/><stop offset="1" stop-color="#a4ff5b"/></linearGradient>
<linearGradient id="g143"><stop offset="0" stop-color="#0000e5"/><stop offset=".05" stop-color="#0000f6"/><stop offset=".076" stop-color="#00f"/><stop offset=".1" stop-color="#0009ff"/><stop offset=".15" stop-color="#001bff"/><stop offset=".2" stop-color="#002dff"/><stop offset=".25" stop-color="#0040ff"/><stop offset=".3" stop-color="#0054ff"/><stop offset=".35" stop-color="#0068ff"/><stop offset=".4" stop-color="#007dff"/><stop offset=".45" stop-color="#0092ff"/><stop offset=".5" stop-color="#00a8ff"/><stop offset=".55" stop-color="#00bfff"/><stop offset=".6" stop-color="#00d6ff"/><stop offset=".65" stop-color="#00edff"/><stop offset=".687" stop-color="#0ff"/><stop offset=".7" stop-color="#06fff9"/><stop offset=".75" stop-color="#1fffe0"/><stop offset=".8" stop-color="#38ffc7"/><stop offset=".85" stop-color="#51ffae"/><stop offset=".9" stop-color="#6bff94"/><stop offset=".95" stop-color="#86ff79"/><stop offset="1" stop-color="#a1ff5e"/></linearGradient>
<linearGradient id="g144"><stop offset="0" stop-color="#0000e4"/><stop offset=".05" stop-color="#0000f5"/><stop offset=".079" stop-color="#00f"/><stop offset=".1" stop-color="#0007ff"/><stop offset=".15" stop-color="#0019ff"/><stop offset=".2" stop-color="#002cff"/><stop offset=".25" stop-color="#003fff"/><stop offset=".3" stop-color="#0052ff"/><stop offset=".35" stop-color="#0067ff"/><stop offset=".4" stop-color="#007bff"/><stop offset=".45" stop-color="#0091ff"/><stop offset=".5" stop-color="#00a6ff"/><stop offset=".55" stop-color="#00bdff"/><stop offset=".6" stop-color="#00d3ff"/><stop offset=".65" stop-color="#00ebff"/><stop offset=".692" stop-color="#0ff"/><stop offset=".7" stop-color="#04fffb"/><stop offset=".75" stop-color="#1cffe3"/><stop offset=".8" stop-color="#35ffca"/><stop offset=".85" stop-color="#4effb1"/><stop offset=".9" stop-color="#68ff97"/><stop offset=".95" stop-color="#83ff7c"/><stop offset="1" stop-color="#9eff61"/></linearGradient>
<linearGradient id="g145"><stop offset="0" stop-color="#0000e3"/><stop offset=".05" stop-color="#0000f4"/><stop offset=".082" stop-color="#00f"/><stop offset=".1" stop-color="#0006ff"/><stop offset=".15" stop-color="#0018ff"/><stop offset=".2" stop-color="#002aff"/><stop offset=".25" stop-color="#003dff"/><stop offset=".3" stop-color="#0051ff"/><stop offset=".35" stop-color="#0065ff"/><stop offset=".4" stop-color="#007aff"/><stop offset=".45" stop-color="#008fff"/><stop offset=".5" stop-color="#00a4ff"/><stop offset=".55" stop-color="#0bf"/><stop offset=".6" stop-color="#00d1ff"/><stop offset=".65" stop-color="#00e8ff"/><stop offset=".697" stop-color="#0ff"/><stop offset=".7" stop-color="#01fffe"/><stop offset=".75" stop-color="#1affe5"/><stop offset=".8" stop-color="#32ffcd"/><stop offset=".85" stop-color="#4cffb3"/><stop offset=".9" stop-color="#65ff9a"/><stop offset=".95" stop-color="#80ff7f"/><stop offset="1" stop-color="#9aff65"/></linearGradient>
<linearGradient id="g146"><stop offset="0" stop-color="#0000e2"/><stop offset=".05" stop-color="#0000f3"/><stop offset=".085" stop-color="#00f"/><stop offset=".1" stop-color="#0005ff"/><stop offset=".15" stop-color="#0017ff"/><stop offset=".2" stop-color="#0029ff"/><stop offset=".25" stop-color="#003cff"/><stop offset=".3" stop-color="#004fff"/><stop offset=".35" stop-color="#0063ff"/><stop offset=".4" stop-color="#0078ff"/><stop offset=".45" stop-color="#008dff"/><stop offset=".5" stop-color="#00a2ff"/><stop offset=".55" stop-color="#00b8ff"/><stop offset=".6" stop-color="#00cfff"/><stop offset=".65" stop-color="#00e6ff"/><stop offset=".7" stop-color="#00feff"/><stop offset=".703" stop-color="#0ff"/><stop offset=".75" stop-color="#17ffe8"/><stop offset=".8" stop-color="#30ffcf"/><stop offset=".85" stop-color="#49ffb6"/><stop offset=".9" stop-color="#62ff9d"/><stop offset=".95" stop-color="#7cff83"/><stop offset="1" stop-color="#97ff68"/></linearGradient>
<linearGradient id="g147"><stop offset="0" stop-color="#0000e1"/><stop offset=".05" stop-color="#0000f2"/><stop offset=".089" stop-color="#00f"/><stop offset=".1" stop-color="#0004ff"/><stop offset=".15" stop-color="#0016ff"/><stop offset=".2" stop-color="#0028ff"/><stop offset=".25" stop-color="#003bff"/><stop offset=".3" stop-color="#004eff"/><stop offset=".35" stop-color="#0062ff"/><stop offset=".4" stop-color="#0076ff"/><stop offset=".45" stop-color="#008bff"/><stop offset=".5" stop-color="#00a0ff"/><stop offset=".55" stop-color="#00b6ff"/><stop offset=".6" stop-color="#00cdff"/><stop offset=".65" stop-color="#00e4ff"/><stop offset=".7" stop-color="#00fbff"/><stop offset=".708" stop-color="#0ff"/><stop offset=".75" stop-color="#14ffeb"/><stop offset=".8" stop-color="#2dffd2"/><stop offset=".85" stop-color="#46ffb9"/><stop offset=".9" stop-color="#5fffa0"/><stop offset=".95" stop-color="#79ff86"/><stop offset="1" stop-color="#94ff6b"/></linearGradient>
<linearGradient id="g148"><stop offset="0" stop-color="#0000e0"/><stop offset=".05" stop-color="#0000f1"/><stop offset=".092" stop-color="#00f"/><stop offset=".1" stop-color="#0003ff"/><stop offset=".15" stop-color="#0014ff"/><stop offset=".2" stop-color="#0026ff"/><stop offset=".25" stop-color="#0039ff"/><stop offset=".3" stop-color="#004cff"/><stop offset=".35" stop-color="#0060ff"/><stop offset=".4" stop-color="#0074ff"/><stop offset=".45" stop-color="#0089ff"/><stop offset=".5" stop-color="#009eff"/><stop offset=".55" stop-color="#00b4ff"/><stop offset=".6" stop-color="#00cbff"/><stop offset=".65" stop-color="#00e2ff"/><stop offset=".7" stop-color="#00f9ff"/><stop offset=".713" stop-color="#0ff"/><stop offset=".75" stop-color="#12ffed"/><stop offset=".8" stop-color="#2affd5"/><stop offset=".85" stop-color="#43ffbc"/><stop offset=".9" stop-color="#5cffa3"/><stop offset=".95" stop-color="#76ff89"/><stop offset="1" stop-color="#91ff6e"/></linearGradient>
<linearGradient id="g149"><stop offset="0" stop-color="#0000df"/><stop offset=".05" stop-color="#0000f0"/><stop offset=".095" stop-color="#00f"/><stop offset=".1" stop-color="#0002ff"/><stop offset=".15" stop-color="#0013ff"/><stop offset=".2" stop-color="#0025ff"/><stop offset=".25" stop-color="#0038ff"/><stop offset=".3" stop-color="#004bff"/><stop offset=".35" stop-color="#005eff"/><stop offset=".4" stop-color="#0073ff"/><stop offset=".45" stop-color="#0087ff"/><stop offset=".5" stop-color="#009cff"/><stop offset=".55" stop-color="#00b2ff"/><stop offset=".6" stop-color="#00c8ff"/><stop offset=".65" stop-color="#00dfff"/><stop offset=".7" stop-color="#00f6ff"/><stop offset=".718" stop-color="#0ff"/><stop offset=".75" stop-color="#0ffff0"/><stop offset=".8" stop-color="#27ffd8"/><stop offset=".85" stop-color="#40ffbf"/><stop offset=".9" stop-color="#59ffa6"/><stop offset=".95" stop-color="#73ff8c"/><stop offset="1" stop-color="#8dff72"/></linearGradient>
<linearGradient id="g150"><stop offset="0" stop-color="#0000de"/><stop offset=".05" stop-color="#0000ef"/><stop offset=".099" stop-color="#00f"/><stop offset=".1" stop-color="#00f"/><stop offset=".15" stop-color="#0012ff"/><stop offset=".2" stop-color="#0024ff"/><stop offset=".25" stop-color="#0036ff"/><stop offset=".3" stop-color="#0049ff"/><stop offset=".35" stop-color="#005dff"/><stop offset=".4" stop-color="#0071ff"/><stop offset=".45" stop-color="#0085ff"/><stop offset=".5" stop-color="#009aff"/><stop offset=".55" stop-color="#00b0ff"/><stop offset=".6" stop-color="#00c6ff"/><stop offset=".65" stop-color="#0df"/><stop offset=".7" stop-color="#00f4ff"/><stop offset=".723" stop-color="#0ff"/><stop offset=".75" stop-color="#0dfff2"/><stop offset=".8" stop-color="#25ffda"/><stop offset=".85" stop-color="#3dffc2"/><stop offset=".9" stop-color="#57ffa8"/><stop offset=".95" stop-color="#70ff8f"/><stop offset="1" stop-color="#8aff75"/></linearGradient>
<linearGradient id="g151"><stop offset="0" stop-color="#00d"/><stop offset=".05" stop-color="#00e"/><stop offset=".1" stop-color="#0000fe"/><stop offset=".102" stop-color="#00f"/><stop offset=".15" stop-color="#01f"/><stop offset=".2" stop-color="#02f"/><stop offset=".25" stop-color="#0035ff"/><stop offset=".3" stop-color="#0048ff"/><stop offset=".35" stop-color="#005bff"/><stop offset=".4" stop-color="#006fff"/><stop offset=".45" stop-color="#0084ff"/><stop offset=".5" stop-color="#09f"/><stop offset=".55" stop-color="#00aeff"/><stop offset=".6" stop-color="#00c4ff"/><stop offset=".65" stop-color="#00dbff"/><stop offset=".7" stop-color="#00f2ff"/><stop offset=".729" stop-color="#0ff"/><stop offset=".75" stop-color="#0afff5"/><stop offset=".8" stop-color="#2fd"/><stop offset=".85" stop-color="#3bffc4"/><stop offset=".9" stop-color="#54ffab"/><stop offset=".95" stop-color="#6dff92"/><stop offset="1" stop-color="#87ff78"/></linearGradient>
<linearGradient id="g152"><stop offset="0" stop-color="#00d"/><stop offset=".05" stop-color="#0000ed"/><stop offset=".1" stop-color="#0000fd"/><stop offset=".105" stop-color="#00f"/><stop offset=".15" stop-color="#000fff"/><stop offset=".2" stop-color="#0021ff"/><stop offset=".25" stop-color="#03f"/><stop offset=".3" stop-color="#0046ff"/><stop offset=".35" stop-color="#0059ff"/><stop offset=".4" stop-color="#006dff"/><stop offset=".45" stop-color="#0082ff"/><stop offset=".5" stop-color="#0097ff"/><stop offset=".55" stop-color="#00acff"/><stop offset=".6" stop-color="#00c2ff"/><stop offset=".65" stop-color="#00d8ff"/><stop offset=".7" stop-color="#00efff"/><stop offset=".734" stop-color="#0ff"/><stop offset=".75" stop-color="#08fff7"/><stop offset=".8" stop-color="#1fffe0"/><stop offset=".85" stop-color="#38ffc7"/><stop offset=".9" stop-color="#51ffae"/><stop offset=".95" stop-color="#6aff95"/><stop offset="1" stop-color="#84ff7b"/></linearGradient>
<linearGradient id="g153"><stop offset="0" stop-color="#0000dc"/><stop offset=".05" stop-color="#0000ec"/><stop offset=".1" stop-color="#0000fc"/><stop offset=".109" stop-color="#00f"/><stop offset=".15" stop-color="#000eff"/><stop offset=".2" stop-color="#0020ff"/><stop offset=".25" stop-color="#0032ff"/><stop offset=".3" stop-color="#0045ff"/><stop offset=".35" stop-color="#0058ff"/><stop offset=".4" stop-color="#006cff"/><stop offset=".45" stop-color="#0080ff"/><stop offset=".5" stop-color="#0095ff"/><stop offset=".55" stop-color="#0af"/><stop offset=".6" stop-color="#00c0ff"/><stop offset=".65" stop-color="#00d6ff"/><stop offset=".7" stop-color="#00edff"/><stop offset=".739" stop-color="#0ff"/><stop offset=".75" stop-color="#05fffa"/><stop offset=".8" stop-color="#1dffe2"/><stop offset=".85" stop-color="#35ffca"/><stop offset=".9" stop-color="#4effb1"/><stop offset=".95" stop-color="#67ff98"/><stop offset="1" stop-color="#81ff7e"/></linearGradient>
<linearGradient id="g154"><stop offset="0" stop-color="#0000db"/><stop offset=".05" stop-color="#0000ea"/><stop offset=".1" stop-color="#0000fb"/><stop offset=".112" stop-color="#00f"/><stop offset=".15" stop-color="#000dff"/><stop offset=".2" stop-color="#001eff"/><stop offset=".25" stop-color="#0030ff"/><stop offset=".3" stop-color="#0043ff"/><stop offset=".35" stop-color="#0056ff"/><stop offset=".4" stop-color="#006aff"/><stop offset=".45" stop-color="#007eff"/><stop offset=".5" stop-color="#0093ff"/><stop offset=".55" stop-color="#00a8ff"/><stop offset=".6" stop-color="#00bdff"/><stop offset=".65" stop-color="#00d4ff"/><stop offset=".7" stop-color="#00eaff"/><stop offset=".745" stop-color="#0ff"/><stop offset=".75" stop-color="#02fffd"/><stop offset=".8" stop-color="#1affe5"/><stop offset=".85" stop-color="#32ffcd"/><stop offset=".9" stop-color="#4bffb4"/><stop offset=".95" stop-color="#64ff9b"/><stop offset="1" stop-color="#7dff82"/></linearGradient>
<linearGradient id="g155"><stop offset="0" stop-color="#0000da"/><stop offset=".05" stop-color="#0000e9"/><stop offset=".1" stop-color="#0000fa"/><stop offset=".116" stop-color="#00f"/><stop offset=".15" stop-color="#000cff"/><stop offset=".2" stop-color="#001dff"/><stop offset=".25" stop-color="#002fff"/><stop offset=".3" stop-color="#0042ff"/><stop offset=".35" stop-color="#05f"/><stop offset=".4" stop-color="#0068ff"/><stop offset=".45" stop-color="#007cff"/><stop offset=".5" stop-color="#0091ff"/><stop offset=".55" stop-color="#00a6ff"/><stop offset=".6" stop-color="#0bf"/><stop offset=".65" stop-color="#00d1ff"/><stop offset=".7" stop-color="#00e8ff"/><stop offset=".75" stop-color="#0ff"/><stop offset=".8" stop-color="#17ffe8"/><stop offset=".85" stop-color="#2fffd0"/><stop offset=".9" stop-color="#48ffb7"/><stop offset=".95" stop-color="#61ff9e"/><stop offset="1" stop-color="#7aff85"/></linearGradient>
<linearGradient id="g156"><stop offset="0" stop-color="#0000d9"/><stop offset=".05" stop-color="#0000e8"/><stop offset=".1" stop-color="#0000f9"/><stop offset=".119" stop-color="#00f"/><stop offset=".15" stop-color="#000aff"/><stop offset=".2" stop-color="#001cff"/><stop offset=".25" stop-color="#002eff"/><stop offset=".3" stop-color="#0040ff"/><stop offset=".35" stop-color="#0053ff"/><stop offset=".4" stop-color="#06f"/><stop offset=".45" stop-color="#007aff"/><stop offset=".5" stop-color="#008fff"/><stop offset=".55" stop-color="#00a4ff"/><stop offset=".6" stop-color="#00b9ff"/><stop offset=".65" stop-color="#00cfff"/><stop offset=".7" stop-color="#00e5ff"/><stop offset=".75" stop-color="#00fcff"/><stop offset=".756" stop-color="#0ff"/><stop offset=".8" stop-color="#15ffea"/><stop offset=".85" stop-color="#2dffd2"/><stop offset=".9" stop-color="#45ffba"/><stop offset=".95" stop-color="#5effa1"/><stop offset="1" stop-color="#7f8"/></linearGradient>
<linearGradient id="g157"><stop offset="0" stop-color="#0000d8"/><stop offset=".05" stop-color="#0000e7"/><stop offset=".1" stop-color="#0000f7"/><stop offset=".123" stop-color="#00f"/><stop offset=".15" stop-color="#0009ff"/><stop offset=".2" stop-color="#001aff"/><stop offset=".25" stop-color="#002cff"/><stop offset=".3" stop-color="#003eff"/><stop offset=".35" stop-color="#0051ff"/><stop offset=".4" stop-color="#0065ff"/><stop offset=".45" stop-color="#0078ff"/><stop offset=".5" stop-color="#008dff"/><stop offset=".55" stop-color="#00a2ff"/><stop offset=".6" stop-color="#00b7ff"/><stop offset=".65" stop-color="#00cdff"/><stop offset=".7" stop-color="#00e3ff"/><stop offset=".75" stop-color="#00faff"/><stop offset=".761" stop-color="#0ff"/><stop offset=".8" stop-color="#12ffed"/><stop offset=".85" stop-color="#2affd5"/><stop offset=".9" stop-color="#42ffbd"/><stop offset=".95" stop-color="#5bffa4"/><stop offset="1" stop-color="#74ff8b"/></linearGradient>
<linearGradient id="g158"><stop offset="0" stop-color="#0000d7"/><stop offset=".05" stop-color="#0000e6"/><stop offset=".1" stop-color="#0000f6"/><stop offset=".126" stop-color="#00f"/><stop offset=".15" stop-color="#0008ff"/><stop offset=".2" stop-color="#0019ff"/><stop offset=".25" stop-color="#002bff"/><stop offset=".3" stop-color="#003dff"/><stop offset=".35" stop-color="#0050ff"/><stop offset=".4" stop-color="#0063ff"/><stop offset=".45" stop-color="#07f"/><stop offset=".5" stop-color="#008bff"/><stop offset=".55" stop-color="#00a0ff"/><stop offset=".6" stop-color="#00b5ff"/><stop offset=".65" stop-color="#00caff"/><stop offset=".7" stop-color="#00e1ff"/><stop offset=".75" stop-color="#00f7ff"/><stop offset=".767" stop-color="#0ff"/><stop offset=".8" stop-color="#0ffff0"/><stop offset=".85" stop-color="#27ffd8"/><stop offset=".9" stop-color="#3fffc0"/><stop offset=".95" stop-color="#57ffa8"/><stop offset="1" stop-color="#70ff8f"/></linearGradient>
<linearGradient id="g159"><stop offset="0" stop-color="#0000d6"/><stop offset=".05" stop-color="#0000e5"/><stop offset=".1" stop-color="#0000f5"/><stop offset=".13" stop-color="#00f"/><stop offset=".15" stop-color="#0007ff"/><stop offset=".2" stop-color="#0018ff"/><stop offset=".25" stop-color="#0029ff"/><stop offset=".3" stop-color="#003bff"/><stop offset=".35" stop-color="#004eff"/><stop offset=".4" stop-color="#0061ff"/><stop offset=".45" stop-color="#0075ff"/><stop offset=".5" stop-color="#0089ff"/><stop offset=".55" stop-color="#009dff"/><stop offset=".6" stop-color="#00b3ff"/><stop offset=".65" stop-color="#00c8ff"/><stop offset=".7" stop-color="#00deff"/><stop offset=".75" stop-color="#00f5ff"/><stop offset=".773" stop-color="#0ff"/><stop offset=".8" stop-color="#0dfff2"/><stop offset=".85" stop-color="#24ffdb"/><stop offset=".9" stop-color="#3cffc3"/><stop offset=".95" stop-color="#54ffab"/><stop offset="1" stop-color="#6dff92"/></linearGradient>
<linearGradient id="g160"><stop offset="0" stop-color="#0000d5"/><stop offset=".05" stop-color="#0000e4"/><stop offset=".1" stop-color="#0000f4"/><stop offset=".134" stop-color="#00f"/><stop offset=".15" stop-color="#0005ff"/><stop offset=".2" stop-color="#0016ff"/><stop offset=".25" stop-color="#0028ff"/><stop offset=".3" stop-color="#003aff"/><stop offset=".35" stop-color="#004cff"/><stop offset=".4" stop-color="#005fff"/><stop offset=".45" stop-color="#0073ff"/><stop offset=".5" stop-color="#0087ff"/><stop offset=".55" stop-color="#009bff"/><stop offset=".6" stop-color="#00b0ff"/><stop offset=".65" stop-color="#00c6ff"/><stop offset=".7" stop-color="#00dcff"/><stop offset=".75" stop-color="#00f2ff"/><stop offset=".778" stop-color="#0ff"/><stop offset=".8" stop-color="#0afff5"/><stop offset=".85" stop-color="#21ffde"/><stop offset=".9" stop-color="#39ffc6"/><stop offset=".95" stop-color="#51ffae"/><stop offset="1" stop-color="#6aff95"/></linearGradient>
<linearGradient id="g161"><stop offset="0" stop-color="#0000d4"/><stop offset=".05" stop-color="#0000e3"/><stop offset=".1" stop-color="#0000f3"/><stop offset=".137" stop-color="#00f"/><stop offset=".15" stop-color="#0004ff"/><stop offset=".2" stop-color="#0015ff"/><stop offset=".25" stop-color="#0026ff"/><stop offset=".3" stop-color="#0038ff"/><stop offset=".35" stop-color="#004bff"/><stop offset=".4" stop-color="#005eff"/><stop offset=".45" stop-color="#0071ff"/><stop offset=".5" stop-color="#0085ff"/><stop offset=".55" stop-color="#09f"/><stop offset=".6" stop-color="#00aeff"/><stop offset=".65" stop-color="#00c3ff"/><stop offset=".7" stop-color="#00d9ff"/><stop offset=".75" stop-color="#00f0ff"/><stop offset=".784" stop-color="#0ff"/><stop offset=".8" stop-color="#07fff8"/><stop offset=".85" stop-color="#1effe1"/><stop offset=".9" stop-color="#36ffc9"/><stop offset=".95" stop-color="#4effb1"/><stop offset="1" stop-color="#67ff98"/></linearGradient>
<linearGradient id="g162"><stop offset="0" stop-color="#0000d3"/><stop offset=".05" stop-color="#0000e2"/><stop offset=".1" stop-color="#0000f2"/><stop offset=".141" stop-color="#00f"/><stop offset=".15" stop-color="#0003ff"/><stop offset=".2" stop-color="#0014ff"/><stop offset=".25" stop-color="#0025ff"/><stop offset=".3" stop-color="#0037ff"/><stop offset=".35" stop-color="#0049ff"/><stop offset=".4" stop-color="#005cff"/><stop offset=".45" stop-color="#006fff"/><stop offset=".5" stop-color="#0083ff"/><stop offset=".55" stop-color="#0097ff"/><stop offset=".6" stop-color="#00acff"/><stop offset=".65" stop-color="#00c1ff"/><stop offset=".7" stop-color="#00d7ff"/><stop offset=".75" stop-color="#00edff"/><stop offset=".79" stop-color="#0ff"/><stop offset=".8" stop-color="#05fffa"/><stop offset=".85" stop-color="#1cffe3"/><stop offset=".9" stop-color="#3fc"/><stop offset=".95" stop-color="#4bffb4"/><stop offset="1" stop-color="#64ff9b"/></linearGradient>
<linearGradient id="g163"><stop offset="0" stop-color="#0000d2"/><stop offset=".05" stop-color="#0000e1"/><stop offset=".1" stop-color="#0000f1"/><stop offset=".145" stop-color="#00f"/><stop offset=".15" stop-color="#0002ff"/><stop offset=".2" stop-color="#0012ff"/><stop offset=".25" stop-color="#0024ff"/><stop offset=".3" stop-color="#0035ff"/><stop offset=".35" stop-color="#0048ff"/><stop offset=".4" stop-color="#005aff"/><stop offset=".45" stop-color="#006dff"/><stop offset=".5" stop-color="#0081ff"/><stop offset=".55" stop-color="#0095ff"/><stop offset=".6" stop-color="#0af"/><stop offset=".65" stop-color="#00bfff"/><stop offset=".7" stop-color="#00d4ff"/><stop offset=".75" stop-color="#00eaff"/><stop offset=".796" stop-color="#0ff"/><stop offset=".8" stop-color="#02fffd"/><stop offset=".85" stop-color="#19ffe6"/><stop offset=".9" stop-color="#30ffcf"/><stop offset=".95" stop-color="#48ffb7"/><stop offset="1" stop-color="#60ff9f"/></linearGradient>
<linearGradient id="g164"><stop offset="0" stop-color="#0000d1"/><stop offset=".05" stop-color="#0000e0"/><stop offset=".1" stop-color="#0000ef"/><stop offset=".148" stop-color="#00f"/><stop offset=".15" stop-color="#0001ff"/><stop offset=".2" stop-color="#01f"/><stop offset=".25" stop-color="#02f"/><stop offset=".3" stop-color="#0034ff"/><stop offset=".35" stop-color="#0046ff"/><stop offset=".4" stop-color="#0058ff"/><stop offset=".45" stop-color="#006cff"/><stop offset=".5" stop-color="#007fff"/><stop offset=".55" stop-color="#0093ff"/><stop offset=".6" stop-color="#00a8ff"/><stop offset=".65" stop-color="#00bdff"/><stop offset=".7" stop-color="#00d2ff"/><stop offset=".75" stop-color="#00e8ff"/><stop offset=".8" stop-color="#00feff"/><stop offset=".802" stop-color="#0ff"/><stop offset=".85" stop-color="#16ffe9"/><stop offset=".9" stop-color="#2dffd2"/><stop offset=".95" stop-color="#45ffba"/><stop offset="1" stop-color="#5dffa2"/></linearGradient>
<linearGradient id="g165"><stop offset="0" stop-color="#0000d0"/><stop offset=".05" stop-color="#0000df"/><stop offset=".1" stop-color="#00e"/><stop offset=".15" stop-color="#0000fe"/><stop offset=".152" stop-color="#00f"/><stop offset=".2" stop-color="#0010ff"/><stop offset=".25" stop-color="#0021ff"/><stop offset=".3" stop-color="#0032ff"/><stop offset=".35" stop-color="#04f"/><stop offset=".4" stop-color="#0057ff"/><stop offset=".45" stop-color="#006aff"/><stop offset=".5" stop-color="#007dff"/><stop offset=".55" stop-color="#0091ff"/><stop offset=".6" stop-color="#00a5ff"/><stop offset=".65" stop-color="#00baff"/><stop offset=".7" stop-color="#00d0ff"/><stop offset=".75" stop-color="#00e5ff"/><stop offset=".8" stop-color="#00fcff"/><stop offset=".808" stop-color="#0ff"/><stop offset=".85" stop-color="#13ffec"/><stop offset=".9" stop-color="#2affd5"/><stop offset=".95" stop-color="#42ffbd"/><stop offset="1" stop-color="#5affa5"/></linearGradient>
<linearGradient id="g166"><stop offset="0" stop-color="#0000cf"/><stop offset=".05" stop-color="#0000de"/><stop offset=".1" stop-color="#0000ed"/><stop offset=".15" stop-color="#0000fd"/><stop offset=".156" stop-color="#00f"/><stop offset=".2" stop-color="#000eff"/><stop offset=".25" stop-color="#001fff"/><stop offset=".3" stop-color="#0031ff"/><stop offset=".35" stop-color="#0043ff"/><stop offset=".4" stop-color="#05f"/><stop offset=".45" stop-color="#0068ff"/><stop offset=".5" stop-color="#007bff"/><stop offset=".55" stop-color="#008fff"/><stop offset=".6" stop-color="#00a3ff"/><stop offset=".65" stop-color="#00b8ff"/><stop offset=".7" stop-color="#00cdff"/><stop offset=".75" stop-color="#00e3ff"/><stop offset=".8" stop-color="#00f9ff"/><stop offset=".813" stop-color="#0ff"/><stop offset=".85" stop-color="#1fe"/><stop offset=".9" stop-color="#28ffd7"/><stop offset=".95" stop-color="#3fffc0"/><stop offset="1" stop-color="#57ffa8"/></linearGradient>
<linearGradient id="g167"><stop offset="0" stop-color="#0000ce"/><stop offset=".05" stop-color="#00d"/><stop offset=".1" stop-color="#0000ec"/><stop offset=".15" stop-color="#0000fc"/><stop offset=".16" stop-color="#00f"/><stop offset=".2" stop-color="#000dff"/><stop offset=".25" stop-color="#001eff"/><stop offset=".3" stop-color="#002fff"/><stop offset=".35" stop-color="#0041ff"/><stop offset=".4" stop-color="#0053ff"/><stop offset=".45" stop-color="#06f"/><stop offset=".5" stop-color="#0079ff"/><stop offset=".55" stop-color="#008dff"/><stop offset=".6" stop-color="#00a1ff"/><stop offset=".65" stop-color="#00b6ff"/><stop offset=".7" stop-color="#00cbff"/><stop offset=".75" stop-color="#00e0ff"/><stop offset=".8" stop-color="#00f6ff"/><stop offset=".82" stop-color="#0ff"/><stop offset=".85" stop-color="#0efff1"/><stop offset=".9" stop-color="#25ffda"/><stop offset=".95" stop-color="#3cffc3"/><stop offset="1" stop-color="#54ffab"/></linearGradient>
<linearGradient id="g168"><stop offset="0" stop-color="#0000cd"/><stop offset=".05" stop-color="#0000dc"/><stop offset=".1" stop-color="#0000eb"/><stop offset=".15" stop-color="#0000fb"/><stop offset=".164" stop-color="#00f"/><stop offset=".2" stop-color="#000cff"/><stop offset=".25" stop-color="#001dff"/><stop offset=".3" stop-color="#002eff"/><stop offset=".35" stop-color="#003fff"/><stop offset=".4" stop-color="#0052ff"/><stop offset=".45" stop-color="#0064ff"/><stop offset=".5" stop-color="#07f"/><stop offset=".55" stop-color="#008bff"/><stop offset=".6" stop-color="#009fff"/><stop offset=".65" stop-color="#00b3ff"/><stop offset=".7" stop-color="#00c8ff"/><stop offset=".75" stop-color="#00deff"/><stop offset=".8" stop-color="#00f4ff"/><stop offset=".826" stop-color="#0ff"/><stop offset=".85" stop-color="#0bfff4"/><stop offset=".9" stop-color="#2fd"/><stop offset=".95" stop-color="#39ffc6"/><stop offset="1" stop-color="#50ffaf"/></linearGradient>
<linearGradient id="g169"><stop offset="0" stop-color="#00c"/><stop offset=".05" stop-color="#0000db"/><stop offset=".1" stop-color="#0000ea"/><stop offset=".15" stop-color="#0000f9"/><stop offset=".168" stop-color="#00f"/><stop offset=".2" stop-color="#000aff"/><stop offset=".25" stop-color="#001bff"/><stop offset=".3" stop-color="#002cff"/><stop offset=".35" stop-color="#003eff"/><stop offset=".4" stop-color="#0050ff"/><stop offset=".45" stop-color="#0062ff"/><stop offset=".5" stop-color="#0075ff"/><stop offset=".55" stop-color="#0089ff"/><stop offset=".6" stop-color="#009dff"/><stop offset=".65" stop-color="#00b1ff"/><stop offset=".7" stop-color="#00c6ff"/><stop offset=".75" stop-color="#00dbff"/><stop offset=".8" stop-color="#00f1ff"/><stop offset=".832" stop-color="#0ff"/><stop offset=".85" stop-color="#08fff7"/><stop offset=".9" stop-color="#1fffe0"/><stop offset=".95" stop-color="#36ffc9"/><stop offset="1" stop-color="#4dffb2"/></linearGradient>
<linearGradient id="g170"><stop offset="0" stop-color="#0000cb"/><stop offset=".05" stop-color="#0000da"/><stop offset=".1" stop-color="#0000e9"/><stop offset=".15" stop-color="#0000f8"/><stop offset=".172" stop-color="#00f"/><stop offset=".2" stop-color="#0009ff"/><stop offset=".25" stop-color="#001aff"/><stop offset=".3" stop-color="#002bff"/><stop offset=".35" stop-color="#003cff"/><stop offset=".4" stop-color="#004eff"/><stop offset=".45" stop-color="#0061ff"/><stop offset=".5" stop-color="#0073ff"/><stop offset=".55" stop-color="#0087ff"/><stop offset=".6" stop-color="#009bff"/><stop offset=".65" stop-color="#00afff"/><stop offset=".7" stop-color="#00c4ff"/><stop offset=".75" stop-color="#00d9ff"/><stop offset=".8" stop-color="#0ef"/><stop offset=".838" stop-color="#0ff"/><stop offset=".85" stop-color="#05fffa"/><stop offset=".9" stop-color="#1cffe3"/><stop offset=".95" stop-color="#3fc"/><stop offset="1" stop-color="#4affb5"/></linearGradient>
<linearGradient id="g171"><stop offset="0" stop-color="#0000ca"/><stop offset=".05" stop-color="#0000d9"/><stop offset=".1" stop-color="#0000e7"/><stop offset=".15" stop-color="#0000f7"/><stop offset=".176" stop-color="#00f"/><stop offset=".2" stop-color="#0008ff"/><stop offset=".25" stop-color="#0018ff"/><stop offset=".3" stop-color="#0029ff"/><stop offset=".35" stop-color="#003bff"/><stop offset=".4" stop-color="#004cff"/><stop offset=".45" stop-color="#005fff"/><stop offset=".5" stop-color="#0071ff"/><stop offset=".55" stop-color="#0085ff"/><stop offset=".6" stop-color="#0098ff"/><stop offset=".65" stop-color="#00adff"/><stop offset=".7" stop-color="#00c1ff"/><stop offset=".75" stop-color="#00d6ff"/><stop offset=".8" stop-color="#00ecff"/><stop offset=".844" stop-color="#0ff"/><stop offset=".85" stop-color="#03fffc"/><stop offset=".9" stop-color="#19ffe6"/><stop offset=".95" stop-color="#30ffcf"/><stop offset="1" stop-color="#47ffb8"/></linearGradient>
<linearGradient id="g172"><stop offset="0" stop-color="#0000c9"/><stop offset=".05" stop-color="#0000d7"/><stop offset=".1" stop-color="#0000e6"/><stop offset=".15" stop-color="#0000f6"/><stop offset=".18" stop-color="#00f"/><stop offset=".2" stop-color="#0007ff"/><stop offset=".25" stop-color="#0017ff"/><stop offset=".3" stop-color="#0028ff"/><stop offset=".35" stop-color="#0039ff"/><stop offset=".4" stop-color="#004bff"/><stop offset=".45" stop-color="#005dff"/><stop offset=".5" stop-color="#0070ff"/><stop offset=".55" stop-color="#0083ff"/><stop offset=".6" stop-color="#0096ff"/><stop offset=".65" stop-color="#0af"/><stop offset=".7" stop-color="#00bfff"/><stop offset=".75" stop-color="#00d4ff"/><stop offset=".8" stop-color="#00e9ff"/><stop offset=".85" stop-color="#0ff"/><stop offset=".851" stop-color="#0ff"/><stop offset=".9" stop-color="#16ffe9"/><stop offset=".95" stop-color="#2dffd2"/><stop offset="1" stop-color="#4fb"/></linearGradient>
<linearGradient id="g173"><stop offset="0" stop-color="#0000c8"/><stop offset=".05" stop-color="#0000d6"/><stop offset=".1" stop-color="#0000e5"/><stop offset=".15" stop-color="#0000f4"/><stop offset=".184" stop-color="#00f"/><stop offset=".2" stop-color="#0005ff"/><stop offset=".25" stop-color="#0015ff"/><stop offset=".3" stop-color="#0026ff"/><stop offset=".35" stop-color="#0037ff"/><stop offset=".4" stop-color="#0049ff"/><stop offset=".45" stop-color="#005bff"/><stop offset=".5" stop-color="#006eff"/><stop offset=".55" stop-color="#0081ff"/><stop offset=".6" stop-color="#0094ff"/><stop offset=".65" stop-color="#00a8ff"/><stop offset=".7" stop-color="#00bcff"/><stop offset=".75" stop-color="#00d1ff"/><stop offset=".8" stop-color="#00e6ff"/><stop offset=".85" stop-color="#00fcff"/><stop offset=".857" stop-color="#0ff"/><stop offset=".9" stop-color="#13ffec"/><stop offset=".95" stop-color="#2affd5"/><stop offset="1" stop-color="#40ffbf"/></linearGradient>
<linearGradient id="g174"><stop offset="0" stop-color="#0000c7"/><stop offset=".05" stop-color="#0000d5"/><stop offset=".1" stop-color="#0000e4"/><stop offset=".15" stop-color="#0000f3"/><stop offset=".188" stop-color="#00f"/><stop offset=".2" stop-color="#0004ff"/><stop offset=".25" stop-color="#0014ff"/><stop offset=".3" stop-color="#0025ff"/><stop offset=".35" stop-color="#0036ff"/><stop offset=".4" stop-color="#0047ff"/><stop offset=".45" stop-color="#0059ff"/><stop offset=".5" stop-color="#006cff"/><stop offset=".55" stop-color="#007fff"/><stop offset=".6" stop-color="#0092ff"/><stop offset=".65" stop-color="#00a6ff"/><stop offset=".7" stop-color="#00baff"/><stop offset=".75" stop-color="#00cfff"/><stop offset=".8" stop-color="#00e4ff"/><stop offset=".85" stop-color="#00f9ff"/><stop offset=".863" stop-color="#0ff"/><stop offset=".9" stop-color="#10ffef"/><stop offset=".95" stop-color="#27ffd8"/><stop offset="1" stop-color="#3dffc2"/></linearGradient>
<linearGradient id="g175"><stop offset="0" stop-color="#0000c6"/><stop offset=".05" stop-color="#0000d4"/><stop offset=".1" stop-color="#0000e3"/><stop offset=".15" stop-color="#0000f2"/><stop offset=".192" stop-color="#00f"/><stop offset=".2" stop-color="#0003ff"/><stop offset=".25" stop-color="#0013ff"/><stop offset=".3" stop-color="#0023ff"/><stop offset=".35" stop-color="#0034ff"/><stop offset=".4" stop-color="#0046ff"/><stop offset=".45" stop-color="#0057ff"/><stop offset=".5" stop-color="#006aff"/><stop offset=".55" stop-color="#007dff"/><stop offset=".6" stop-color="#0090ff"/><stop offset=".65" stop-color="#00a3ff"/><stop offset=".7" stop-color="#00b8ff"/><stop offset=".75" stop-color="#0cf"/><stop offset=".8" stop-color="#00e1ff"/><stop offset=".85" stop-color="#00f6ff"/><stop offset=".87" stop-color="#0ff"/><stop offset=".9" stop-color="#0dfff2"/><stop offset=".95" stop-color="#23ffdc"/><stop offset="1" stop-color="#3affc5"/></linearGradient>
<linearGradient id="g176"><stop offset="0" stop-color="#0000c5"/><stop offset=".05" stop-color="#0000d3"/><stop offset=".1" stop-color="#0000e2"/><stop offset=".15" stop-color="#0000f1"/><stop offset=".196" stop-color="#00f"/><stop offset=".2" stop-color="#0001ff"/><stop offset=".25" stop-color="#01f"/><stop offset=".3" stop-color="#02f"/><stop offset=".35" stop-color="#0032ff"/><stop offset=".4" stop-color="#04f"/><stop offset=".45" stop-color="#0056ff"/><stop offset=".5" stop-color="#0068ff"/><stop offset=".55" stop-color="#007aff"/><stop offset=".6" stop-color="#008eff"/><stop offset=".65" stop-color="#00a1ff"/><stop offset=".7" stop-color="#00b5ff"/><stop offset=".75" stop-color="#00caff"/><stop offset=".8" stop-color="#00deff"/><stop offset=".85" stop-color="#00f4ff"/><stop offset=".876" stop-color="#0ff"/><stop offset=".9" stop-color="#0afff5"/><stop offset=".95" stop-color="#20ffdf"/><stop offset="1" stop-color="#37ffc8"/></linearGradient>
<linearGradient id="g177"><stop offset="0" stop-color="#0000c4"/><stop offset=".05" stop-color="#0000d2"/><stop offset=".1" stop-color="#0000e1"/><stop offset=".15" stop-color="#0000f0"/><stop offset=".2" stop-color="#00f"/><stop offset=".25" stop-color="#0010ff"/><stop offset=".3" stop-color="#0020ff"/><stop offset=".35" stop-color="#0031ff"/><stop offset=".4" stop-color="#0042ff"/><stop offset=".45" stop-color="#0054ff"/><stop offset=".5" stop-color="#06f"/><stop offset=".55" stop-color="#0078ff"/><stop offset=".6" stop-color="#008bff"/><stop offset=".65" stop-color="#009fff"/><stop offset=".7" stop-color="#00b3ff"/><stop offset=".75" stop-color="#00c7ff"/><stop offset=".8" stop-color="#00dcff"/><stop offset=".85" stop-color="#00f1ff"/><stop offset=".883" stop-color="#0ff"/><stop offset=".9" stop-color="#07fff8"/><stop offset=".95" stop-color="#1dffe2"/><stop offset="1" stop-color="#34ffcb"/></linearGradient>
<linearGradient id="g178"><stop offset="0" stop-color="#0000c3"/><stop offset=".05" stop-color="#0000d1"/><stop offset=".1" stop-color="#0000e0"/><stop offset=".15" stop-color="#00e"/><stop offset=".2" stop-color="#0000fe"/><stop offset=".205" stop-color="#00f"/><stop offset=".25" stop-color="#000eff"/><stop offset=".3" stop-color="#001fff"/><stop offset=".35" stop-color="#002fff"/><stop offset=".4" stop-color="#0040ff"/><stop offset=".45" stop-color="#0052ff"/><stop offset=".5" stop-color="#0064ff"/><stop offset=".55" stop-color="#0076ff"/><stop offset=".6" stop-color="#0089ff"/><stop offset=".65" stop-color="#009dff"/><stop offset=".7" stop-color="#00b0ff"/><stop offset=".75" stop-color="#00c5ff"/><stop offset=".8" stop-color="#00d9ff"/><stop offset=".85" stop-color="#0ef"/><stop offset=".89" stop-color="#0ff"/><stop offset=".9" stop-color="#05fffa"/><stop offset=".95" stop-color="#1affe5"/><stop offset="1" stop-color="#31ffce"/></linearGradient>
<linearGradient id="g179"><stop offset="0" stop-color="#0000c2"/><stop offset=".05" stop-color="#0000d0"/><stop offset=".1" stop-color="#0000de"/><stop offset=".15" stop-color="#0000ed"/><stop offset=".2" stop-color="#0000fc"/><stop offset=".209" stop-color="#00f"/><stop offset=".25" stop-color="#000dff"/><stop offset=".3" stop-color="#001dff"/><stop offset=".35" stop-color="#002eff"/><stop offset=".4" stop-color="#003fff"/><stop offset=".45" stop-color="#0050ff"/><stop offset=".5" stop-color="#0062ff"/><stop offset=".55" stop-color="#0074ff"/><stop offset=".6" stop-color="#0087ff"/><stop offset=".65" stop-color="#009aff"/><stop offset=".7" stop-color="#00aeff"/><stop offset=".75" stop-color="#00c2ff"/><stop offset=".8" stop-color="#00d6ff"/><stop offset=".85" stop-color="#00ebff"/><stop offset=".896" stop-color="#0ff"/><stop offset=".9" stop-color="#02fffd"/><stop offset=".95" stop-color="#17ffe8"/><stop offset="1" stop-color="#2dffd2"/></linearGradient>
<linearGradient id="g180"><stop offset="0" stop-color="#0000c1"/><stop offset=".05" stop-color="#0000cf"/><stop offset=".1" stop-color="#00d"/><stop offset=".15" stop-color="#0000ec"/><stop offset=".2" stop-color="#0000fb"/><stop offset=".213" stop-color="#00f"/><stop offset=".25" stop-color="#000cff"/><stop offset=".3" stop-color="#001cff"/><stop offset=".35" stop-color="#002cff"/><stop offset=".4" stop-color="#003dff"/><stop offset=".45" stop-color="#004eff"/><stop offset=".5" stop-color="#0060ff"/><stop offset=".55" stop-color="#0072ff"/><stop offset=".6" stop-color="#0085ff"/><stop offset=".65" stop-color="#0098ff"/><stop offset=".7" stop-color="#00acff"/><stop offset=".75" stop-color="#00bfff"/><stop offset=".8" stop-color="#00d4ff"/><stop offset=".85" stop-color="#00e9ff"/><stop offset=".9" stop-color="#00feff"/><stop offset=".903" stop-color="#0ff"/><stop offset=".95" stop-color="#14ffeb"/><stop offset="1" stop-color="#2affd5"/></linearGradient>
<linearGradient id="g181"><stop offset="0" stop-color="#0000c0"/><stop offset=".05" stop-color="#0000ce"/><stop offset=".1" stop-color="#0000dc"/><stop offset=".15" stop-color="#0000eb"/><stop offset=".2" stop-color="#0000fa"/><stop offset=".217" stop-color="#00f"/><stop offset=".25" stop-color="#000aff"/><stop offset=".3" stop-color="#001aff"/><stop offset=".35" stop-color="#002aff"/><stop offset=".4" stop-color="#003bff"/><stop offset=".45" stop-color="#004cff"/><stop offset=".5" stop-color="#005eff"/><stop offset=".55" stop-color="#0070ff"/><stop offset=".6" stop-color="#0083ff"/><stop offset=".65" stop-color="#0096ff"/><stop offset=".7" stop-color="#00a9ff"/><stop offset=".75" stop-color="#00bdff"/><stop offset=".8" stop-color="#00d1ff"/><stop offset=".85" stop-color="#00e6ff"/><stop offset=".9" stop-color="#00fbff"/><stop offset=".91" stop-color="#0ff"/><stop offset=".95" stop-color="#1fe"/><stop offset="1" stop-color="#27ffd8"/></linearGradient>
<linearGradient id="g182"><stop offset="0" stop-color="#0000c0"/><stop offset=".05" stop-color="#0000cd"/><stop offset=".1" stop-color="#0000db"/><stop offset=".15" stop-color="#0000e9"/><stop offset=".2" stop-color="#0000f8"/><stop offset=".222" stop-color="#00f"/><stop offset=".25" stop-color="#0009ff"/><stop offset=".3" stop-color="#0019ff"/><stop offset=".35" stop-color="#0029ff"/><stop offset=".4" stop-color="#0039ff"/><stop offset=".45" stop-color="#004bff"/><stop offset=".5" stop-color="#005cff"/><stop offset=".55" stop-color="#006eff"/><stop offset=".6" stop-color="#0081ff"/><stop offset=".65" stop-color="#0093ff"/><stop offset=".7" stop-color="#00a7ff"/><stop offset=".75" stop-color="#00baff"/><stop offset=".8" stop-color="#00cfff"/><stop offset=".85" stop-color="#00e3ff"/><stop offset=".9" stop-color="#00f8ff"/><stop offset=".917" stop-color="#0ff"/><stop offset=".95" stop-color="#0efff1"/><stop offset="1" stop-color="#24ffdb"/></linearGradient>
<linearGradient id="g183"><stop offset="0" stop-color="#0000bf"/><stop offset=".05" stop-color="#00c"/><stop offset=".1" stop-color="#0000da"/><stop offset=".15" stop-color="#0000e8"/><stop offset=".2" stop-color="#0000f7"/><stop offset=".226" stop-color="#00f"/><stop offset=".25" stop-color="#0007ff"/><stop offset=".3" stop-color="#0017ff"/><stop offset=".35" stop-color="#0027ff"/><stop offset=".4" stop-color="#0038ff"/><stop offset=".45" stop-color="#0049ff"/><stop offset=".5" stop-color="#005aff"/><stop offset=".55" stop-color="#006cff"/><stop offset=".6" stop-color="#007eff"/><stop offset=".65" stop-color="#0091ff"/><stop offset=".7" stop-color="#00a4ff"/><stop offset=".75" stop-color="#00b8ff"/><stop offset=".8" stop-color="#0cf"/><stop offset=".85" stop-color="#00e0ff"/><stop offset=".9" stop-color="#00f5ff"/><stop offset=".924" stop-color="#0ff"/><stop offset=".95" stop-color="#0bfff4"/><stop offset="1" stop-color="#21ffde"/></linearGradient>
<linearGradient id="g184"><stop offset="0" stop-color="#0000be"/><stop offset=".05" stop-color="#0000cb"/><stop offset=".1" stop-color="#0000d9"/><stop offset=".15" stop-color="#0000e7"/><stop offset=".2" stop-color="#0000f6"/><stop offset=".231" stop-color="#00f"/><stop offset=".25" stop-color="#0006ff"/><stop offset=".3" stop-color="#0016ff"/><stop offset=".35" stop-color="#0026ff"/><stop offset=".4" stop-color="#0036ff"/><stop offset=".45" stop-color="#0047ff"/><stop offset=".5" stop-color="#0058ff"/><stop offset=".55" stop-color="#006aff"/><stop offset=".6" stop-color="#007cff"/><stop offset=".65" stop-color="#008fff"/><stop offset=".7" stop-color="#00a2ff"/><stop offset=".75" stop-color="#00b5ff"/><stop offset=".8" stop-color="#00c9ff"/><stop offset=".85" stop-color="#00deff"/><stop offset=".9" stop-color="#00f2ff"/><stop offset=".931" stop-color="#0ff"/><stop offset=".95" stop-color="#08fff7"/><stop offset="1" stop-color="#1effe1"/></linearGradient>
<linearGradient id="g185"><stop offset="0" stop-color="#0000bd"/><stop offset=".05" stop-color="#0000ca"/><stop offset=".1" stop-color="#0000d8"/><stop offset=".15" stop-color="#0000e6"/><stop offset=".2" stop-color="#0000f4"/><stop offset=".235" stop-color="#00f"/><stop offset=".25" stop-color="#0004ff"/><stop offset=".3" stop-color="#0014ff"/><stop offset=".35" stop-color="#0024ff"/><stop offset=".4" stop-color="#0034ff"/><stop offset=".45" stop-color="#0045ff"/><stop offset=".5" stop-color="#0056ff"/><stop offset=".55" stop-color="#0068ff"/><stop offset=".6" stop-color="#007aff"/><stop offset=".65" stop-color="#008dff"/><stop offset=".7" stop-color="#00a0ff"/><stop offset=".75" stop-color="#00b3ff"/><stop offset=".8" stop-color="#00c7ff"/><stop offset=".85" stop-color="#00dbff"/><stop offset=".9" stop-color="#00efff"/><stop offset=".938" stop-color="#0ff"/><stop offset=".95" stop-color="#05fffa"/><stop offset="1" stop-color="#1affe5"/></linearGradient>
<linearGradient id="g186"><stop offset="0" stop-color="#0000bc"/><stop offset=".05" stop-color="#0000c9"/><stop offset=".1" stop-color="#0000d6"/><stop offset=".15" stop-color="#0000e5"/><stop offset=".2" stop-color="#0000f3"/><stop offset=".24" stop-color="#00f"/><stop offset=".25" stop-color="#0003ff"/><stop offset=".3" stop-color="#0013ff"/><stop offset=".35" stop-color="#02f"/><stop offset=".4" stop-color="#03f"/><stop offset=".45" stop-color="#0043ff"/><stop offset=".5" stop-color="#05f"/><stop offset=".55" stop-color="#06f"/><stop offset=".6" stop-color="#0078ff"/><stop offset=".65" stop-color="#008aff"/><stop offset=".7" stop-color="#009dff"/><stop offset=".75" stop-color="#00b0ff"/><stop offset=".8" stop-color="#00c4ff"/><stop offset=".85" stop-color="#00d8ff"/><stop offset=".9" stop-color="#00ecff"/><stop offset=".945" stop-color="#0ff"/><stop offset=".95" stop-color="#02fffd"/><stop offset="1" stop-color="#17ffe8"/></linearGradient>
<linearGradient id="g187"><stop offset="0" stop-color="#00b"/><stop offset=".05" stop-color="#0000c8"/><stop offset=".1" stop-color="#0000d5"/><stop offset=".15" stop-color="#0000e3"/><stop offset=".2" stop-color="#0000f2"/><stop offset=".244" stop-color="#00f"/><stop offset=".25" stop-color="#0002ff"/><stop offset=".3" stop-color="#01f"/><stop offset=".35" stop-color="#0021ff"/><stop offset=".4" stop-color="#0031ff"/><stop offset=".45" stop-color="#0042ff"/><stop offset=".5" stop-color="#0053ff"/><stop offset=".55" stop-color="#0064ff"/><stop offset=".6" stop-color="#0076ff"/><stop offset=".65" stop-color="#08f"/><stop offset=".7" stop-color="#009bff"/><stop offset=".75" stop-color="#00aeff"/><stop offset=".8" stop-color="#00c1ff"/><stop offset=".85" stop-color="#00d5ff"/><stop offset=".9" stop-color="#00e9ff"/><stop offset=".95" stop-color="#00feff"/><stop offset=".952" stop-color="#0ff"/><stop offset="1" stop-color="#14ffeb"/></linearGradient>
<linearGradient id="g188"><stop offset="0" stop-color="#0000ba"/><stop offset=".05" stop-color="#0000c7"/><stop offset=".1" stop-color="#0000d4"/><stop offset=".15" stop-color="#0000e2"/><stop offset=".2" stop-color="#0000f0"/><stop offset=".249" stop-color="#00f"/><stop offset=".25" stop-color="#00f"/><stop offset=".3" stop-color="#0010ff"/><stop offset=".35" stop-color="#001fff"/><stop offset=".4" stop-color="#002fff"/><stop offset=".45" stop-color="#0040ff"/><stop offset=".5" stop-color="#0051ff"/><stop offset=".55" stop-color="#0062ff"/><stop offset=".6" stop-color="#0074ff"/><stop offset=".65" stop-color="#0086ff"/><stop offset=".7" stop-color="#0098ff"/><stop offset=".75" stop-color="#00abff"/><stop offset=".8" stop-color="#00bfff"/><stop offset=".85" stop-color="#00d2ff"/><stop offset=".9" stop-color="#00e7ff"/><stop offset=".95" stop-color="#00fbff"/><stop offset=".959" stop-color="#0ff"/><stop offset="1" stop-color="#1fe"/></linearGradient>
<linearGradient id="g189"><stop offset="0" stop-color="#0000b9"/><stop offset=".05" stop-color="#0000c6"/><stop offset=".1" stop-color="#0000d3"/><stop offset=".15" stop-color="#0000e1"/><stop offset=".2" stop-color="#0000ef"/><stop offset=".25" stop-color="#0000fe"/><stop offset=".254" stop-color="#00f"/><stop offset=".3" stop-color="#000eff"/><stop offset=".35" stop-color="#001eff"/><stop offset=".4" stop-color="#002eff"/><stop offset=".45" stop-color="#003eff"/><stop offset=".5" stop-color="#004fff"/><stop offset=".55" stop-color="#0060ff"/><stop offset=".6" stop-color="#0072ff"/><stop offset=".65" stop-color="#0084ff"/><stop offset=".7" stop-color="#0096ff"/><stop offset=".75" stop-color="#00a9ff"/><stop offset=".8" stop-color="#00bcff"/><stop offset=".85" stop-color="#00d0ff"/><stop offset=".9" stop-color="#00e4ff"/><stop offset=".95" stop-color="#00f8ff"/><stop offset=".967" stop-color="#0ff"/><stop offset="1" stop-color="#0efff1"/></linearGradient>
<linearGradient id="g190"><stop offset="0" stop-color="#0000b8"/><stop offset=".05" stop-color="#0000c5"/><stop offset=".1" stop-color="#0000d2"/><stop offset=".15" stop-color="#0000e0"/><stop offset=".2" stop-color="#00e"/><stop offset=".25" stop-color="#0000fc"/><stop offset=".258" stop-color="#00f"/><stop offset=".3" stop-color="#000dff"/><stop offset=".35" stop-color="#001cff"/><stop offset=".4" stop-color="#002cff"/><stop offset=".45" stop-color="#003cff"/><stop offset=".5" stop-color="#004dff"/><stop offset=".55" stop-color="#005eff"/><stop offset=".6" stop-color="#006fff"/><stop offset=".65" stop-color="#0081ff"/><stop offset=".7" stop-color="#0094ff"/><stop offset=".75" stop-color="#00a6ff"/><stop offset=".8" stop-color="#00b9ff"/><stop offset=".85" stop-color="#00cdff"/><stop offset=".9" stop-color="#00e1ff"/><stop offset=".95" stop-color="#00f5ff"/><stop offset=".974" stop-color="#0ff"/><stop offset="1" stop-color="#0bfff4"/></linearGradient>
<linearGradient id="g191"><stop offset="0" stop-color="#0000b7"/><stop offset=".05" stop-color="#0000c4"/><stop offset=".1" stop-color="#0000d1"/><stop offset=".15" stop-color="#0000df"/><stop offset=".2" stop-color="#0000ed"/><stop offset=".25" stop-color="#0000fb"/><stop offset=".263" stop-color="#00f"/><stop offset=".3" stop-color="#000bff"/><stop offset=".35" stop-color="#001aff"/><stop offset=".4" stop-color="#002aff"/><stop offset=".45" stop-color="#003aff"/><stop offset=".5" stop-color="#004bff"/><stop offset=".55" stop-color="#005cff"/><stop offset=".6" stop-color="#006dff"/><stop offset=".65" stop-color="#007fff"/><stop offset=".7" stop-color="#0091ff"/><stop offset=".75" stop-color="#00a4ff"/><stop offset=".8" stop-color="#00b7ff"/><stop offset=".85" stop-color="#00caff"/><stop offset=".9" stop-color="#00deff"/><stop offset=".95" stop-color="#00f2ff"/><stop offset=".982" stop-color="#0ff"/><stop offset="1" stop-color="#08fff7"/></linearGradient>
<linearGradient id="g192"><stop offset="0" stop-color="#0000b6"/><stop offset=".05" stop-color="#0000c3"/><stop offset=".1" stop-color="#0000d0"/><stop offset=".15" stop-color="#00d"/><stop offset=".2" stop-color="#0000eb"/><stop offset=".25" stop-color="#0000fa"/><stop offset=".268" stop-color="#00f"/><stop offset=".3" stop-color="#000aff"/><stop offset=".35" stop-color="#0019ff"/><stop offset=".4" stop-color="#0028ff"/><stop offset=".45" stop-color="#0039ff"/><stop offset=".5" stop-color="#0049ff"/><stop offset=".55" stop-color="#005aff"/><stop offset=".6" stop-color="#006bff"/><stop offset=".65" stop-color="#007dff"/><stop offset=".7" stop-color="#008fff"/><stop offset=".75" stop-color="#00a1ff"/><stop offset=".8" stop-color="#00b4ff"/><stop offset=".85" stop-color="#00c7ff"/><stop offset=".9" stop-color="#00dbff"/><stop offset=".95" stop-color="#00efff"/><stop offset=".989" stop-color="#0ff"/><stop offset="1" stop-color="#04fffb"/></linearGradient>
<linearGradient id="g193"><stop offset="0" stop-color="#0000b5"/><stop offset=".05" stop-color="#0000c2"/><stop offset=".1" stop-color="#0000cf"/><stop offset=".15" stop-color="#0000dc"/><stop offset=".2" stop-color="#0000ea"/><stop offset=".25" stop-color="#0000f8"/><stop offset=".273" stop-color="#00f"/><stop offset=".3" stop-color="#0008ff"/><stop offset=".35" stop-color="#0017ff"/><stop offset=".4" stop-color="#0027ff"/><stop offset=".45" stop-color="#0037ff"/><stop offset=".5" stop-color="#0047ff"/><stop offset=".55" stop-color="#0058ff"/><stop offset=".6" stop-color="#0069ff"/><stop offset=".65" stop-color="#007bff"/><stop offset=".7" stop-color="#008dff"/><stop offset=".75" stop-color="#009fff"/><stop offset=".8" stop-color="#00b2ff"/><stop offset=".85" stop-color="#00c5ff"/><stop offset=".9" stop-color="#00d8ff"/><stop offset=".95" stop-color="#00ecff"/><stop offset=".997" stop-color="#0ff"/><stop offset="1" stop-color="#01fffe"/></linearGradient>
<linearGradient id="g194"><stop offset="0" stop-color="#0000b4"/><stop offset=".05" stop-color="#0000c1"/><stop offset=".1" stop-color="#0000cd"/><stop offset=".15" stop-color="#0000db"/><stop offset=".2" stop-color="#0000e9"/><stop offset=".25" stop-color="#0000f7"/><stop offset=".278" stop-color="#00f"/><stop offset=".3" stop-color="#0007ff"/><stop offset=".35" stop-color="#0016ff"/><stop offset=".4" stop-color="#0025ff"/><stop offset=".45" stop-color="#0035ff"/><stop offset=".5" stop-color="#0045ff"/><stop offset=".55" stop-color="#0056ff"/><stop offset=".6" stop-color="#0067ff"/><stop offset=".65" stop-color="#0078ff"/><stop offset=".7" stop-color="#008aff"/><stop offset=".75" stop-color="#009cff"/><stop offset=".8" stop-color="#00afff"/><stop offset=".85" stop-color="#00c2ff"/><stop offset=".9" stop-color="#00d5ff"/><stop offset=".95" stop-color="#00e9ff"/><stop offset="1" stop-color="#00fdff"/></linearGradient>
<linearGradient id="g195"><stop offset="0" stop-color="#0000b3"/><stop offset=".05" stop-color="#0000c0"/><stop offset=".1" stop-color="#00c"/><stop offset=".15" stop-color="#0000da"/><stop offset=".2" stop-color="#0000e7"/><stop offset=".25" stop-color="#0000f6"/><stop offset=".283" stop-color="#00f"/><stop offset=".3" stop-color="#0005ff"/><stop offset=".35" stop-color="#0014ff"/><stop offset=".4" stop-color="#0023ff"/><stop offset=".45" stop-color="#03f"/><stop offset=".5" stop-color="#0043ff"/><stop offset=".55" stop-color="#0054ff"/><stop offset=".6" stop-color="#0065ff"/><stop offset=".65" stop-color="#0076ff"/><stop offset=".7" stop-color="#08f"/><stop offset=".75" stop-color="#009aff"/><stop offset=".8" stop-color="#00acff"/><stop offset=".85" stop-color="#00bfff"/><stop offset=".9" stop-color="#00d2ff"/><stop offset=".95" stop-color="#00e6ff"/><stop offset="1" stop-color="#00faff"/></linearGradient>
<linearGradient id="g196"><stop offset="0" stop-color="#0000b2"/><stop offset=".05" stop-color="#0000be"/><stop offset=".1" stop-color="#0000cb"/><stop offset=".15" stop-color="#0000d8"/><stop offset=".2" stop-color="#0000e6"/><stop offset=".25" stop-color="#0000f4"/><stop offset=".288" stop-color="#00f"/><stop offset=".3" stop-color="#0004ff"/><stop offset=".35" stop-color="#0012ff"/><stop offset=".4" stop-color="#02f"/><stop offset=".45" stop-color="#0031ff"/><stop offset=".5" stop-color="#0041ff"/><stop offset=".55" stop-color="#0052ff"/><stop offset=".6" stop-color="#0063ff"/><stop offset=".65" stop-color="#0074ff"/><stop offset=".7" stop-color="#0085ff"/><stop offset=".75" stop-color="#0097ff"/><stop offset=".8" stop-color="#0af"/><stop offset=".85" stop-color="#00bdff"/><stop offset=".9" stop-color="#00d0ff"/><stop offset=".95" stop-color="#00e3ff"/><stop offset="1" stop-color="#00f7ff"/></linearGradient>
<linearGradient id="g197"><stop offset="0" stop-color="#0000b1"/><stop offset=".05" stop-color="#0000bd"/><stop offset=".1" stop-color="#0000ca"/><stop offset=".15" stop-color="#0000d7"/><stop offset=".2" stop-color="#0000e5"/><stop offset=".25" stop-color="#0000f3"/><stop offset=".293" stop-color="#00f"/><stop offset=".3" stop-color="#0002ff"/><stop offset=".35" stop-color="#01f"/><stop offset=".4" stop-color="#0020ff"/><stop offset=".45" stop-color="#0030ff"/><stop offset=".5" stop-color="#003fff"/><stop offset=".55" stop-color="#0050ff"/><stop offset=".6" stop-color="#0061ff"/><stop offset=".65" stop-color="#0072ff"/><stop offset=".7" stop-color="#0083ff"/><stop offset=".75" stop-color="#0095ff"/><stop offset=".8" stop-color="#00a7ff"/><stop offset=".85" stop-color="#00baff"/><stop offset=".9" stop-color="#00cdff"/><stop offset=".95" stop-color="#00e0ff"/><stop offset="1" stop-color="#00f4ff"/></linearGradient>
<linearGradient id="g198"><stop offset="0" stop-color="#0000b0"/><stop offset=".05" stop-color="#0000bc"/><stop offset=".1" stop-color="#0000c9"/><stop offset=".15" stop-color="#0000d6"/><stop offset=".2" stop-color="#0000e3"/><stop offset=".25" stop-color="#0000f1"/><stop offset=".298" stop-color="#00f"/><stop offset=".3" stop-color="#0001ff"/><stop offset=".35" stop-color="#000fff"/><stop offset=".4" stop-color="#001eff"/><stop offset=".45" stop-color="#002eff"/><stop offset=".5" stop-color="#003eff"/><stop offset=".55" stop-color="#004eff"/><stop offset=".6" stop-color="#005eff"/><stop offset=".65" stop-color="#006fff"/><stop offset=".7" stop-color="#0081ff"/><stop offset=".75" stop-color="#0092ff"/><stop offset=".8" stop-color="#00a5ff"/><stop offset=".85" stop-color="#00b7ff"/><stop offset=".9" stop-color="#00caff"/><stop offset=".95" stop-color="#0df"/><stop offset="1" stop-color="#00f1ff"/></linearGradient>
<linearGradient id="g199"><stop offset="0" stop-color="#0000af"/><stop offset=".05" stop-color="#00b"/><stop offset=".1" stop-color="#0000c8"/><stop offset=".15" stop-color="#0000d5"/><stop offset=".2" stop-color="#0000e2"/><stop offset=".25" stop-color="#0000f0"/><stop offset=".3" stop-color="#0000fe"/><stop offset=".303" stop-color="#00f"/><stop offset=".35" stop-color="#000eff"/><stop offset=".4" stop-color="#001dff"/><stop offset=".45" stop-color="#002cff"/><stop offset=".5" stop-color="#003cff"/><stop offset=".55" stop-color="#004cff"/><stop offset=".6" stop-color="#005cff"/><stop offset=".65" stop-color="#006dff"/><stop offset=".7" stop-color="#007eff"/><stop offset=".75" stop-color="#0090ff"/><stop offset=".8" stop-color="#00a2ff"/><stop offset=".85" stop-color="#00b4ff"/><stop offset=".9" stop-color="#00c7ff"/><stop offset=".95" stop-color="#00daff"/><stop offset="1" stop-color="#00edff"/></linearGradient>
<linearGradient id="g200"><stop offset="0" stop-color="#0000ae"/><stop offset=".05" stop-color="#0000ba"/><stop offset=".1" stop-color="#0000c7"/><stop offset=".15" stop-color="#0000d4"/><stop offset=".2" stop-color="#0000e1"/><stop offset=".25" stop-color="#0000ef"/><stop offset=".3" stop-color="#0000fd"/><stop offset=".308" stop-color="#00f"/><stop offset=".35" stop-color="#000cff"/><stop offset=".4" stop-color="#001bff"/><stop offset=".45" stop-color="#002aff"/><stop offset=".5" stop-color="#003aff"/><stop offset=".55" stop-color="#004aff"/><stop offset=".6" stop-color="#005aff"/><stop offset=".65" stop-color="#006bff"/><stop offset=".7" stop-color="#007cff"/><stop offset=".75" stop-color="#008dff"/><stop offset=".8" stop-color="#009fff"/><stop offset=".85" stop-color="#00b2ff"/><stop offset=".9" stop-color="#00c4ff"/><stop offset=".95" stop-color="#00d7ff"/><stop offset="1" stop-color="#00eaff"/></linearGradient>
<linearGradient id="g201"><stop offset="0" stop-color="#0000ad"/><stop offset=".05" stop-color="#0000b9"/><stop offset=".1" stop-color="#0000c6"/><stop offset=".15" stop-color="#0000d2"/><stop offset=".2" stop-color="#0000e0"/><stop offset=".25" stop-color="#0000ed"/><stop offset=".3" stop-color="#0000fb"/><stop offset=".314" stop-color="#00f"/><stop offset=".35" stop-color="#000aff"/><stop offset=".4" stop-color="#0019ff"/><stop offset=".45" stop-color="#0028ff"/><stop offset=".5" stop-color="#0038ff"/><stop offset=".55" stop-color="#0048ff"/><stop offset=".6" stop-color="#0058ff"/><stop offset=".65" stop-color="#0069ff"/><stop offset=".7" stop-color="#007aff"/><stop offset=".75" stop-color="#008bff"/><stop offset=".8" stop-color="#009dff"/><stop offset=".85" stop-color="#00afff"/><stop offset=".9" stop-color="#00c1ff"/><stop offset=".95" stop-color="#00d4ff"/><stop offset="1" stop-color="#00e7ff"/></linearGradient>
<linearGradient id="g202"><stop offset="0" stop-color="#0000ac"/><stop offset=".05" stop-color="#0000b8"/><stop offset=".1" stop-color="#0000c5"/><stop offset=".15" stop-color="#0000d1"/><stop offset=".2" stop-color="#0000de"/><stop offset=".25" stop-color="#0000ec"/><stop offset=".3" stop-color="#0000fa"/><stop offset=".319" stop-color="#00f"/><stop offset=".35" stop-color="#0009ff"/><stop offset=".4" stop-color="#0018ff"/><stop offset=".45" stop-color="#0027ff"/><stop offset=".5" stop-color="#0036ff"/><stop offset=".55" stop-color="#0046ff"/><stop offset=".6" stop-color="#0056ff"/><stop offset=".65" stop-color="#06f"/><stop offset=".7" stop-color="#07f"/><stop offset=".75" stop-color="#0089ff"/><stop offset=".8" stop-color="#009aff"/><stop offset=".85" stop-color="#00acff"/><stop offset=".9" stop-color="#00beff"/><stop offset=".95" stop-color="#00d1ff"/><stop offset="1" stop-color="#00e4ff"/></linearGradient>
<linearGradient id="g203"><stop offset="0" stop-color="#0000ac"/><stop offset=".05" stop-color="#0000b7"/><stop offset=".1" stop-color="#0000c3"/><stop offset=".15" stop-color="#0000d0"/><stop offset=".2" stop-color="#00d"/><stop offset=".25" stop-color="#0000ea"/><stop offset=".3" stop-color="#0000f8"/><stop offset=".324" stop-color="#00f"/><stop offset=".35" stop-color="#0007ff"/><stop offset=".4" stop-color="#0016ff"/><stop offset=".45" stop-color="#0025ff"/><stop offset=".5" stop-color="#0034ff"/><stop offset=".55" stop-color="#04f"/><stop offset=".6" stop-color="#0054ff"/><stop offset=".65" stop-color="#0064ff"/><stop offset=".7" stop-color="#0075ff"/><stop offset=".75" stop-color="#0086ff"/><stop offset=".8" stop-color="#0098ff"/><stop offset=".85" stop-color="#00a9ff"/><stop offset=".9" stop-color="#00bcff"/><stop offset=".95" stop-color="#00ceff"/><stop offset="1" stop-color="#00e1ff"/></linearGradient>
<linearGradient id="g204"><stop offset="0" stop-color="#0000ab"/><stop offset=".05" stop-color="#0000b6"/><stop offset=".1" stop-color="#0000c2"/><stop offset=".15" stop-color="#0000cf"/><stop offset=".2" stop-color="#0000dc"/><stop offset=".25" stop-color="#0000e9"/><stop offset=".3" stop-color="#0000f7"/><stop offset=".33" stop-color="#00f"/><stop offset=".35" stop-color="#0006ff"/><stop offset=".4" stop-color="#0014ff"/><stop offset=".45" stop-color="#0023ff"/><stop offset=".5" stop-color="#0032ff"/><stop offset=".55" stop-color="#0042ff"/><stop offset=".6" stop-color="#0052ff"/><stop offset=".65" stop-color="#0062ff"/><stop offset=".7" stop-color="#0073ff"/><stop offset=".75" stop-color="#0084ff"/><stop offset=".8" stop-color="#0095ff"/><stop offset=".85" stop-color="#00a7ff"/><stop offset=".9" stop-color="#00b9ff"/><stop offset=".95" stop-color="#00cbff"/><stop offset="1" stop-color="#00deff"/></linearGradient>
<linearGradient id="g205"><stop offset="0" stop-color="#00a"/><stop offset=".05" stop-color="#0000b5"/><stop offset=".1" stop-color="#0000c1"/><stop offset=".15" stop-color="#0000ce"/><stop offset=".2" stop-color="#0000da"/><stop offset=".25" stop-color="#0000e8"/><stop offset=".3" stop-color="#0000f5"/><stop offset=".335" stop-color="#00f"/><stop offset=".35" stop-color="#0004ff"/><stop offset=".4" stop-color="#0012ff"/><stop offset=".45" stop-color="#0021ff"/><stop offset=".5" stop-color="#0030ff"/><stop offset=".55" stop-color="#0040ff"/><stop offset=".6" stop-color="#0050ff"/><stop offset=".65" stop-color="#0060ff"/><stop offset=".7" stop-color="#0070ff"/><stop offset=".75" stop-color="#0081ff"/><stop offset=".8" stop-color="#0092ff"/><stop offset=".85" stop-color="#00a4ff"/><stop offset=".9" stop-color="#00b6ff"/><stop offset=".95" stop-color="#00c8ff"/><stop offset="1" stop-color="#00dbff"/></linearGradient>
<linearGradient id="g206"><stop offset="0" stop-color="#0000a9"/><stop offset=".05" stop-color="#0000b4"/><stop offset=".1" stop-color="#0000c0"/><stop offset=".15" stop-color="#00c"/><stop offset=".2" stop-color="#0000d9"/><stop offset=".25" stop-color="#0000e6"/><stop offset=".3" stop-color="#0000f4"/><stop offset=".341" stop-color="#00f"/><stop offset=".35" stop-color="#0003ff"/><stop offset=".4" stop-color="#01f"/><stop offset=".45" stop-color="#001fff"/><stop offset=".5" stop-color="#002eff"/><stop offset=".55" stop-color="#003eff"/><stop offset=".6" stop-color="#004dff"/><stop offset=".65" stop-color="#005dff"/><stop offset=".7" stop-color="#006eff"/><stop offset=".75" stop-color="#007fff"/><stop offset=".8" stop-color="#0090ff"/><stop offset=".85" stop-color="#00a1ff"/><stop offset=".9" stop-color="#00b3ff"/><stop offset=".95" stop-color="#00c5ff"/><stop offset="1" stop-color="#00d8ff"/></linearGradient>
<linearGradient id="g207"><stop offset="0" stop-color="#0000a8"/><stop offset=".05" stop-color="#0000b3"/><stop offset=".1" stop-color="#0000bf"/><stop offset=".15" stop-color="#0000cb"/><stop offset=".2" stop-color="#0000d8"/><stop offset=".25" stop-color="#0000e5"/><stop offset=".3" stop-color="#0000f2"/><stop offset=".347" stop-color="#00f"/><stop offset=".35" stop-color="#0001ff"/><stop offset=".4" stop-color="#000fff"/><stop offset=".45" stop-color="#001eff"/><stop offset=".5" stop-color="#002cff"/><stop offset=".55" stop-color="#003cff"/><stop offset=".6" stop-color="#004bff"/><stop offset=".65" stop-color="#005bff"/><stop offset=".7" stop-color="#006cff"/><stop offset=".75" stop-color="#007cff"/><stop offset=".8" stop-color="#008dff"/><stop offset=".85" stop-color="#009eff"/><stop offset=".9" stop-color="#00b0ff"/><stop offset=".95" stop-color="#00c2ff"/><stop offset="1" stop-color="#00d5ff"/></linearGradient>
<linearGradient id="g208"><stop offset="0" stop-color="#0000a7"/><stop offset=".05" stop-color="#0000b2"/><stop offset=".1" stop-color="#0000be"/><stop offset=".15" stop-color="#0000ca"/><stop offset=".2" stop-color="#0000d7"/><stop offset=".25" stop-color="#0000e3"/><stop offset=".3" stop-color="#0000f1"/><stop offset=".35" stop-color="#0000fe"/><stop offset=".352" stop-color="#00f"/><stop offset=".4" stop-color="#000dff"/><stop offset=".45" stop-color="#001cff"/><stop offset=".5" stop-color="#002bff"/><stop offset=".55" stop-color="#003aff"/><stop offset=".6" stop-color="#0049ff"/><stop offset=".65" stop-color="#0059ff"/><stop offset=".7" stop-color="#0069ff"/><stop offset=".75" stop-color="#007aff"/><stop offset=".8" stop-color="#008bff"/><stop offset=".85" stop-color="#009cff"/><stop offset=".9" stop-color="#00adff"/><stop offset=".95" stop-color="#00bfff"/><stop offset="1" stop-color="#00d1ff"/></linearGradient>
<linearGradient id="g209"><stop offset="0" stop-color="#0000a6"/><stop offset=".05" stop-color="#0000b1"/><stop offset=".1" stop-color="#0000bd"/><stop offset=".15" stop-color="#0000c9"/><stop offset=".2" stop-color="#0000d5"/><stop offset=".25" stop-color="#0000e2"/><stop offset=".3" stop-color="#0000ef"/><stop offset=".35" stop-color="#0000fd"/><stop offset=".358" stop-color="#00f"/><stop offset=".4" stop-color="#000cff"/><stop offset=".45" stop-color="#001aff"/><stop offset=".5" stop-color="#0029ff"/><stop offset=".55" stop-color="#0038ff"/><stop offset=".6" stop-color="#0047ff"/><stop offset=".65" stop-color="#0057ff"/><stop offset=".7" stop-color="#0067ff"/><stop offset=".75" stop-color="#07f"/><stop offset=".8" stop-color="#08f"/><stop offset=".85" stop-color="#09f"/><stop offset=".9" stop-color="#0af"/><stop offset=".95" stop-color="#00bcff"/><stop offset="1" stop-color="#00ceff"/></linearGradient>
<linearGradient id="g210"><stop offset="0" stop-color="#0000a5"/><stop offset=".05" stop-color="#0000b0"/><stop offset=".1" stop-color="#0000bc"/><stop offset=".15" stop-color="#0000c8"/><stop offset=".2" stop-color="#0000d4"/><stop offset=".25" stop-color="#0000e1"/><stop offset=".3" stop-color="#00e"/><stop offset=".35" stop-color="#0000fb"/><stop offset=".364" stop-color="#00f"/><stop offset=".4" stop-color="#000aff"/><stop offset=".45" stop-color="#0018ff"/><stop offset=".5" stop-color="#0027ff"/><stop offset=".55" stop-color="#0036ff"/><stop offset=".6" stop-color="#0045ff"/><stop offset=".65" stop-color="#05f"/><stop offset=".7" stop-color="#0064ff"/><stop offset=".75" stop-color="#0075ff"/><stop offset=".8" stop-color="#0085ff"/><stop offset=".85" stop-color="#0096ff"/><stop offset=".9" stop-color="#00a8ff"/><stop offset=".95" stop-color="#00b9ff"/><stop offset="1" stop-color="#00cbff"/></linearGradient>
<linearGradient id="g211"><stop offset="0" stop-color="#0000a4"/><stop offset=".05" stop-color="#0000af"/><stop offset=".1" stop-color="#00b"/><stop offset=".15" stop-color="#0000c6"/><stop offset=".2" stop-color="#0000d3"/><stop offset=".25" stop-color="#0000df"/><stop offset=".3" stop-color="#0000ec"/><stop offset=".35" stop-color="#0000fa"/><stop offset=".37" stop-color="#00f"/><stop offset=".4" stop-color="#0008ff"/><stop offset=".45" stop-color="#0016ff"/><stop offset=".5" stop-color="#0025ff"/><stop offset=".55" stop-color="#0034ff"/><stop offset=".6" stop-color="#0043ff"/><stop offset=".65" stop-color="#0052ff"/><stop offset=".7" stop-color="#0062ff"/><stop offset=".75" stop-color="#0072ff"/><stop offset=".8" stop-color="#0083ff"/><stop offset=".85" stop-color="#0094ff"/><stop offset=".9" stop-color="#00a5ff"/><stop offset=".95" stop-color="#00b6ff"/><stop offset="1" stop-color="#00c8ff"/></linearGradient>
<linearGradient id="g212"><stop offset="0" stop-color="#0000a3"/><stop offset=".05" stop-color="#0000ae"/><stop offset=".1" stop-color="#0000b9"/><stop offset=".15" stop-color="#0000c5"/><stop offset=".2" stop-color="#0000d1"/><stop offset=".25" stop-color="#0000de"/><stop offset=".3" stop-color="#0000eb"/><stop offset=".35" stop-color="#0000f8"/><stop offset=".376" stop-color="#00f"/><stop offset=".4" stop-color="#0007ff"/><stop offset=".45" stop-color="#0015ff"/><stop offset=".5" stop-color="#0023ff"/><stop offset=".55" stop-color="#0032ff"/><stop offset=".6" stop-color="#0041ff"/><stop offset=".65" stop-color="#0050ff"/><stop offset=".7" stop-color="#0060ff"/><stop offset=".75" stop-color="#0070ff"/><stop offset=".8" stop-color="#0080ff"/><stop offset=".85" stop-color="#0091ff"/><stop offset=".9" stop-color="#00a2ff"/><stop offset=".95" stop-color="#00b3ff"/><stop offset="1" stop-color="#00c5ff"/></linearGradient>
<linearGradient id="g213"><stop offset="0" stop-color="#0000a2"/><stop offset=".05" stop-color="#0000ad"/><stop offset=".1" stop-color="#0000b8"/><stop offset=".15" stop-color="#0000c4"/><stop offset=".2" stop-color="#0000d0"/><stop offset=".25" stop-color="#00d"/><stop offset=".3" stop-color="#0000e9"/><stop offset=".35" stop-color="#0000f7"/><stop offset=".381" stop-color="#00f"/><stop offset=".4" stop-color="#0005ff"/><stop offset=".45" stop-color="#0013ff"/><stop offset=".5" stop-color="#0021ff"/><stop offset=".55" stop-color="#0030ff"/><stop offset=".6" stop-color="#003fff"/><stop offset=".65" stop-color="#004eff"/><stop offset=".7" stop-color="#005dff"/><stop offset=".75" stop-color="#006dff"/><stop offset=".8" stop-color="#007eff"/><stop offset=".85" stop-color="#008eff"/><stop offset=".9" stop-color="#009fff"/><stop offset=".95" stop-color="#00b0ff"/><stop offset="1" stop-color="#00c2ff"/></linearGradient>
<linearGradient id="g214"><stop offset="0" stop-color="#0000a1"/><stop offset=".05" stop-color="#0000ac"/><stop offset=".1" stop-color="#0000b7"/><stop offset=".15" stop-color="#0000c3"/><stop offset=".2" stop-color="#0000cf"/><stop offset=".25" stop-color="#0000db"/><stop offset=".3" stop-color="#0000e8"/><stop offset=".35" stop-color="#0000f5"/><stop offset=".388" stop-color="#00f"/><stop offset=".4" stop-color="#0003ff"/><stop offset=".45" stop-color="#01f"/><stop offset=".5" stop-color="#001fff"/><stop offset=".55" stop-color="#002eff"/><stop offset=".6" stop-color="#003dff"/><stop offset=".65" stop-color="#004cff"/><stop offset=".7" stop-color="#005bff"/><stop offset=".75" stop-color="#006bff"/><stop offset=".8" stop-color="#007bff"/><stop offset=".85" stop-color="#008cff"/><stop offset=".9" stop-color="#009cff"/><stop offset=".95" stop-color="#00adff"/><stop offset="1" stop-color="#00bfff"/></linearGradient>
<linearGradient id="g215"><stop offset="0" stop-color="#0000a0"/><stop offset=".05" stop-color="#0000ab"/><stop offset=".1" stop-color="#0000b6"/><stop offset=".15" stop-color="#0000c2"/><stop offset=".2" stop-color="#0000ce"/><stop offset=".25" stop-color="#0000da"/><stop offset=".3" stop-color="#0000e6"/><stop offset=".35" stop-color="#0000f3"/><stop offset=".394" stop-color="#00f"/><stop offset=".4" stop-color="#0002ff"/><stop offset=".45" stop-color="#000fff"/><stop offset=".5" stop-color="#001dff"/><stop offset=".55" stop-color="#002cff"/><stop offset=".6" stop-color="#003aff"/><stop offset=".65" stop-color="#0049ff"/><stop offset=".7" stop-color="#0059ff"/><stop offset=".75" stop-color="#0068ff"/><stop offset=".8" stop-color="#0079ff"/><stop offset=".85" stop-color="#0089ff"/><stop offset=".9" stop-color="#009aff"/><stop offset=".95" stop-color="#0af"/><stop offset="1" stop-color="#00bcff"/></linearGradient>
<linearGradient id="g216"><stop offset="0" stop-color="#00009f"/><stop offset=".05" stop-color="#00a"/><stop offset=".1" stop-color="#0000b5"/><stop offset=".15" stop-color="#0000c0"/><stop offset=".2" stop-color="#00c"/><stop offset=".25" stop-color="#0000d8"/><stop offset=".3" stop-color="#0000e5"/><stop offset=".35" stop-color="#0000f2"/><stop offset=".4" stop-color="#00f"/><stop offset=".45" stop-color="#000eff"/><stop offset=".5" stop-color="#001bff"/><stop offset=".55" stop-color="#002aff"/><stop offset=".6" stop-color="#0038ff"/><stop offset=".65" stop-color="#0047ff"/><stop offset=".7" stop-color="#0056ff"/><stop offset=".75" stop-color="#06f"/><stop offset=".8" stop-color="#0076ff"/><stop offset=".85" stop-color="#0086ff"/><stop offset=".9" stop-color="#0097ff"/><stop offset=".95" stop-color="#00a8ff"/><stop offset="1" stop-color="#00b9ff"/></linearGradient>
<linearGradient id="g217"><stop offset="0" stop-color="#00009e"/><stop offset=".05" stop-color="#0000a9"/><stop offset=".1" stop-color="#0000b4"/><stop offset=".15" stop-color="#0000bf"/><stop offset=".2" stop-color="#0000cb"/><stop offset=".25" stop-color="#0000d7"/><stop offset=".3" stop-color="#0000e4"/><stop offset=".35" stop-color="#0000f0"/><stop offset=".4" stop-color="#0000fd"/><stop offset=".406" stop-color="#00f"/><stop offset=".45" stop-color="#000cff"/><stop offset=".5" stop-color="#001aff"/><stop offset=".55" stop-color="#0028ff"/><stop offset=".6" stop-color="#0036ff"/><stop offset=".65" stop-color="#0045ff"/><stop offset=".7" stop-color="#0054ff"/><stop offset=".75" stop-color="#0064ff"/><stop offset=".8" stop-color="#0073ff"/><stop offset=".85" stop-color="#0084ff"/><stop offset=".9" stop-color="#0094ff"/><stop offset=".95" stop-color="#00a5ff"/><stop offset="1" stop-color="#00b6ff"/></linearGradient>
<linearGradient id="cb" x1="0" y1="0" x2="0" y2="1"><stop offset="0" stop-color="#800000"/><stop offset=".125" stop-color="#f00"/><stop offset=".375" stop-color="#ff0"/><stop offset=".625" stop-color="#0ff"/><stop offset=".875" stop-color="#00f"/><stop offset="1" stop-color="#000080"/></linearGradient>
</defs>
<rect x="374.8" y="16.80" width="231.5" height="0.20" fill="url(#g0)"/>
<rect x="374.8" y="17.00" width="231.5" height="1.00" fill="url(#g1)"/>
<rect x="374.8" y="18.00" width="231.5" height="1.00" fill="url(#g2)"/>
<rect x="374.8" y="19.00" width="231.5" height="1.00" fill="url(#g3)"/>
<rect x="374.8" y="20.00" width="231.5" height="1.00" fill="url(#g4)"/>
<rect x="374.8" y="21.00" width="231.5" height="1.00" fill="url(#g5)"/>
<rect x="374.8" y="22.00" width="231.5" height="1.00" fill="url(#g6)"/>
<rect x="374.8" y="23.00" width="231.5" height="1.00" fill="url(#g7)"/>
<rect x="374.8" y="24.00" width="231.5" height="1.00" fill="url(#g8)"/>
<rect x="374.8" y="25.00" width="231.5" height="1.00" fill="url(#g9)"/>
<rect x="374.8" y="26.00" width="231.5" height="1.00" fill="url(#g10)"/>
<rect x="374.8" y="27.00" width="231.5" height="1.00" fill="url(#g11)"/>
<rect x="374.8" y="28.00" width="231.5" height="1.00" fill="url(#g12)"/>
<rect x="374.8" y="29.00" width="231.5" height="1.00" fill="url(#g13)"/>
<rect x="374.8" y="30.00" width="231.5" height="1.00" fill="url(#g14)"/>
<rect x="374.8" y="31.00" width="231.5" height="1.00" fill="url(#g15)"/>
<rect x="374.8" y="32.00" width="231.5" height="1.00" fill="url(#g16)"/>
<rect x="374.8" y="33.00" width="231.5" height="1.00" fill="url(#g17)"/>
<rect x="374.8" y="34.00" width="231.5" height="1.00" fill="url(#g18)"/>
<rect x="374.8" y="35.00" width="231.5" height="1.00" fill="url(#g19)"/>
<rect x="374.8" y="36.00" width="231.5" height="1.00" fill="url(#g20)"/>
<rect x="374.8" y="37.00" width="231.5" height="1.00" fill="url(#g21)"/>
<rect x="374.8" y="38.00" width="231.5" height="1.00" fill="url(#g22)"/>
<rect x="374.8" y="39.00" width="231.5" height="1.00" fill="url(#g23)"/>
<rect x="374.8" y="40.00" width="231.5" height="1.00" fill="url(#g24)"/>
<rect x="374.8" y="41.00" width="231.5" height="1.00" fill="url(#g25)"/>
<rect x="374.8" y="42.00" width="231.5" height="1.00" fill="url(#g26)"/>
<rect x="374.8" y="43.00" width="231.5" height="1.00" fill="url(#g27)"/>
<rect x="374.8" y="44.00" width="231.5" height="1.00" fill="url(#g28)"/>
<rect x="374.8" y="45.00" width="231.5" height="1.00" fill="url(#g29)"/>
<rect x="374.8" y="46.00" width="231.5" height="1.00" fill="url(#g30)"/>
<rect x="374.8" y="47.00" width="231.5" height="1.00" fill="url(#g31)"/>
<rect x="374.8" y="48.00" width="231.5" height="1.00" fill="url(#g32)"/>
<rect x="374.8" y="49.00" width="231.5" height="1.00" fill="url(#g33)"/>
<rect x="374.8" y="50.00" width="231.5" height="1.00" fill="url(#g34)"/>
<rect x="374.8" y="51.00" width="231.5" height="1.00" fill="url(#g35)"/>
<rect x="374.8" y="52.00" width="231.5" height="1.00" fill="url(#g36)"/>
<rect x="374.8" y="53.00" width="231.5" height="1.00" fill="url(#g37)"/>
<rect x="374.8" y="54.00" width="231.5" height="1.00" fill="url(#g38)"/>
<rect x="374.8" y="55.00" width="231.5" height="1.00" fill="url(#g39)"/>
<rect x="374.8" y="56.00" width="231.5" height="1.00" fill="url(#g40)"/>
<rect x="374.8" y="57.00" width="231.5" height="1.00" fill="url(#g41)"/>
<rect x="374.8" y="58.00" width="231.5" height="1.00" fill="url(#g42)"/>
<rect x="374.8" y="59.00" width="231.5" height="1.00" fill="url(#g43)"/>
<rect x="374.8" y="60.00" width="231.5" height="1.00" fill="url(#g44)"/>
<rect x="374.8" y="61.00" width="231.5" height="1.00" fill="url(#g45)"/>
<rect x="374.8" y="62.00" width="231.5" height="1.00" fill="url(#g46)"/>
<rect x="374.8" y="63.00" width="231.5" height="1.00" fill="url(#g47)"/>
<rect x="374.8" y="64.00" width="231.5" height="1.00" fill="url(#g48)"/>
<rect x="374.8" y="65.00" width="231.5" height="1.00" fill="url(#g49)"/>
<rect x="374.8" y="66.00" width="231.5" height="1.00" fill="url(#g50)"/>
<rect x="374.8" y="67.00" width="231.5" height="1.00" fill="url(#g51)"/>
<rect x="374.8" y="68.00" width="231.5" height="1.00" fill="url(#g52)"/>
<rect x="374.8" y="69.00" width="231.5" height="1.00" fill="url(#g53)"/>
<rect x="374.8" y="70.00" width="231.5" height="1.00" fill="url(#g54)"/>
<rect x="374.8" y="71.00" width="231.5" height="1.00" fill="url(#g55)"/>
<rect x="374.8" y="72.00" width="231.5" height="1.00" fill="url(#g56)"/>
<rect x="374.8" y="73.00" width="231.5" height="1.00" fill="url(#g57)"/>
<rect x="374.8" y="74.00" width="231.5" height="1.00" fill="url(#g58)"/>
<rect x="374.8" y="75.00" width="231.5" height="1.00" fill="url(#g59)"/>
<rect x="374.8" y="76.00" width="231.5" height="1.00" fill="url(#g60)"/>
<rect x="374.8" y="77.00" width="231.5" height="1.00" fill="url(#g61)"/>
<rect x="374.8" y="78.00" width="231.5" height="1.00" fill="url(#g62)"/>
<rect x="374.8" y="79.00" width="231.5" height="1.00" fill="url(#g63)"/>
<rect x="374.8" y="80.00" width="231.5" height="1.00" fill="url(#g64)"/>
<rect x="374.8" y="81.00" width="231.5" height="1.00" fill="url(#g65)"/>
<rect x="374.8" y="82.00" width="231.5" height="1.00" fill="url(#g66)"/>
<rect x="374.8" y="83.00" width="231.5" height="1.00" fill="url(#g67)"/>
<rect x="374.8" y="84.00" width="231.5" height="1.00" fill="url(#g68)"/>
<rect x="374.8" y="85.00" width="231.5" height="1.00" fill="url(#g69)"/>
<rect x="374.8" y="86.00" width="231.5" height="1.00" fill="url(#g70)"/>
<rect x="374.8" y="87.00" width="231.5" height="1.00" fill="url(#g71)"/>
<rect x="374.8" y="88.00" width="231.5" height="1.00" fill="url(#g72)"/>
<rect x="374.8" y="89.00" width="231.5" height="1.00" fill="url(#g73)"/>
<rect x="374.8" y="90.00" width="231.5" height="1.00" fill="url(#g74)"/>
<rect x="374.8" y="91.00" width="231.5" height="1.00" fill="url(#g75)"/>
<rect x="374.8" y="92.00" width="231.5" height="1.00" fill="url(#g76)"/>
<rect x="374.8" y="93.00" width="231.5" height="1.00" fill="url(#g77)"/>
<rect x="374.8" y="94.00" width="231.5" height="1.00" fill="url(#g78)"/>
<rect x="374.8" y="95.00" width="231.5" height="1.00" fill="url(#g79)"/>
<rect x="374.8" y="96.00" width="231.5" height="1.00" fill="url(#g80)"/>
<rect x="374.8" y="97.00" width="231.5" height="1.00" fill="url(#g81)"/>
<rect x="374.8" y="98.00" width="231.5" height="1.00" fill="url(#g82)"/>
<rect x="374.8" y="99.00" width="231.5" height="1.00" fill="url(#g83)"/>
<rect x="374.8" y="100.00" width="231.5" height="1.00" fill="url(#g84)"/>
<rect x="374.8" y="101.00" width="231.5" height="1.00" fill="url(#g85)"/>
<rect x="374.8" y="102.00" width="231.5" height="1.00" fill="url(#g86)"/>
<rect x="374.8" y="103.00" width="231.5" height="1.00" fill="url(#g87)"/>
<rect x="374.8" y="104.00" width="231.5" height="1.00" fill="url(#g88)"/>
<rect x="374.8" y="105.00" width="231.5" height="1.00" fill="url(#g89)"/>
<rect x="374.8" y="106.00" width="231.5" height="1.00" fill="url(#g90)"/>
<rect x="374.8" y="107.00" width="231.5" height="1.00" fill="url(#g91)"/>
<rect x="374.8" y="108.00" width="231.5" height="1.00" fill="url(#g92)"/>
<rect x="374.8" y="109.00" width="231.5" height="1.00" fill="url(#g93)"/>
<rect x="374.8" y="110.00" width="231.5" height="1.00" fill="url(#g94)"/>
<rect x="374.8" y="111.00" width="231.5" height="1.00" fill="url(#g95)"/>
<rect x="374.8" y="112.00" width="231.5" height="1.00" fill="url(#g96)"/>
<rect x="374.8" y="113.00" width="231.5" height="1.00" fill="url(#g97)"/>
<rect x="374.8" y="114.00" width="231.5" height="1.00" fill="url(#g98)"/>
<rect x="374.8" y="115.00" width="231.5" height="1.00" fill="url(#g99)"/>
<rect x="374.8" y="116.00" width="231.5" height="1.00" fill="url(#g100)"/>
<rect x="374.8" y="117.00" width="231.5" height="1.00" fill="url(#g101)"/>
<rect x="374.8" y="118.00" width="231.5" height="1.00" fill="url(#g102)"/>
<rect x="374.8" y="119.00" width="231.5" height="1.00" fill="url(#g103)"/>
<rect x="374.8" y="120.00" width="231.5" height="1.00" fill="url(#g104)"/>
<rect x="374.8" y="121.00" width="231.5" height="1.00" fill="url(#g105)"/>
<rect x="374.8" y="122.00" width="231.5" height="1.00" fill="url(#g106)"/>
<rect x="374.8" y="123.00" width="231.5" height="1.00" fill="url(#g107)"/>
<rect x="374.8" y="124.00" width="231.5" height="1.00" fill="url(#g108)"/>
<rect x="374.8" y="125.00" width="231.5" height="1.00" fill="url(#g109)"/>
<rect x="374.8" y="126.00" width="231.5" height="1.00" fill="url(#g110)"/>
<rect x="374.8" y="127.00" width="231.5" height="1.00" fill="url(#g111)"/>
<rect x="374.8" y="128.00" width="231.5" height="1.00" fill="url(#g112)"/>
<rect x="374.8" y="129.00" width="231.5" height="1.00" fill="url(#g113)"/>
<rect x="374.8" y="130.00" width="231.5" height="1.00" fill="url(#g114)"/>
<rect x="374.8" y="131.00" width="231.5" height="1.00" fill="url(#g115)"/>
<rect x="374.8" y="132.00" width="231.5" height="1.00" fill="url(#g116)"/>
<rect x="374.8" y="133.00" width="231.5" height="1.00" fill="url(#g117)"/>
<rect x="374.8" y="134.00" width="231.5" height="1.00" fill="url(#g118)"/>
<rect x="374.8" y="135.00" width="231.5" height="1.00" fill="url(#g119)"/>
<rect x="374.8" y="136.00" width="231.5" height="1.00" fill="url(#g120)"/>
<rect x="374.8" y="137.00" width="231.5" height="1.00" fill="url(#g121)"/>
<rect x="374.8" y="138.00" width="231.5" height="1.00" fill="url(#g122)"/>
<rect x="374.8" y="139.00" width="231.5" height="1.00" fill="url(#g123)"/>
<rect x="374.8" y="140.00" width="231.5" height="1.00" fill="url(#g124)"/>
<rect x="374.8" y="141.00" width="231.5" height="1.00" fill="url(#g125)"/>
<rect x="374.8" y="142.00" width="231.5" height="1.00" fill="url(#g126)"/>
<rect x="374.8" y="143.00" width="231.5" height="1.00" fill="url(#g127)"/>
<rect x="374.8" y="144.00" width="231.5" height="1.00" fill="url(#g128)"/>
<rect x="374.8" y="145.00" width="231.5" height="1.00" fill="url(#g129)"/>
<rect x="374.8" y="146.00" width="231.5" height="1.00" fill="url(#g130)"/>
<rect x="374.8" y="147.00" width="231.5" height="1.00" fill="url(#g131)"/>
<rect x="374.8" y="148.00" width="231.5" height="1.00" fill="url(#g132)"/>
<rect x="374.8" y="149.00" width="231.5" height="1.00" fill="url(#g133)"/>
<rect x="374.8" y="150.00" width="231.5" height="1.00" fill="url(#g134)"/>
<rect x="374.8" y="151.00" width="231.5" height="1.00" fill="url(#g135)"/>
<rect x="374.8" y="152.00" width="231.5" height="1.00" fill="url(#g136)"/>
<rect x="374.8" y="153.00" width="231.5" height="1.00" fill="url(#g137)"/>
<rect x="374.8" y="154.00" width="231.5" height="1.00" fill="url(#g138)"/>
<rect x="374.8" y="155.00" width="231.5" height="1.00" fill="url(#g139)"/>
<rect x="374.8" y="156.00" width="231.5" height="1.00" fill="url(#g140)"/>
<rect x="374.8" y="157.00" width="231.5" height="1.00" fill="url(#g141)"/>
<rect x="374.8" y="158.00" width="231.5" height="1.00" fill="url(#g142)"/>
<rect x="374.8" y="159.00" width="231.5" height="1.00" fill="url(#g143)"/>
<rect x="374.8" y="160.00" width="231.5" height="1.00" fill="url(#g144)"/>
<rect x="374.8" y="161.00" width="231.5" height="1.00" fill="url(#g145)"/>
<rect x="374.8" y="162.00" width="231.5" height="1.00" fill="url(#g146)"/>
<rect x="374.8" y="163.00" width="231.5" height="1.00" fill="url(#g147)"/>
<rect x="374.8" y="164.00" width="231.5" height="1.00" fill="url(#g148)"/>
<rect x="374.8" y="165.00" width="231.5" height="1.00" fill="url(#g149)"/>
<rect x="374.8" y="166.00" width="231.5" height="1.00" fill="url(#g150)"/>
<rect x="374.8" y="167.00" width="231.5" height="1.00" fill="url(#g151)"/>
<rect x="374.8" y="168.00" width="231.5" height="1.00" fill="url(#g152)"/>
<rect x="374.8" y="169.00" width="231.5" height="1.00" fill="url(#g153)"/>
<rect x="374.8" y="170.00" width="231.5" height="1.00" fill="url(#g154)"/>
<rect x="374.8" y="171.00" width="231.5" height="1.00" fill="url(#g155)"/>
<rect x="374.8" y="172.00" width="231.5" height="1.00" fill="url(#g156)"/>
<rect x="374.8" y="173.00" width="231.5" height="1.00" fill="url(#g157)"/>
<rect x="374.8" y="174.00" width="231.5" height="1.00" fill="url(#g158)"/>
<rect x="374.8" y="175.00" width="231.5" height="1.00" fill="url(#g159)"/>
<rect x="374.8" y="176.00" width="231.5" height="1.00" fill="url(#g160)"/>
<rect x="374.8" y="177.00" width="231.5" height="1.00" fill="url(#g161)"/>
<rect x="374.8" y="178.00" width="231.5" height="1.00" fill="url(#g162)"/>
<rect x="374.8" y="179.00" width="231.5" height="1.00" fill="url(#g163)"/>
<rect x="374.8" y="180.00" width="231.5" height="1.00" fill="url(#g164)"/>
<rect x="374.8" y="181.00" width="231.5" height="1.00" fill="url(#g165)"/>
<rect x="374.8" y="182.00" width="231.5" height="1.00" fill="url(#g166)"/>
<rect x="374.8" y="183.00" width="231.5" height="1.00" fill="url(#g167)"/>
<rect x="374.8" y="184.00" width="231.5" height="1.00" fill="url(#g168)"/>
<rect x="374.8" y="185.00" width="231.5" height="1.00" fill="url(#g169)"/>
<rect x="374.8" y="186.00" width="231.5" height="1.00" fill="url(#g170)"/>
<rect x="374.8" y="187.00" width="231.5" height="1.00" fill="url(#g171)"/>
<rect x="374.8" y="188.00" width="231.5" height="1.00" fill="url(#g172)"/>
<rect x="374.8" y="189.00" width="231.5" height="1.00" fill="url(#g173)"/>
<rect x="374.8" y="190.00" width="231.5" height="1.00" fill="url(#g174)"/>
<rect x="374.8" y="191.00" width="231.5" height="1.00" fill="url(#g175)"/>
<rect x="374.8" y="192.00" width="231.5" height="1.00" fill="url(#g176)"/>
<rect x="374.8" y="193.00" width="231.5" height="1.00" fill="url(#g177)"/>
<rect x="374.8" y="194.00" width="231.5" height="1.00" fill="url(#g178)"/>
<rect x="374.8" y="195.00" width="231.5" height="1.00" fill="url(#g179)"/>
<rect x="374.8" y="196.00" width="231.5" height="1.00" fill="url(#g180)"/>
<rect x="374.8" y="197.00" width="231.5" height="1.00" fill="url(#g181)"/>
<rect x="374.8" y="198.00" width="231.5" height="1.00" fill="url(#g182)"/>
<rect x="374.8" y="199.00" width="231.5" height="1.00" fill="url(#g183)"/>
<rect x="374.8" y="200.00" width="231.5" height="1.00" fill="url(#g184)"/>
<rect x="374.8" y="201.00" width="231.5" height="1.00" fill="url(#g185)"/>
<rect x="374.8" y="202.00" width="231.5" height="1.00" fill="url(#g186)"/>
<rect x="374.8" y="203.00" width="231.5" height="1.00" fill="url(#g187)"/>
<rect x="374.8" y="204.00" width="231.5" height="1.00" fill="url(#g188)"/>
<rect x="374.8" y="205.00" width="231.5" height="1.00" fill="url(#g189)"/>
<rect x="374.8" y="206.00" width="231.5" height="1.00" fill="url(#g190)"/>
<rect x="374.8" y="207.00" width="231.5" height="1.00" fill="url(#g191)"/>
<rect x="374.8" y="208.00" width="231.5" height="1.00" fill="url(#g192)"/>
<rect x="374.8" y="209.00" width="231.5" height="1.00" fill="url(#g193)"/>
<rect x="374.8" y="210.00" width="231.5" height="1.00" fill="url(#g194)"/>
<rect x="374.8" y="211.00" width="231.5" height="1.00" fill="url(#g195)"/>
<rect x="374.8" y="212.00" width="231.5" height="1.00" fill="url(#g196)"/>
<rect x="374.8" y="213.00" width="231.5" height="1.00" fill="url(#g197)"/>
<rect x="374.8" y="214.00" width="231.5" height="1.00" fill="url(#g198)"/>
<rect x="374.8" y="215.00" width="231.5" height="1.00" fill="url(#g199)"/>
<rect x="374.8" y="216.00" width="231.5" height="1.00" fill="url(#g200)"/>
<rect x="374.8" y="217.00" width="231.5" height="1.00" fill="url(#g201)"/>
<rect x="374.8" y="218.00" width="231.5" height="1.00" fill="url(#g202)"/>
<rect x="374.8" y="219.00" width="231.5" height="1.00" fill="url(#g203)"/>
<rect x="374.8" y="220.00" width="231.5" height="1.00" fill="url(#g204)"/>
<rect x="374.8" y="221.00" width="231.5" height="1.00" fill="url(#g205)"/>
<rect x="374.8" y="222.00" width="231.5" height="1.00" fill="url(#g206)"/>
<rect x="374.8" y="223.00" width="231.5" height="1.00" fill="url(#g207)"/>
<rect x="374.8" y="224.00" width="231.5" height="1.00" fill="url(#g208)"/>
<rect x="374.8" y="225.00" width="231.5" height="1.00" fill="url(#g209)"/>
<rect x="374.8" y="226.00" width="231.5" height="1.00" fill="url(#g210)"/>
<rect x="374.8" y="227.00" width="231.5" height="1.00" fill="url(#g211)"/>
<rect x="374.8" y="228.00" width="231.5" height="1.00" fill="url(#g212)"/>
<rect x="374.8" y="229.00" width="231.5" height="1.00" fill="url(#g213)"/>
<rect x="374.8" y="230.00" width="231.5" height="1.00" fill="url(#g214)"/>
<rect x="374.8" y="231.00" width="231.5" height="1.00" fill="url(#g215)"/>
<rect x="374.8" y="232.00" width="231.5" height="1.00" fill="url(#g216)"/>
<rect x="374.8" y="233.00" width="231.5" height="0.90" fill="url(#g217)"/>
<path d="M374.7 16V234.7M606.7 227.8V234.7" stroke="#000" stroke-width="1.05" fill="none"/><path d="M374.2 234.25H607.25M374.2 16.4H381.05" stroke="#000" stroke-width="0.9" fill="none"/>
<rect x="621.4" y="18.3" width="13.5" height="214.6" fill="url(#cb)" stroke="#3a3a3a" stroke-width="0.6"/>
<text x="639" y="44.55" font-size="12.05">3</text>
<text x="639" y="82.83" font-size="12.05">2.5</text>
<text x="639" y="121.11" font-size="12.05">2</text>
<text x="639" y="159.39" font-size="12.05">1.5</text>
<text x="639" y="197.67" font-size="12.05">1</text>
<text x="639" y="235.95" font-size="12.05">0.5</text>
<path d="M634.90 40.00h-2.6M634.90 78.28h-2.6M634.90 116.56h-2.6M634.90 154.84h-2.6M634.90 193.12h-2.6M634.90 231.40h-2.6" stroke="#262626" stroke-width="0.7" fill="none"/>
<text x="636" y="13.3" font-size="12.6">×10<tspan dy="-5.4" font-size="9.6">19</tspan></text>
<text x="372.2" y="23.20" font-size="13.2" text-anchor="end">500</text>
<text x="372.2" y="59.02" font-size="13.2" text-anchor="end">450</text>
<text x="372.2" y="94.84" font-size="13.2" text-anchor="end">400</text>
<text x="372.2" y="130.66" font-size="13.2" text-anchor="end">350</text>
<text x="372.2" y="166.48" font-size="13.2" text-anchor="end">300</text>
<text x="372.2" y="202.30" font-size="13.2" text-anchor="end">250</text>
<text x="372.2" y="238.12" font-size="13.2" text-anchor="end">200</text>
<text x="376.60" y="249.8" font-size="13.2" text-anchor="middle">300</text>
<text x="452.80" y="249.8" font-size="13.2" text-anchor="middle">400</text>
<text x="529.00" y="249.8" font-size="13.2" text-anchor="middle">500</text>
<text x="605.50" y="249.8" font-size="13.2" text-anchor="middle">600</text>
<text x="491" y="268.3" font-size="16.3" text-anchor="middle">Distance (m)</text>
<text transform="translate(346.4 125.3) rotate(-90)" font-size="16.42" text-anchor="middle">Thermal power (MW)</text>
<text transform="translate(678 125.6) rotate(-90)" font-size="16.42" text-anchor="middle">Photon beam intensity (s<tspan dy="-6.3" font-size="12.3">-1</tspan><tspan dy="6.3">)</tspan></text>
<text x="383.7" y="40.7" font-size="20.2">(b)</text>
</g>
</svg></body></html>
